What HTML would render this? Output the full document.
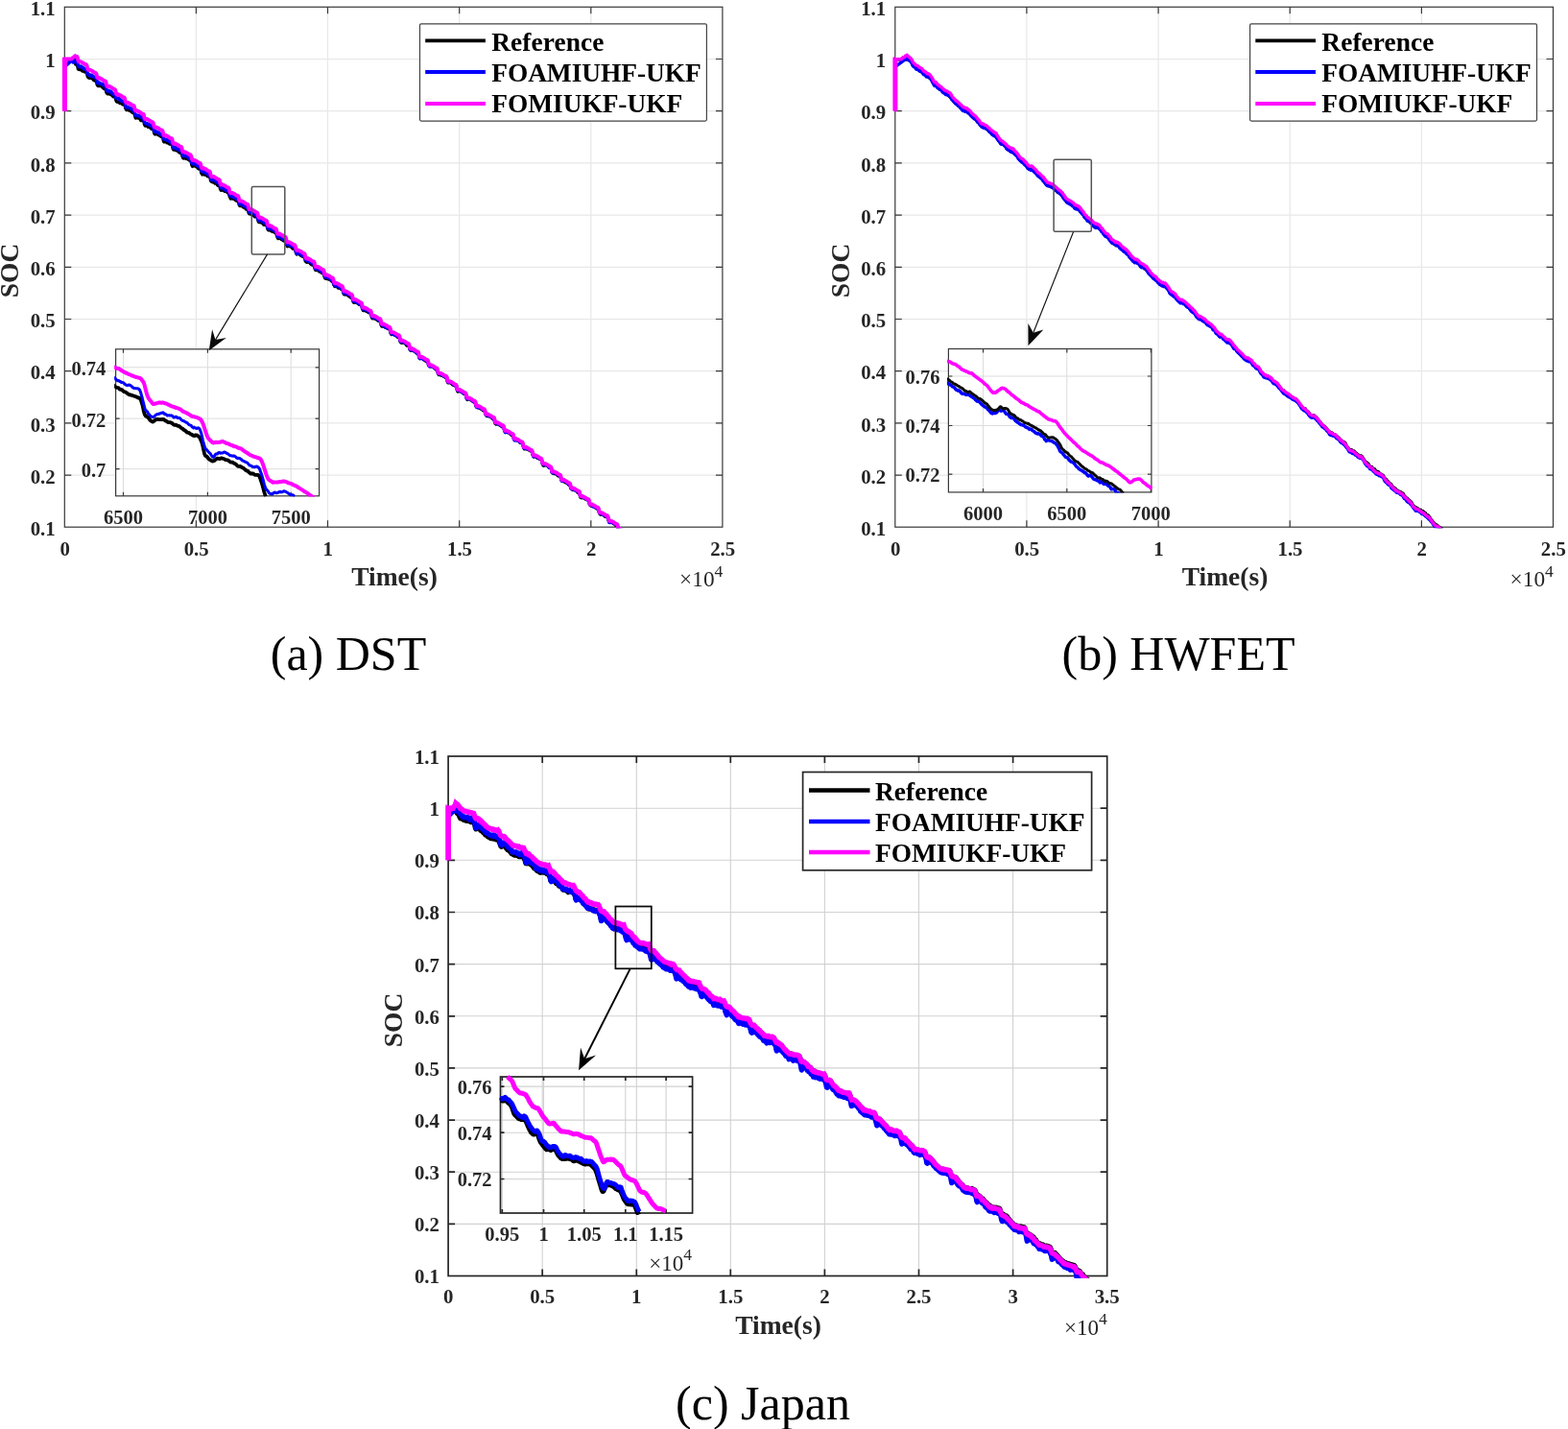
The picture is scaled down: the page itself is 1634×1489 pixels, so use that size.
<!DOCTYPE html>
<html lang="en"><head><meta charset="utf-8"><title>SOC estimation results under DST, HWFET and Japan cycles</title>
<style>html,body{margin:0;padding:0;background:#fff}body{width:1634px;height:1489px;overflow:hidden}svg{display:block}text{font-family:'Liberation Serif','DejaVu Serif',serif}</style>
</head><body>
<svg width="1634" height="1489" viewBox="0 0 1634 1489">
<rect width="1634" height="1489" fill="#fff"/>
<g id="chart-a">
<clipPath id="clipA"><rect x="64.3" y="7.3" width="688.6" height="542.9"/></clipPath>
<path d="M204.4 7.3V549.3M341.5 7.3V549.3M478.7 7.3V549.3M615.8 7.3V549.3M67.3 495.1H752.9M67.3 440.9H752.9M67.3 386.7H752.9M67.3 332.5H752.9M67.3 278.3H752.9M67.3 224.1H752.9M67.3 169.9H752.9M67.3 115.7H752.9M67.3 61.5H752.9" stroke="#e8e8e8" stroke-width="1.25" fill="none"/>
<path d="M204.4 549.3v-7M204.4 7.3v7M341.5 549.3v-7M341.5 7.3v7M478.7 549.3v-7M478.7 7.3v7M615.8 549.3v-7M615.8 7.3v7M67.3 495.1h7M752.9 495.1h-7M67.3 440.9h7M752.9 440.9h-7M67.3 386.7h7M752.9 386.7h-7M67.3 332.5h7M752.9 332.5h-7M67.3 278.3h7M752.9 278.3h-7M67.3 224.1h7M752.9 224.1h-7M67.3 169.9h7M752.9 169.9h-7M67.3 115.7h7M752.9 115.7h-7M67.3 61.5h7M752.9 61.5h-7" stroke="#383838" stroke-width="1.2" fill="none"/>
<rect x="67.3" y="7.3" width="685.6" height="541.9" fill="none" stroke="#383838" stroke-width="1.2"/>
<path d="M67.3 62.1L67.7 62.1L68.1 62.1L68.5 62.1L68.9 62.1L69.4 62.1L69.8 62.1L70.2 62.1L70.6 62.1L71 62.1L71.4 62.1L71.8 62.1L72.2 62.1L72.6 62.1L73.1 62.1L73.5 62.1L73.9 62.1L74.3 62.1L74.7 62.1L75.1 62.1L75.5 62.1L75.9 62.1L76.3 62.1L76.8 62.1L77.2 62.1L77.6 62.1L78 62.1L78.4 62.1L78.8 67.2L79.2 67L79.6 66.9L80.1 67.1L80.5 68.2L80.9 69.4L81.3 71.6L81.7 72.1L82.1 72.4L82.5 72.5L82.9 72.6L83.3 72.6L83.8 72.5L84.2 72.7L84.6 72.9L85 73.3L85.4 73.4L85.8 74L86.2 73.9L86.6 73.8L87 74L87.5 74.3L87.9 74.9L88.3 74.7L88.7 74.7L89.1 74.9L89.5 75.3L89.9 75.5L90.3 75.8L90.7 77.1L91.2 79.5L91.6 80.3L92 80.8L92.4 81L92.8 81L93.2 81.2L93.6 81.4L94 81.5L94.4 81.4L94.9 81.2L95.3 81.1L95.7 81.2L96.1 81.3L96.5 81.9L96.9 82.6L97.3 83.3L97.7 83.5L98.2 83.8L98.6 83.7L99 83.6L99.4 84.1L99.8 84.1L100.2 84.9L100.6 85.4L101 87.6L101.4 88.6L101.9 89.4L102.3 89.6L102.7 89.2L103.1 89.5L103.5 89.3L103.9 89.5L104.3 89.3L104.7 89.3L105.1 89.6L105.6 89.8L106 90.1L106.4 90.3L106.8 91.1L107.2 91.4L107.6 91.7L108 91.9L108.4 92.5L108.8 92.7L109.3 92.6L109.7 92.5L110.1 93.1L110.5 94.4L110.9 96.5L111.3 97L111.7 97.5L112.1 97.8L112.5 97.9L113 97.9L113.4 97.1L113.8 97.4L114.2 97.6L114.6 98.2L115 98.3L115.4 98.5L115.8 98.7L116.3 99L116.7 99.4L117.1 99.8L117.5 100.3L117.9 100.6L118.3 100.9L118.7 100.8L119.1 100.9L119.5 100.9L120 101.2L120.4 102.3L120.8 104.4L121.2 105.3L121.6 106.1L122 106.2L122.4 106.1L122.8 106.3L123.2 106.1L123.7 106.3L124.1 106.9L124.5 107.2L124.9 107.6L125.3 106.9L125.7 107.3L126.1 107.4L126.5 107.7L126.9 108L127.4 108.4L127.8 108.9L128.2 108.7L128.6 108.4L129 108.3L129.4 108.6L129.8 109.1L130.2 110.3L130.6 112.4L131.1 113.5L131.5 114.3L131.9 114.6L132.3 114.5L132.7 114.6L133.1 114.4L133.5 114.2L133.9 114.4L134.4 114.7L134.8 115.2L135.2 115.5L135.6 115.6L136 115.6L136.4 115.7L136.8 116L137.2 116.6L137.6 117.2L138.1 117.3L138.5 117.7L138.9 117.6L139.3 117.7L139.7 117.7L140.1 118.7L140.5 120.8L140.9 122L141.3 123.1L141.8 123.1L142.2 122.7L142.6 122.7L143 122.9L143.4 123L143.8 123L144.2 122.6L144.6 123L145 123L145.5 123.5L145.9 123.9L146.3 124.7L146.7 125.5L147.1 125.5L147.5 125.4L147.9 125.2L148.3 125.4L148.7 125.9L149.2 125.6L149.6 126.2L150 126.6L150.4 129.4L150.8 130.2L151.2 131L151.6 130.7L152 131.1L152.5 131.1L152.9 131.1L153.3 131.1L153.7 131.7L154.1 132.2L154.5 132.4L154.9 132.1L155.3 131.8L155.7 131.6L156.2 132L156.6 132.9L157 133.6L157.4 134.3L157.8 134.3L158.2 134L158.6 133.9L159 134L159.4 134.7L159.9 135.5L160.3 137.4L160.7 138.6L161.1 139.7L161.5 140L161.9 139.6L162.3 139.4L162.7 139.4L163.1 139.3L163.6 139.6L164 139.7L164.4 140.3L164.8 140.5L165.2 140.7L165.6 140.9L166 141L166.4 141.2L166.8 141.7L167.3 142.2L167.7 142.3L168.1 142.3L168.5 142.1L168.9 142.3L169.3 142.2L169.7 143.5L170.1 146L170.6 147.5L171 148L171.4 147.4L171.8 147L172.2 147L172.6 147L173 147.6L173.4 148.1L173.8 148.8L174.3 148.7L174.7 148.5L175.1 148.5L175.5 148.7L175.9 149.4L176.3 149.8L176.7 150.1L177.1 150.1L177.5 150.1L178 150.2L178.4 150.4L178.8 150.4L179.2 151.2L179.6 152.1L180 154.4L180.4 155.2L180.8 156.2L181.2 156.2L181.7 156.1L182.1 156L182.5 155.7L182.9 155.9L183.3 156.6L183.7 156.9L184.1 156.9L184.5 156.6L184.9 156.9L185.4 157.2L185.8 157.6L186.2 158.4L186.6 158.7L187 159L187.4 159.1L187.8 159.4L188.2 159.5L188.7 159.3L189.1 159.7L189.5 160.5L189.9 162.6L190.3 163.3L190.7 164.6L191.1 164.9L191.5 165L191.9 164.6L192.4 164.4L192.8 164.7L193.2 165L193.6 165.3L194 165.4L194.4 165.5L194.8 165.6L195.2 165.7L195.6 165.8L196.1 166L196.5 166.4L196.9 166.8L197.3 167.2L197.7 167.1L198.1 167.2L198.5 167.1L198.9 168L199.3 169.3L199.8 171.9L200.2 172.7L200.6 173.4L201 173.1L201.4 173.1L201.8 172.9L202.2 172.6L202.6 172.7L203 173L203.5 173L203.9 173.1L204.3 173.2L204.7 173.9L205.1 174L205.5 174.1L205.9 174.7L206.3 175.3L206.8 175.8L207.2 175.5L207.6 175.8L208 176L208.4 175.9L208.8 175.9L209.2 177.1L209.6 179.5L210 180.8L210.5 181.2L210.9 181.9L211.3 181.5L211.7 181.5L212.1 180.7L212.5 181.2L212.9 181.5L213.3 182.2L213.7 182.1L214.2 182.2L214.6 181.7L215 181.9L215.4 182.7L215.8 183.3L216.2 183.7L216.6 183.4L217 183.6L217.4 183.9L217.9 184.2L218.3 184.2L218.7 184.7L219.1 185.7L219.5 188.2L219.9 188.8L220.3 189.3L220.7 189.2L221.1 189.5L221.6 189.8L222 189.8L222.4 189.8L222.8 189.9L223.2 190.3L223.6 190.7L224 191.1L224.4 190.9L224.9 191.1L225.3 191.2L225.7 191.5L226.1 191.9L226.5 192.6L226.9 193.3L227.3 193.1L227.7 192.8L228.1 192.6L228.6 193.3L229 194.4L229.4 196.8L229.8 197.5L230.2 198.2L230.6 198L231 197.8L231.4 197.9L231.8 198L232.3 198.3L232.7 198.2L233.1 198.4L233.5 198.9L233.9 199.3L234.3 199.2L234.7 199.3L235.1 199.4L235.5 199.4L236 199.6L236.4 200.2L236.8 200.4L237.2 200.8L237.6 200.6L238 200.9L238.4 201.4L238.8 202.6L239.2 204.6L239.7 205.3L240.1 206.6L240.5 207.1L240.9 206.6L241.3 206.3L241.7 205.9L242.1 206.6L242.5 206.8L243 207.3L243.4 207.3L243.8 207.3L244.2 207.3L244.6 207.7L245 208.1L245.4 208.5L245.8 208.7L246.2 209.1L246.7 209.4L247.1 209.4L247.5 209L247.9 209L248.3 209.4L248.7 211L249.1 213.3L249.5 214L249.9 214.6L250.4 214.5L250.8 214.6L251.2 214.6L251.6 214.4L252 214.5L252.4 214.5L252.8 215.1L253.2 215.5L253.6 216.1L254.1 216.1L254.5 216.3L254.9 216.3L255.3 216.6L255.7 217.2L256.1 217.6L256.5 218.1L256.9 218L257.3 218L257.8 217.7L258.2 218.3L258.6 219.2L259 221.5L259.4 222.3L259.8 222.9L260.2 222.7L260.6 222.5L261.1 222.8L261.5 222.9L261.9 223.5L262.3 223.4L262.7 223.9L263.1 223.8L263.5 223.8L263.9 223.8L264.3 224.4L264.8 225.2L265.2 225.7L265.6 225.9L266 225.8L266.4 225.6L266.8 225.5L267.2 225.9L267.6 226.2L268 226.7L268.5 227.5L268.9 229.6L269.3 231L269.7 231.5L270.1 231.5L270.5 231.5L270.9 231.7L271.3 231.6L271.7 231.4L272.2 231.8L272.6 232.3L273 232.2L273.4 232.4L273.8 232.7L274.2 233.2L274.6 234L275 233.9L275.4 234.3L275.9 234.1L276.3 234.2L276.7 234.2L277.1 233.9L277.5 234.1L277.9 234.4L278.3 235.9L278.7 238.1L279.2 239.3L279.6 239.8L280 239.7L280.4 239.2L280.8 239.4L281.2 239.6L281.6 240.1L282 240.2L282.4 240.3L282.9 240.9L283.3 241.1L283.7 241.2L284.1 240.9L284.5 241.3L284.9 241.6L285.3 241.8L285.7 241.8L286.1 242.1L286.6 242.4L287 242.7L287.4 242.7L287.8 243.1L288.2 244.1L288.6 246.2L289 247.2L289.4 248.2L289.8 248.6L290.3 248L290.7 247.7L291.1 247.9L291.5 248.2L291.9 248.5L292.3 248.4L292.7 249L293.1 249.4L293.5 249.7L294 249.5L294.4 249.8L294.8 250.2L295.2 250.9L295.6 250.9L296 251.1L296.4 250.8L296.8 251L297.3 251L297.7 251.7L298.1 252.7L298.5 255L298.9 255.9L299.3 256.6L299.7 256.8L300.1 256.5L300.5 256.6L301 256.2L301.4 256.4L301.8 256.5L302.2 256.9L302.6 256.8L303 256.9L303.4 256.9L303.8 257.4L304.2 258.2L304.7 258.7L305.1 259.2L305.5 259.2L305.9 259L306.3 259.3L306.7 259.2L307.1 259.6L307.5 259.7L307.9 260.9L308.4 263.2L308.8 264.3L309.2 265L309.6 264.8L310 264.7L310.4 264.4L310.8 264.3L311.2 264.4L311.6 264.8L312.1 265L312.5 265.5L312.9 265.8L313.3 266.1L313.7 265.9L314.1 266.2L314.5 266.9L314.9 267.2L315.4 267.2L315.8 267.3L316.2 267.7L316.6 267.8L317 267.7L317.4 268.2L317.8 269.6L318.2 272L318.6 272.5L319.1 272.9L319.5 273L319.9 273.4L320.3 273.1L320.7 273.1L321.1 272.6L321.5 273L321.9 273L322.3 273.4L322.8 274L323.2 274.5L323.6 275L324 275.4L324.4 275.5L324.8 275.9L325.2 275.7L325.6 275.5L326 275.8L326.5 276.4L326.9 276.9L327.3 276.8L327.7 277.7L328.1 280L328.5 280.9L328.9 281.6L329.3 281.6L329.7 281.3L330.2 280.9L330.6 280.6L331 280.9L331.4 281.3L331.8 282.2L332.2 282.5L332.6 283L333 282.6L333.4 282.4L333.9 282.6L334.3 283.2L334.7 284L335.1 284.3L335.5 284.6L335.9 284.4L336.3 284.6L336.7 284.2L337.2 284.7L337.6 285.7L338 288.3L338.4 289.2L338.8 290L339.2 290.3L339.6 290.4L340 290.4L340.4 289.6L340.9 289.7L341.3 289.9L341.7 290.9L342.1 290.9L342.5 290.9L342.9 290.6L343.3 291.1L343.7 291.5L344.1 291.7L344.6 291.9L345 292.3L345.4 292.7L345.8 293.2L346.2 293.4L346.6 293.6L347 293.8L347.4 294.8L347.8 296.7L348.3 297.5L348.7 298.5L349.1 298.6L349.5 298.4L349.9 297.8L350.3 297.7L350.7 297.8L351.1 298.2L351.5 299.1L352 299.6L352.4 300L352.8 299.6L353.2 299.6L353.6 299.8L354 300L354.4 300.7L354.8 300.7L355.3 301.3L355.7 301.3L356.1 301.8L356.5 301.6L356.9 301.7L357.3 302.6L357.7 304.9L358.1 306L358.5 306.8L359 306.8L359.4 306.9L359.8 306.8L360.2 307L360.6 306.9L361 306.9L361.4 307.1L361.8 307.3L362.2 307.5L362.7 307.7L363.1 308.3L363.5 308.6L363.9 308.9L364.3 308.9L364.7 309.4L365.1 309.8L365.5 310L365.9 309.8L366.4 309.7L366.8 309.7L367.2 310.4L367.6 312.5L368 314.1L368.4 315.1L368.8 315.3L369.2 315.1L369.6 315L370.1 314.8L370.5 315.2L370.9 315.2L371.3 315.6L371.7 315.5L372.1 315.9L372.5 315.9L372.9 316L373.4 316.4L373.8 316.9L374.2 317.2L374.6 317.4L375 317.5L375.4 317.4L375.8 317.4L376.2 317.5L376.6 318.1L377.1 319.3L377.5 321.3L377.9 322.4L378.3 323.4L378.7 323.6L379.1 323.3L379.5 322.9L379.9 323.2L380.3 323.5L380.8 323.8L381.2 323.8L381.6 324.1L382 324.4L382.4 324.5L382.8 324.6L383.2 325L383.6 325.5L384 325.5L384.5 325.8L384.9 325.9L385.3 326L385.7 326.1L386.1 326.2L386.5 326.7L386.9 328.1L387.3 330.4L387.7 331.4L388.2 331.9L388.6 331.6L389 331.5L389.4 331.4L389.8 331.4L390.2 331.6L390.6 332.1L391 332.4L391.5 332.7L391.9 332.5L392.3 333L392.7 333.1L393.1 333.5L393.5 333.8L393.9 334.2L394.3 334.4L394.7 334.5L395.2 334.4L395.6 334.7L396 335L396.4 335.8L396.8 336.8L397.2 338.9L397.6 339.6L398 340.1L398.4 340L398.9 339.8L399.3 339.8L399.7 340.1L400.1 340L400.5 340.1L400.9 340.7L401.3 341.2L401.7 341.3L402.1 341L402.6 341.2L403 341.7L403.4 341.9L403.8 342.3L404.2 342.5L404.6 342.8L405 342.7L405.4 343L405.8 343.1L406.3 343.7L406.7 345L407.1 347.2L407.5 348L407.9 348.6L408.3 348.5L408.7 348.5L409.1 348.1L409.6 348.4L410 348.4L410.4 348.7L410.8 348.7L411.2 349L411.6 349.5L412 349.5L412.4 349.6L412.8 349.3L413.3 349.9L413.7 350.5L414.1 351.2L414.5 351.3L414.9 351L415.3 351.3L415.7 351.4L416.1 352.2L416.5 353.4L417 355.7L417.4 356.2L417.8 357.1L418.2 357.1L418.6 357.3L419 356.9L419.4 356.9L419.8 357L420.2 357L420.7 357.2L421.1 357.3L421.5 357.3L421.9 357.4L422.3 357.8L422.7 358.3L423.1 359.2L423.5 359.5L423.9 360.1L424.4 360L424.8 360.1L425.2 359.8L425.6 359.9L426 359.9L426.4 361.1L426.8 363.4L427.2 364.4L427.7 365.2L428.1 365L428.5 365.2L428.9 365.2L429.3 364.8L429.7 364.7L430.1 364.5L430.5 365L430.9 365.7L431.4 365.9L431.8 366L432.2 366L432.6 366.4L433 366.6L433.4 367L433.8 367.6L434.2 368.3L434.6 368.3L435.1 368L435.5 367.8L435.9 368.4L436.3 369.8L436.7 371.8L437.1 372.9L437.5 373.7L437.9 373.7L438.3 373.4L438.8 373.2L439.2 373.2L439.6 373L440 373.1L440.4 373.4L440.8 374.2L441.2 374.7L441.6 375.1L442 375.1L442.5 375.3L442.9 375.8L443.3 375.9L443.7 376.3L444.1 376.2L444.5 376.3L444.9 376L445.3 376.6L445.8 377.4L446.2 378.7L446.6 380.6L447 381L447.4 381.6L447.8 381.8L448.2 381.6L448.6 381.8L449 381.6L449.5 381.8L449.9 381.8L450.3 382L450.7 382.4L451.1 382.3L451.5 382.5L451.9 382.7L452.3 383.4L452.7 383.8L453.2 383.9L453.6 384L454 384L454.4 384.7L454.8 385.5L455.2 385.7L455.6 385.9L456 386.8L456.4 389L456.9 389.9L457.3 390.6L457.7 390.7L458.1 390.4L458.5 390.3L458.9 390.1L459.3 390.8L459.7 391.2L460.1 391.3L460.6 390.8L461 390.5L461.4 391.1L461.8 391.6L462.2 392.3L462.6 392.3L463 392.5L463.4 392.8L463.9 393.2L464.3 393.3L464.7 393.6L465.1 393.6L465.5 394.6L465.9 395.6L466.3 398L466.7 398.4L467.1 398.9L467.6 398.9L468 398.7L468.4 398.8L468.8 398.6L469.2 398.9L469.6 399.1L470 399.2L470.4 399.6L470.8 400L471.3 400.6L471.7 400.9L472.1 401.2L472.5 401.2L472.9 401.2L473.3 401.2L473.7 401.7L474.1 401.4L474.5 401.6L475 401.7L475.4 402.1L475.8 403.5L476.2 405.9L476.6 407.3L477 408.1L477.4 408L477.8 407.7L478.2 407.1L478.7 407.5L479.1 407.5L479.5 407.7L479.9 407.7L480.3 408L480.7 408.2L481.1 408.3L481.5 408.6L482 409.2L482.4 409.4L482.8 409.8L483.2 410.3L483.6 410.7L484 410.7L484.4 410.7L484.8 410.4L485.2 411L485.7 412.2L486.1 414.7L486.5 415.8L486.9 416.5L487.3 416.4L487.7 416L488.1 415.7L488.5 415.8L488.9 416L489.4 416.1L489.8 416.2L490.2 416.5L490.6 416.9L491 416.8L491.4 417.2L491.8 417.6L492.2 418L492.6 418.3L493.1 418.5L493.5 418.9L493.9 418.9L494.3 419L494.7 419.1L495.1 419.7L495.5 421.1L495.9 423.2L496.3 423.8L496.8 423.9L497.2 424.2L497.6 424.2L498 424.5L498.4 424.5L498.8 424.7L499.2 424.9L499.6 425.1L500.1 425.5L500.5 425.8L500.9 426L501.3 425.9L501.7 425.9L502.1 426L502.5 426.7L502.9 427.3L503.3 427.6L503.8 427.7L504.2 427.7L504.6 428.1L505 428.3L505.4 429L505.8 430.8L506.2 431.5L506.6 432.6L507 433L507.5 433.5L507.9 433L508.3 433L508.7 432.9L509.1 433.4L509.5 433.8L509.9 433.9L510.3 434L510.7 433.8L511.2 434.3L511.6 434.7L512 434.9L512.4 434.9L512.8 435.5L513.2 436.1L513.6 436.5L514 436.4L514.4 436.4L514.9 437.1L515.3 438.5L515.7 440.2L516.1 441.4L516.5 441.7L516.9 442.1L517.3 441.5L517.7 441.7L518.2 441.6L518.6 441.9L519 442.1L519.4 442.3L519.8 442.4L520.2 442.8L520.6 442.8L521 443.1L521.4 443.1L521.9 443.7L522.3 443.9L522.7 444.4L523.1 444.5L523.5 444.9L523.9 445L524.3 444.8L524.7 445.1L525.1 446L525.6 448.7L526 449.4L526.4 450.1L526.8 449.9L527.2 450.4L527.6 450.4L528 450.1L528.4 450.1L528.8 450.5L529.3 450.8L529.7 450.9L530.1 450.9L530.5 450.9L530.9 451.2L531.3 451.5L531.7 452.3L532.1 452.3L532.5 453L533 453.2L533.4 453.7L533.8 453.4L534.2 453.5L534.6 453.7L535 454.9L535.4 456.7L535.8 457.5L536.3 458.4L536.7 458.7L537.1 458.6L537.5 458.3L537.9 458.4L538.3 458.7L538.7 459.1L539.1 459L539.5 459.2L540 459.5L540.4 459.6L540.8 459.8L541.2 460.2L541.6 461L542 461.4L542.4 461.3L542.8 461.5L543.2 461.6L543.7 461.8L544.1 461.4L544.5 461.9L544.9 463.2L545.3 465.2L545.7 466.6L546.1 467.2L546.5 467.9L546.9 467.7L547.4 467.6L547.8 467.4L548.2 467.5L548.6 467.8L549 468.2L549.4 468.2L549.8 468.2L550.2 467.9L550.6 468.3L551.1 468.8L551.5 469.4L551.9 469.4L552.3 469.6L552.7 469.8L553.1 470L553.5 469.9L553.9 470.4L554.4 471L554.8 472.3L555.2 474.1L555.6 475.1L556 475.8L556.4 476L556.8 475.8L557.2 475.8L557.6 475.5L558.1 475.6L558.5 475.7L558.9 476.2L559.3 476.7L559.7 477.2L560.1 477.3L560.5 477.5L560.9 477.1L561.3 477.6L561.8 477.8L562.2 478.4L562.6 478.2L563 478.2L563.4 478.4L563.8 478.5L564.2 479L564.6 480.1L565 482.5L565.5 483.9L565.9 484.8L566.3 485.3L566.7 485.2L567.1 485.1L567.5 484.5L567.9 484.8L568.3 484.8L568.7 484.9L569.2 484.6L569.6 484.9L570 485.1L570.4 485.5L570.8 485.5L571.2 486.2L571.6 486.5L572 487.2L572.5 487L572.9 487L573.3 486.7L573.7 487.1L574.1 487.6L574.5 488.9L574.9 491.3L575.3 492.3L575.7 493L576.2 493L576.6 493.3L577 493.2L577.4 493.1L577.8 493.2L578.2 493.7L578.6 493.9L579 493.8L579.4 493.8L579.9 493.7L580.3 494L580.7 494.6L581.1 495.4L581.5 495.9L581.9 496L582.3 495.9L582.7 495.2L583.1 495.4L583.6 495.5L584 496.6L584.4 497.9L584.8 500L585.2 500.5L585.6 501.1L586 501.5L586.4 501.5L586.8 501.4L587.3 501.3L587.7 501.4L588.1 501.9L588.5 502.2L588.9 502.7L589.3 502.8L589.7 502.7L590.1 502.7L590.5 502.6L591 502.9L591.4 503.6L591.8 504.3L592.2 504.9L592.6 504.5L593 504.4L593.4 504.3L593.8 505.1L594.3 506.4L594.7 508.6L595.1 509.2L595.5 509.5L595.9 509.8L596.3 509.9L596.7 510.4L597.1 510.6L597.5 510.4L598 510.4L598.4 510.3L598.8 510.5L599.2 510.7L599.6 510.7L600 511.2L600.4 511.5L600.8 511.8L601.2 512.2L601.7 513L602.1 513.2L602.5 513.4L602.9 512.8L603.3 512.8L603.7 512.9L604.1 514.3L604.5 517.1L604.9 518.2L605.4 518.6L605.8 518.4L606.2 518.5L606.6 518.7L607 518.3L607.4 518.2L607.8 518.3L608.2 518.7L608.6 519.1L609.1 519.3L609.5 519.5L609.9 519.7L610.3 520.2L610.7 520.4L611.1 520.3L611.5 520.3L611.9 520.7L612.4 521L612.8 521.2L613.2 521.3L613.6 522.1L614 523.3L614.4 525.3L614.8 526.2L615.2 526.6L615.6 527L616.1 527L616.5 527.3L616.9 527.3L617.3 527.4L617.7 527.5L618.1 527.3L618.5 527.1L618.9 527.1L619.3 527.8L619.8 528.2L620.2 528.8L620.6 528.9L621 529.4L621.4 529.6L621.8 530L622.2 529.9L622.6 530.1L623 529.6L623.5 530.3L623.9 531.2L624.3 533.8L624.7 534.6L625.1 535.7L625.5 535.9L625.9 536.2L626.3 535.9L626.7 535.5L627.2 535.6L627.6 535.6L628 536L628.4 536L628.8 536.2L629.2 536.5L629.6 537.1L630 537.9L630.5 538.3L630.9 538.2L631.3 538.4L631.7 538.4L632.1 538.7L632.5 538.3L632.9 538.7L633.3 539.1L633.7 540.5L634.2 542.4L634.6 543.4L635 544.1L635.4 544L635.8 544L636.2 543.6L636.6 543.5L637 543.5L637.4 543.9L637.9 544.4L638.3 544.8L638.7 545.2L639.1 545.4L639.5 545.7L639.9 545.8L640.3 546L640.7 546.1L641.1 546.8L641.6 547.4L642 547.5L642.4 547.3L642.8 547.3L643.2 548.4L643.6 549.3L644 551.4L644.4 552L644.8 552.6L645.3 553L645.7 553.1L646.1 553L646.5 553.1L646.9 553.1L647.3 553.4L647.7 553.1L648.1 553.2L648.6 553L649 553.7L649.4 554.1L649.8 554.7L650.2 554.9L650.6 554.9L651 555.2" stroke="#000" stroke-width="3.3" fill="none" stroke-linejoin="round" stroke-linecap="butt" clip-path="url(#clipA)"/>
<path d="M67.3 69.7L67.7 69.3L68.1 68.9L68.5 68.6L68.9 68.2L69.4 67.8L69.8 67.5L70.2 67.1L70.6 66.7L71 66.3L71.4 66L71.8 65.6L72.2 65.2L72.6 64.9L73.1 64.5L73.5 64.1L73.9 63.8L74.3 63.4L74.7 63L75.1 62.7L75.5 62.3L75.9 61.9L76.3 64.9L76.8 64.8L77.2 64.6L77.6 64.3L78 63.8L78.4 63.6L78.8 63.8L79.2 64.1L79.6 64.1L80.1 64.1L80.5 64.6L80.9 65.4L81.3 67.6L81.7 68.2L82.1 69.3L82.5 69.4L82.9 69.6L83.3 69.4L83.8 69.2L84.2 69.1L84.6 69.2L85 69.4L85.4 70L85.8 70.4L86.2 70.4L86.6 70.5L87 71L87.5 71.7L87.9 72.2L88.3 72L88.7 72.2L89.1 71.7L89.5 71.9L89.9 72L90.3 73L90.7 74L91.2 76.2L91.6 77.2L92 78L92.4 78.1L92.8 77.6L93.2 77.7L93.6 78.1L94 78.3L94.4 78.9L94.9 78.3L95.3 78.4L95.7 78.3L96.1 78.9L96.5 79.7L96.9 79.8L97.3 79.9L97.7 80.1L98.2 80.6L98.6 80.4L99 80.4L99.4 80.3L99.8 80.7L100.2 81L100.6 82L101 84.4L101.4 85.6L101.9 86.7L102.3 86.8L102.7 86.4L103.1 86.3L103.5 86.1L103.9 86.6L104.3 86.8L104.7 86.9L105.1 87.1L105.6 87.3L106 87.5L106.4 87.5L106.8 87.6L107.2 88L107.6 88.7L108 89.1L108.4 89.2L108.8 88.8L109.3 89.2L109.7 88.9L110.1 89.8L110.5 90.6L110.9 93.2L111.3 94L111.7 94.7L112.1 94.9L112.5 95.1L113 95.4L113.4 95.2L113.8 94.5L114.2 94.8L114.6 95.1L115 95.5L115.4 95.3L115.8 95.5L116.3 96.3L116.7 97L117.1 97.4L117.5 97.5L117.9 97.9L118.3 98.3L118.7 98.3L119.1 98.1L119.5 98L120 98.6L120.4 99.8L120.8 101.6L121.2 102.1L121.6 102.3L122 102.5L122.4 102.6L122.8 102.6L123.2 102.3L123.7 102.3L124.1 102.6L124.5 103.3L124.9 104.1L125.3 104.3L125.7 104.4L126.1 104.3L126.5 105L126.9 105.5L127.4 105.6L127.8 105.6L128.2 105.8L128.6 106.1L129 106.3L129.4 106.1L129.8 106.2L130.2 107.3L130.6 109.8L131.1 111.1L131.5 112L131.9 111.7L132.3 111.6L132.7 111.4L133.1 111.5L133.5 111.6L133.9 112L134.4 112L134.8 112.4L135.2 112.7L135.6 112.9L136 113.1L136.4 113L136.8 113.3L137.2 113.4L137.6 114L138.1 114.3L138.5 114.9L138.9 114.8L139.3 115.1L139.7 114.9L140.1 116.3L140.5 118.4L140.9 119.5L141.3 120.3L141.8 120.4L142.2 120.2L142.6 120L143 120.2L143.4 120.5L143.8 120.6L144.2 120.4L144.6 120.3L145 120.5L145.5 121.1L145.9 121.3L146.3 121.6L146.7 121.8L147.1 122.1L147.5 122.3L147.9 122.4L148.3 122.9L148.7 123.3L149.2 123.8L149.6 124L150 125L150.4 126.6L150.8 127.5L151.2 128.3L151.6 128.2L152 128.4L152.5 128.5L152.9 128.9L153.3 128.7L153.7 128.8L154.1 129L154.5 129.6L154.9 129.4L155.3 129.6L155.7 129.8L156.2 130.4L156.6 130.8L157 130.9L157.4 131L157.8 131.1L158.2 131.2L158.6 131.6L159 131.7L159.4 132L159.9 132.9L160.3 135.1L160.7 136.3L161.1 137.2L161.5 137L161.9 136.8L162.3 136.7L162.7 137.2L163.1 137.1L163.6 137.6L164 137.7L164.4 138.2L164.8 138.1L165.2 138L165.6 138.3L166 138.7L166.4 139.1L166.8 139.6L167.3 139.9L167.7 140.2L168.1 139.9L168.5 140L168.9 139.8L169.3 140.2L169.7 141L170.1 143.2L170.6 144.1L171 145L171.4 145.1L171.8 145.3L172.2 145.2L172.6 145.2L173 145.2L173.4 145.3L173.8 145.9L174.3 146.2L174.7 146.4L175.1 146.3L175.5 146.1L175.9 146.6L176.3 147L176.7 147.4L177.1 147.6L177.5 148.1L178 148.5L178.4 148.4L178.8 148.5L179.2 148.7L179.6 150.2L180 151.9L180.4 153.1L180.8 153.7L181.2 154.4L181.7 154.2L182.1 153.9L182.5 153.7L182.9 153.6L183.3 154.2L183.7 154.2L184.1 155.1L184.5 155L184.9 155.3L185.4 155.1L185.8 155.8L186.2 156.2L186.6 156.2L187 156.4L187.4 156.2L187.8 156.6L188.2 156.5L188.7 156.9L189.1 157.3L189.5 157.9L189.9 159.9L190.3 160.8L190.7 162.1L191.1 162.1L191.5 161.9L191.9 162L192.4 162.4L192.8 162.4L193.2 162.2L193.6 162.2L194 162.7L194.4 162.7L194.8 162.8L195.2 163.1L195.6 163.3L196.1 163.7L196.5 164.2L196.9 165L197.3 165.2L197.7 165.3L198.1 165.3L198.5 165.3L198.9 166.3L199.3 167.5L199.8 169.6L200.2 169.8L200.6 170.5L201 170.8L201.4 170.7L201.8 170.5L202.2 170.4L202.6 170.4L203 170.7L203.5 170.7L203.9 171.3L204.3 171.4L204.7 171.8L205.1 172.2L205.5 172.3L205.9 172.6L206.3 172.8L206.8 173.5L207.2 173.6L207.6 173.8L208 174L208.4 173.8L208.8 174.3L209.2 174.8L209.6 177.4L210 178.1L210.5 178.6L210.9 178.5L211.3 178.7L211.7 179L212.1 178.9L212.5 179L212.9 179.3L213.3 179.7L213.7 179.8L214.2 180L214.6 180.2L215 180.4L215.4 180.7L215.8 180.3L216.2 180.8L216.6 181.3L217 182.1L217.4 182.1L217.9 182.2L218.3 182.4L218.7 182.7L219.1 183.8L219.5 185.5L219.9 186.7L220.3 187.4L220.7 187.4L221.1 187.4L221.6 187.3L222 187.6L222.4 187.4L222.8 187.3L223.2 187.4L223.6 187.6L224 187.8L224.4 188.1L224.9 188.7L225.3 189.3L225.7 189.7L226.1 189.7L226.5 190L226.9 190L227.3 190.4L227.7 190.3L228.1 190.7L228.6 190.9L229 191.9L229.4 193.9L229.8 194.9L230.2 195.7L230.6 195.8L231 195.9L231.4 195.7L231.8 195.6L232.3 195.9L232.7 196.2L233.1 196.8L233.5 196.9L233.9 197L234.3 197.1L234.7 197.6L235.1 198L235.5 198.4L236 198.4L236.4 198.6L236.8 198.4L237.2 198.6L237.6 198.5L238 199.1L238.4 199.3L238.8 200.6L239.2 202.5L239.7 203.5L240.1 203.9L240.5 204.3L240.9 204.5L241.3 204.2L241.7 203.8L242.1 203.8L242.5 204.4L243 205L243.4 205.3L243.8 205.5L244.2 205.6L244.6 205.4L245 205.7L245.4 205.8L245.8 206.7L246.2 206.9L246.7 207.3L247.1 207.6L247.5 207.6L247.9 207.5L248.3 207.5L248.7 208.4L249.1 211L249.5 212.1L249.9 212.9L250.4 212.7L250.8 212.4L251.2 212.5L251.6 212.3L252 212.7L252.4 212.8L252.8 213.6L253.2 213.8L253.6 213.9L254.1 214.1L254.5 214.3L254.9 214.6L255.3 214.8L255.7 214.9L256.1 215.4L256.5 215.4L256.9 215.7L257.3 215.5L257.8 216.2L258.2 216.6L258.6 217.7L259 219.3L259.4 220.5L259.8 221L260.2 221.4L260.6 220.9L261.1 221L261.5 220.8L261.9 220.8L262.3 221.4L262.7 221.5L263.1 222.1L263.5 222L263.9 222L264.3 222.1L264.8 222.5L265.2 222.8L265.6 223.5L266 223.9L266.4 224L266.8 224.2L267.2 224.2L267.6 224.9L268 225.2L268.5 226.6L268.9 228.2L269.3 229.3L269.7 229.8L270.1 229.9L270.5 229.4L270.9 229.2L271.3 229L271.7 229.2L272.2 229.4L272.6 229.8L273 230.2L273.4 230.8L273.8 231L274.2 230.9L274.6 231.1L275 231.6L275.4 232.2L275.9 232.1L276.3 231.9L276.7 232.3L277.1 232.6L277.5 233L277.9 233.2L278.3 234.7L278.7 236.6L279.2 237.6L279.6 237.9L280 238.2L280.4 238.2L280.8 238.1L281.2 238.1L281.6 238.2L282 238.4L282.4 238.5L282.9 238.8L283.3 238.9L283.7 239.1L284.1 239.2L284.5 239.6L284.9 239.6L285.3 239.7L285.7 239.8L286.1 240.2L286.6 240.7L287 240.8L287.4 240.7L287.8 241.1L288.2 242.3L288.6 244.8L289 246L289.4 246.6L289.8 246.6L290.3 246.2L290.7 246L291.1 245.7L291.5 246L291.9 246.8L292.3 247.6L292.7 247.7L293.1 247.8L293.5 247.5L294 247.7L294.4 248.1L294.8 248.5L295.2 249.2L295.6 249.1L296 249.4L296.4 249.1L296.8 249.6L297.3 249.5L297.7 250L298.1 251L298.5 253.3L298.9 253.9L299.3 254.6L299.7 254.5L300.1 254.9L300.5 254.9L301 254.7L301.4 254.7L301.8 254.7L302.2 255.7L302.6 255.9L303 256L303.4 255.7L303.8 256L304.2 256.2L304.7 256.5L305.1 256.7L305.5 257.1L305.9 257.2L306.3 257.6L306.7 257.9L307.1 258.3L307.5 258.9L307.9 260L308.4 262.3L308.8 262.9L309.2 264.2L309.6 264.2L310 264.1L310.4 263.5L310.8 263.4L311.2 263.6L311.6 264L312.1 263.8L312.5 264L312.9 264L313.3 264.1L313.7 264.6L314.1 265.3L314.5 266.1L314.9 266.2L315.4 266.3L315.8 266.4L316.2 266.4L316.6 266.6L317 266.7L317.4 267.4L317.8 268L318.2 270.2L318.6 270.4L319.1 271.1L319.5 271.3L319.9 271.6L320.3 271.6L320.7 271.7L321.1 272.1L321.5 272.2L321.9 272L322.3 272.1L322.8 272.5L323.2 273L323.6 273L324 273L324.4 273.4L324.8 274L325.2 274.6L325.6 274.6L326 274.5L326.5 274.3L326.9 274.5L327.3 275.3L327.7 276.5L328.1 278.5L328.5 279.3L328.9 280.1L329.3 280.2L329.7 279.9L330.2 279.9L330.6 279.8L331 280L331.4 280.5L331.8 280.7L332.2 280.9L332.6 280.7L333 281.2L333.4 281.6L333.9 282L334.3 282.5L334.7 282.7L335.1 283.1L335.5 283.1L335.9 283.2L336.3 283.7L336.7 283.7L337.2 284.1L337.6 284.6L338 286.5L338.4 287.3L338.8 288.1L339.2 288.9L339.6 288.8L340 288.7L340.4 288L340.9 288.2L341.3 288.7L341.7 289.2L342.1 289.4L342.5 289.5L342.9 289.5L343.3 289.7L343.7 290.3L344.1 290.4L344.6 290.9L345 291.4L345.4 291.8L345.8 291.5L346.2 291.1L346.6 291.3L347 291.9L347.4 293.1L347.8 295.4L348.3 296.7L348.7 297.4L349.1 297.6L349.5 297.3L349.9 296.9L350.3 296.8L350.7 296.9L351.1 297.7L351.5 298L352 298.2L352.4 297.8L352.8 297.6L353.2 297.7L353.6 298.5L354 299.1L354.4 300.1L354.8 300.2L355.3 300.3L355.7 299.9L356.1 300.2L356.5 300.3L356.9 300.6L357.3 301.4L357.7 303.8L358.1 304.8L358.5 305.5L359 305.5L359.4 305.3L359.8 305.2L360.2 305.5L360.6 305.8L361 305.9L361.4 306L361.8 306.1L362.2 306.5L362.7 306.3L363.1 306.5L363.5 306.7L363.9 307.1L364.3 307.3L364.7 307.7L365.1 307.9L365.5 308L365.9 308.1L366.4 308.4L366.8 309.2L367.2 310.2L367.6 312.4L368 313.2L368.4 313.7L368.8 313.9L369.2 313.8L369.6 314.1L370.1 314L370.5 314L370.9 314.3L371.3 314.5L371.7 315L372.1 315.1L372.5 315.2L372.9 315.3L373.4 315.4L373.8 315.6L374.2 315.9L374.6 316.8L375 317L375.4 316.8L375.8 316.7L376.2 317L376.6 317.6L377.1 318.7L377.5 321L377.9 321.7L378.3 322.1L378.7 322.1L379.1 322.1L379.5 322.1L379.9 322.4L380.3 322.5L380.8 322.8L381.2 322.7L381.6 322.9L382 322.9L382.4 323L382.8 323.6L383.2 323.8L383.6 323.8L384 324.1L384.5 324.7L384.9 325.3L385.3 325.4L385.7 325.3L386.1 325.5L386.5 325.7L386.9 326.8L387.3 328.9L387.7 329.6L388.2 330.6L388.6 330.7L389 330.8L389.4 330.8L389.8 330.9L390.2 331.2L390.6 331.3L391 331.1L391.5 331.3L391.9 330.8L392.3 331.2L392.7 331.5L393.1 332L393.5 332.3L393.9 332.2L394.3 333.5L394.7 333.8L395.2 334L395.6 333.2L396 333.1L396.4 334L396.8 335.4L397.2 337.5L397.6 338.2L398 338.7L398.4 339.1L398.9 338.9L399.3 338.8L399.7 338L400.1 338.2L400.5 338.5L400.9 339.5L401.3 340.1L401.7 340.8L402.1 340.8L402.6 340.3L403 340.2L403.4 341.1L403.8 341.8L404.2 342.1L404.6 342L405 341.8L405.4 341.6L405.8 341.4L406.3 342.3L406.7 343.5L407.1 346.2L407.5 346.7L407.9 347.7L408.3 347.4L408.7 347.5L409.1 347.2L409.6 347.6L410 347.6L410.4 348.3L410.8 348.5L411.2 349L411.6 348.4L412 348.4L412.4 348.5L412.8 349.1L413.3 349L413.7 349.2L414.1 349.9L414.5 350.7L414.9 350.8L415.3 350.4L415.7 350.4L416.1 350.9L416.5 352.4L417 354.8L417.4 355.5L417.8 355.9L418.2 355.7L418.6 356.1L419 356L419.4 356L419.8 355.5L420.2 355.7L420.7 356L421.1 356.5L421.5 356.8L421.9 356.9L422.3 357.4L422.7 357.6L423.1 357.4L423.5 357.6L423.9 357.8L424.4 358.5L424.8 358.7L425.2 359.1L425.6 359.2L426 359.4L426.4 360.3L426.8 362.8L427.2 363.8L427.7 364.7L428.1 363.9L428.5 364.2L428.9 364.2L429.3 364.2L429.7 364L430.1 364L430.5 364.6L430.9 365.1L431.4 365.5L431.8 365.7L432.2 365.7L432.6 366L433 366L433.4 366.6L433.8 367.2L434.2 367.6L434.6 367.4L435.1 367.3L435.5 367.5L435.9 368.3L436.3 369.8L436.7 372L437.1 372.9L437.5 373.4L437.9 373.5L438.3 373.2L438.8 373.2L439.2 372.8L439.6 372.9L440 373L440.4 373.4L440.8 373.8L441.2 374.3L441.6 374.3L442 374.2L442.5 374.1L442.9 374.4L443.3 374.9L443.7 375.2L444.1 375.5L444.5 375.8L444.9 375.9L445.3 376.1L445.8 376.6L446.2 377.9L446.6 380.1L447 380.8L447.4 381.6L447.8 381.6L448.2 381.6L448.6 381.4L449 381.2L449.5 381.2L449.9 381.4L450.3 381.5L450.7 382.1L451.1 382.2L451.5 382.3L451.9 382.2L452.3 382.3L452.7 383.1L453.2 383.3L453.6 383.9L454 383.8L454.4 384.1L454.8 383.9L455.2 384.4L455.6 384.9L456 386.5L456.4 388.5L456.9 389.2L457.3 389.5L457.7 389.5L458.1 389.4L458.5 389.4L458.9 389.4L459.3 389.8L459.7 389.9L460.1 390.2L460.6 390.2L461 390.6L461.4 390.9L461.8 391.4L462.2 391.7L462.6 391.8L463 392.3L463.4 392.5L463.9 392.2L464.3 392L464.7 392.1L465.1 392.8L465.5 393.4L465.9 394.4L466.3 396.6L466.7 397.7L467.1 398.2L467.6 398.3L468 397.8L468.4 398L468.8 397.7L469.2 398L469.6 397.7L470 398L470.4 398L470.8 398.7L471.3 399.4L471.7 399.9L472.1 400.1L472.5 400.1L472.9 400.5L473.3 401.1L473.7 401.6L474.1 401.7L474.5 401.5L475 401.3L475.4 401.6L475.8 402.8L476.2 405L476.6 406.1L477 406.7L477.4 406.8L477.8 406.6L478.2 406.6L478.7 406.6L479.1 406.6L479.5 406.6L479.9 407.2L480.3 407.7L480.7 408L481.1 407.7L481.5 408.3L482 409L482.4 409.6L482.8 409.5L483.2 409.8L483.6 409.7L484 409.7L484.4 409.4L484.8 409.6L485.2 410.5L485.7 411.7L486.1 414.5L486.5 415L486.9 415.5L487.3 415.1L487.7 415.4L488.1 415.5L488.5 415.3L488.9 415.5L489.4 415.7L489.8 416L490.2 416.2L490.6 416.5L491 416.6L491.4 416.5L491.8 416.4L492.2 416.9L492.6 417.6L493.1 418.2L493.5 418.6L493.9 418.6L494.3 418.6L494.7 418.3L495.1 418.7L495.5 419.5L495.9 422.2L496.3 423.2L496.8 424.2L497.2 424.5L497.6 424.7L498 424.7L498.4 424.2L498.8 423.9L499.2 424.1L499.6 424.4L500.1 425L500.5 425.2L500.9 425L501.3 424.9L501.7 425.3L502.1 425.9L502.5 426.3L502.9 426.2L503.3 426.6L503.8 426.7L504.2 426.9L504.6 427L505 427.6L505.4 428.8L505.8 430.9L506.2 431.8L506.6 432.7L507 432.8L507.5 432.5L507.9 432.2L508.3 432.5L508.7 432.6L509.1 432.9L509.5 432.7L509.9 433.2L510.3 433.4L510.7 433.8L511.2 434.2L511.6 434.4L512 434.5L512.4 434.8L512.8 434.8L513.2 434.9L513.6 434.8L514 434.9L514.4 435.1L514.9 435.8L515.3 437.3L515.7 439.5L516.1 440L516.5 440.5L516.9 440.6L517.3 441L517.7 441L518.2 440.6L518.6 440.7L519 440.8L519.4 441.3L519.8 441.4L520.2 441.9L520.6 442.3L521 442.6L521.4 442.6L521.9 443.1L522.3 443.4L522.7 444L523.1 444.2L523.5 444.3L523.9 444.7L524.3 444.4L524.7 444.7L525.1 445.8L525.6 447.8L526 449L526.4 449.9L526.8 450.5L527.2 450.2L527.6 450.2L528 449.9L528.4 450L528.8 449.7L529.3 449.9L529.7 450L530.1 450.4L530.5 450.4L530.9 451L531.3 451.2L531.7 451.7L532.1 451.8L532.5 451.8L533 452L533.4 452.1L533.8 452.6L534.2 452.7L534.6 453.6L535 454.5L535.4 457L535.8 457.9L536.3 458.8L536.7 458.8L537.1 458.3L537.5 458.1L537.9 457.8L538.3 458.1L538.7 458.6L539.1 458.4L539.5 458.5L540 458.4L540.4 458.6L540.8 459.1L541.2 459.6L541.6 460.4L542 460.4L542.4 460.8L542.8 460.8L543.2 461.3L543.7 461.6L544.1 461.8L544.5 461.9L544.9 462.9L545.3 464.9L545.7 465.9L546.1 467L546.5 467.2L546.9 466.8L547.4 466.6L547.8 466.7L548.2 467.4L548.6 467.2L549 467.4L549.4 467.1L549.8 467.6L550.2 467.6L550.6 468L551.1 468L551.5 468L551.9 468.2L552.3 469L552.7 469.2L553.1 469.3L553.5 469.3L553.9 469.6L554.4 470.4L554.8 471.3L555.2 473.6L555.6 474.5L556 475.6L556.4 475.6L556.8 475.4L557.2 475.4L557.6 475.3L558.1 475.4L558.5 475.1L558.9 475.2L559.3 475.6L559.7 475.8L560.1 476.1L560.5 476.3L560.9 477L561.3 477.2L561.8 477.3L562.2 477.6L562.6 478L563 478.3L563.4 478.5L563.8 478.8L564.2 479.1L564.6 480L565 481.9L565.5 482.9L565.9 483.7L566.3 483.7L566.7 483.9L567.1 483.7L567.5 484.1L567.9 483.9L568.3 484.3L568.7 484.3L569.2 484.4L569.6 484.8L570 484.7L570.4 484.8L570.8 484.8L571.2 485.3L571.6 485.9L572 486.7L572.5 487.3L572.9 487.3L573.3 487.5L573.7 487.1L574.1 487.6L574.5 488.3L574.9 490.9L575.3 492.2L575.7 492.8L576.2 492.7L576.6 492.1L577 492.2L577.4 492.1L577.8 492.4L578.2 492.4L578.6 492.8L579 493L579.4 492.8L579.9 492.8L580.3 492.9L580.7 493.7L581.1 494.3L581.5 494.6L581.9 494.7L582.3 495.1L582.7 495L583.1 494.8L583.6 494.6L584 495.5L584.4 497L584.8 499.5L585.2 500.6L585.6 501.2L586 501.2L586.4 500.7L586.8 500.2L587.3 500L587.7 500.3L588.1 501L588.5 501.3L588.9 501.2L589.3 501.4L589.7 501.5L590.1 502.2L590.5 502.7L591 503.2L591.4 503.2L591.8 503.5L592.2 503.4L592.6 503.9L593 503.8L593.4 504.2L593.8 504.2L594.3 505.5L594.7 507.8L595.1 509L595.5 509.5L595.9 509.3L596.3 509.4L596.7 509.6L597.1 509.9L597.5 509.5L598 509.5L598.4 509.4L598.8 510.3L599.2 510.5L599.6 510.9L600 510.5L600.4 511.2L600.8 511.2L601.2 511.6L601.7 511.5L602.1 512.2L602.5 512.1L602.9 512.2L603.3 512.1L603.7 512.9L604.1 514.1L604.5 516.2L604.9 517.1L605.4 517.6L605.8 517.6L606.2 517.7L606.6 517.8L607 517.7L607.4 517.8L607.8 518.1L608.2 518.3L608.6 518.4L609.1 518.6L609.5 518.9L609.9 519L610.3 519.1L610.7 519.5L611.1 519.6L611.5 520.4L611.9 520.6L612.4 520.9L612.8 520.9L613.2 521.3L613.6 522L614 522.9L614.4 524.9L614.8 525.6L615.2 526.1L615.6 526.3L616.1 526.3L616.5 526.4L616.9 526.6L617.3 526.8L617.7 527.5L618.1 527.5L618.5 527.9L618.9 527.5L619.3 527.7L619.8 527.9L620.2 528.2L620.6 528.5L621 528.9L621.4 529.2L621.8 529.2L622.2 529.1L622.6 529.8L623 530.2L623.5 530.8L623.9 531.3L624.3 533.4L624.7 534L625.1 534.8L625.5 534.7L625.9 534.8L626.3 534.7L626.7 534.5L627.2 535L627.6 535.3L628 536.1L628.4 536.2L628.8 536.4L629.2 536.5L629.6 536.4L630 536.5L630.5 536.5L630.9 537.3L631.3 537.8L631.7 538.1L632.1 538.2L632.5 538.8L632.9 538.8L633.3 539.2L633.7 539.7L634.2 542L634.6 543.1L635 544.5L635.4 544.5L635.8 543.8L636.2 543.7L636.6 543.6L637 543.9L637.4 543.9L637.9 544.2L638.3 544.6L638.7 544.7L639.1 544.9L639.5 544.8L639.9 545.5L640.3 545.5L640.7 545.9L641.1 545.9L641.6 546.4L642 546.4L642.4 546.7L642.8 546.8L643.2 547.7L643.6 548.5L644 550.8L644.4 551.7L644.8 552.4L645.3 552.3L645.7 552.1L646.1 551.8L646.5 552.1L646.9 552.4L647.3 552.9L647.7 552.6L648.1 552.9L648.6 553.1L649 553.4L649.4 553.6L649.8 554L650.2 554.4L650.6 554.7L651 554.8" stroke="#0000ff" stroke-width="3.6" fill="none" stroke-linejoin="round" stroke-linecap="butt" clip-path="url(#clipA)"/>
<path d="M67.3 115.7L67.3 61.5L67.7 61.5L68.1 61.5L68.5 61.5L68.9 61.5L69.4 61.5L69.8 61.5L70.2 61.5L70.6 61.5L71 61.5L71.4 61.5L71.8 61.5L72.2 61.5L72.6 61.5L73.1 61.5L73.5 61.5L73.9 61.5L74.3 61.4L74.7 61.1L75.1 60.8L75.5 60.5L75.9 60.2L76.3 59.9L76.8 59.6L77.2 59.3L77.6 59L78 58.6L78.4 58.3L78.8 58.5L79.2 58.7L79.6 58.8L80.1 58.9L80.5 59.4L80.9 60.4L81.3 62.6L81.7 63.5L82.1 64.3L82.5 64.3L82.9 64.3L83.3 64.2L83.8 64.2L84.2 64.3L84.6 64.5L85 64.8L85.4 65L85.8 65.2L86.2 65.3L86.6 65.6L87 65.9L87.5 66.2L87.9 66.5L88.3 66.9L88.7 67.1L89.1 67.2L89.5 67.3L89.9 67.4L90.3 67.9L90.7 69L91.2 71.1L91.6 72.1L92 72.8L92.4 72.9L92.8 72.8L93.2 72.8L93.6 72.7L94 72.8L94.4 73.1L94.9 73.3L95.3 73.5L95.7 73.7L96.1 73.9L96.5 74.1L96.9 74.4L97.3 74.8L97.7 75.1L98.2 75.4L98.6 75.6L99 75.8L99.4 75.9L99.8 76L100.2 76.5L100.6 77.5L101 79.7L101.4 80.6L101.9 81.3L102.3 81.4L102.7 81.4L103.1 81.3L103.5 81.2L103.9 81.4L104.3 81.6L104.7 81.9L105.1 82.1L105.6 82.3L106 82.4L106.4 82.7L106.8 83L107.2 83.3L107.6 83.6L108 83.9L108.4 84.2L108.8 84.3L109.3 84.4L109.7 84.5L110.1 85L110.5 86.1L110.9 88.2L111.3 89.2L111.7 89.9L112.1 90L112.5 89.9L113 89.9L113.4 89.8L113.8 89.9L114.2 90.2L114.6 90.4L115 90.6L115.4 90.8L115.8 91L116.3 91.2L116.7 91.5L117.1 91.8L117.5 92.2L117.9 92.5L118.3 92.7L118.7 92.8L119.1 93L119.5 93.1L120 93.6L120.4 94.6L120.8 96.8L121.2 97.7L121.6 98.4L122 98.5L122.4 98.5L122.8 98.4L123.2 98.3L123.7 98.5L124.1 98.7L124.5 98.9L124.9 99.2L125.3 99.4L125.7 99.5L126.1 99.7L126.5 100.1L126.9 100.4L127.4 100.7L127.8 101L128.2 101.3L128.6 101.4L129 101.5L129.4 101.6L129.8 102.1L130.2 103.2L130.6 105.3L131.1 106.2L131.5 107L131.9 107.1L132.3 107L132.7 106.9L133.1 106.9L133.5 107L133.9 107.2L134.4 107.5L134.8 107.7L135.2 107.9L135.6 108.1L136 108.3L136.4 108.6L136.8 108.9L137.2 109.3L137.6 109.6L138.1 109.8L138.5 109.9L138.9 110L139.3 110.2L139.7 110.6L140.1 111.7L140.5 113.9L140.9 114.8L141.3 115.5L141.8 115.6L142.2 115.6L142.6 115.5L143 115.4L143.4 115.5L143.8 115.8L144.2 116L144.6 116.3L145 116.4L145.5 116.6L145.9 116.8L146.3 117.2L146.7 117.5L147.1 117.8L147.5 118.1L147.9 118.4L148.3 118.5L148.7 118.6L149.2 118.7L149.6 119.2L150 120.2L150.4 122.4L150.8 123.3L151.2 124.1L151.6 124.2L152 124.1L152.5 124L152.9 124L153.3 124.1L153.7 124.3L154.1 124.6L154.5 124.8L154.9 125L155.3 125.2L155.7 125.4L156.2 125.7L156.6 126L157 126.3L157.4 126.7L157.8 126.9L158.2 127L158.6 127.1L159 127.3L159.4 127.7L159.9 128.8L160.3 131L160.7 131.9L161.1 132.6L161.5 132.7L161.9 132.6L162.3 132.6L162.7 132.5L163.1 132.6L163.6 132.9L164 133.1L164.4 133.4L164.8 133.5L165.2 133.7L165.6 133.9L166 134.2L166.4 134.6L166.8 134.9L167.3 135.2L167.7 135.5L168.1 135.6L168.5 135.7L168.9 135.8L169.3 136.3L169.7 137.3L170.1 139.5L170.6 140.4L171 141.2L171.4 141.3L171.8 141.2L172.2 141.1L172.6 141.1L173 141.2L173.4 141.4L173.8 141.7L174.3 141.9L174.7 142.1L175.1 142.3L175.5 142.5L175.9 142.8L176.3 143.1L176.7 143.4L177.1 143.8L177.5 144L178 144.1L178.4 144.2L178.8 144.3L179.2 144.8L179.6 145.9L180 148.1L180.4 149L180.8 149.7L181.2 149.8L181.7 149.7L182.1 149.7L182.5 149.6L182.9 149.7L183.3 150L183.7 150.2L184.1 150.5L184.5 150.6L184.9 150.8L185.4 151L185.8 151.3L186.2 151.7L186.6 152L187 152.3L187.4 152.5L187.8 152.7L188.2 152.8L188.7 152.9L189.1 153.4L189.5 154.4L189.9 156.6L190.3 157.5L190.7 158.3L191.1 158.3L191.5 158.3L191.9 158.2L192.4 158.2L192.8 158.3L193.2 158.5L193.6 158.8L194 159L194.4 159.2L194.8 159.4L195.2 159.6L195.6 159.9L196.1 160.2L196.5 160.5L196.9 160.9L197.3 161.1L197.7 161.2L198.1 161.3L198.5 161.4L198.9 161.9L199.3 163L199.8 165.1L200.2 166.1L200.6 166.8L201 166.9L201.4 166.8L201.8 166.8L202.2 166.7L202.6 166.8L203 167.1L203.5 167.3L203.9 167.5L204.3 167.7L204.7 167.9L205.1 168.1L205.5 168.4L205.9 168.8L206.3 169.1L206.8 169.4L207.2 169.6L207.6 169.8L208 169.9L208.4 170L208.8 170.5L209.2 171.5L209.6 173.7L210 174.6L210.5 175.3L210.9 175.4L211.3 175.4L211.7 175.3L212.1 175.2L212.5 175.4L212.9 175.6L213.3 175.9L213.7 176.1L214.2 176.3L214.6 176.4L215 176.7L215.4 177L215.8 177.3L216.2 177.6L216.6 177.9L217 178.2L217.4 178.3L217.9 178.4L218.3 178.5L218.7 179L219.1 180.1L219.5 182.2L219.9 183.2L220.3 183.9L220.7 184L221.1 183.9L221.6 183.9L222 183.8L222.4 183.9L222.8 184.2L223.2 184.4L223.6 184.6L224 184.8L224.4 185L224.9 185.2L225.3 185.5L225.7 185.8L226.1 186.2L226.5 186.5L226.9 186.7L227.3 186.8L227.7 187L228.1 187.1L228.6 187.6L229 188.6L229.4 190.8L229.8 191.7L230.2 192.4L230.6 192.5L231 192.5L231.4 192.4L231.8 192.3L232.3 192.5L232.7 192.7L233.1 192.9L233.5 193.2L233.9 193.4L234.3 193.5L234.7 193.7L235.1 194.1L235.5 194.4L236 194.7L236.4 195L236.8 195.3L237.2 195.4L237.6 195.5L238 195.6L238.4 196.1L238.8 197.2L239.2 199.3L239.7 200.2L240.1 201L240.5 201.1L240.9 201L241.3 200.9L241.7 200.9L242.1 201L242.5 201.2L243 201.5L243.4 201.7L243.8 201.9L244.2 202.1L244.6 202.3L245 202.6L245.4 202.9L245.8 203.3L246.2 203.6L246.7 203.8L247.1 203.9L247.5 204L247.9 204.2L248.3 204.6L248.7 205.7L249.1 207.9L249.5 208.8L249.9 209.5L250.4 209.6L250.8 209.6L251.2 209.5L251.6 209.4L252 209.5L252.4 209.8L252.8 210L253.2 210.3L253.6 210.4L254.1 210.6L254.5 210.8L254.9 211.2L255.3 211.5L255.7 211.8L256.1 212.1L256.5 212.4L256.9 212.5L257.3 212.6L257.8 212.7L258.2 213.2L258.6 214.2L259 216.4L259.4 217.3L259.8 218.1L260.2 218.2L260.6 218.1L261.1 218L261.5 218L261.9 218.1L262.3 218.3L262.7 218.6L263.1 218.8L263.5 219L263.9 219.2L264.3 219.4L264.8 219.7L265.2 220L265.6 220.3L266 220.7L266.4 220.9L266.8 221L267.2 221.1L267.6 221.3L268 221.7L268.5 222.8L268.9 225L269.3 225.9L269.7 226.6L270.1 226.7L270.5 226.6L270.9 226.6L271.3 226.5L271.7 226.6L272.2 226.9L272.6 227.1L273 227.4L273.4 227.5L273.8 227.7L274.2 227.9L274.6 228.2L275 228.6L275.4 228.9L275.9 229.2L276.3 229.5L276.7 229.6L277.1 229.7L277.5 229.8L277.9 230.3L278.3 231.3L278.7 233.5L279.2 234.4L279.6 235.2L280 235.3L280.4 235.2L280.8 235.1L281.2 235.1L281.6 235.2L282 235.4L282.4 235.7L282.9 235.9L283.3 236.1L283.7 236.3L284.1 236.5L284.5 236.8L284.9 237.1L285.3 237.4L285.7 237.8L286.1 238L286.6 238.1L287 238.2L287.4 238.3L287.8 238.8L288.2 239.9L288.6 242.1L289 243L289.4 243.7L289.8 243.8L290.3 243.7L290.7 243.7L291.1 243.6L291.5 243.7L291.9 244L292.3 244.2L292.7 244.5L293.1 244.6L293.5 244.8L294 245L294.4 245.3L294.8 245.7L295.2 246L295.6 246.3L296 246.5L296.4 246.7L296.8 246.8L297.3 246.9L297.7 247.4L298.1 248.4L298.5 250.6L298.9 251.5L299.3 252.3L299.7 252.3L300.1 252.3L300.5 252.2L301 252.2L301.4 252.3L301.8 252.5L302.2 252.8L302.6 253L303 253.2L303.4 253.4L303.8 253.6L304.2 253.9L304.7 254.2L305.1 254.5L305.5 254.9L305.9 255.1L306.3 255.2L306.7 255.3L307.1 255.4L307.5 255.9L307.9 257L308.4 259.1L308.8 260.1L309.2 260.8L309.6 260.9L310 260.8L310.4 260.8L310.8 260.7L311.2 260.8L311.6 261.1L312.1 261.3L312.5 261.5L312.9 261.7L313.3 261.9L313.7 262.1L314.1 262.4L314.5 262.8L314.9 263.1L315.4 263.4L315.8 263.6L316.2 263.8L316.6 263.9L317 264L317.4 264.5L317.8 265.5L318.2 267.7L318.6 268.6L319.1 269.3L319.5 269.4L319.9 269.4L320.3 269.3L320.7 269.2L321.1 269.4L321.5 269.6L321.9 269.9L322.3 270.1L322.8 270.3L323.2 270.4L323.6 270.7L324 271L324.4 271.3L324.8 271.6L325.2 271.9L325.6 272.2L326 272.3L326.5 272.4L326.9 272.5L327.3 273L327.7 274.1L328.1 276.2L328.5 277.2L328.9 277.9L329.3 278L329.7 277.9L330.2 277.9L330.6 277.8L331 277.9L331.4 278.2L331.8 278.4L332.2 278.6L332.6 278.8L333 279L333.4 279.2L333.9 279.5L334.3 279.8L334.7 280.2L335.1 280.5L335.5 280.7L335.9 280.8L336.3 281L336.7 281.1L337.2 281.6L337.6 282.6L338 284.8L338.4 285.7L338.8 286.4L339.2 286.5L339.6 286.5L340 286.4L340.4 286.3L340.9 286.5L341.3 286.7L341.7 286.9L342.1 287.2L342.5 287.4L342.9 287.5L343.3 287.7L343.7 288.1L344.1 288.4L344.6 288.7L345 289L345.4 289.3L345.8 289.4L346.2 289.5L346.6 289.6L347 290.1L347.4 291.2L347.8 293.3L348.3 294.2L348.7 295L349.1 295.1L349.5 295L349.9 294.9L350.3 294.9L350.7 295L351.1 295.2L351.5 295.5L352 295.7L352.4 295.9L352.8 296.1L353.2 296.3L353.6 296.6L354 296.9L354.4 297.3L354.8 297.6L355.3 297.8L355.7 297.9L356.1 298L356.5 298.2L356.9 298.6L357.3 299.7L357.7 301.9L358.1 302.8L358.5 303.5L359 303.6L359.4 303.6L359.8 303.5L360.2 303.4L360.6 303.5L361 303.8L361.4 304L361.8 304.3L362.2 304.4L362.7 304.6L363.1 304.8L363.5 305.2L363.9 305.5L364.3 305.8L364.7 306.1L365.1 306.4L365.5 306.5L365.9 306.6L366.4 306.7L366.8 307.2L367.2 308.2L367.6 310.4L368 311.3L368.4 312.1L368.8 312.2L369.2 312.1L369.6 312L370.1 312L370.5 312.1L370.9 312.3L371.3 312.6L371.7 312.8L372.1 313L372.5 313.2L372.9 313.4L373.4 313.7L373.8 314L374.2 314.3L374.6 314.7L375 314.9L375.4 315L375.8 315.1L376.2 315.3L376.6 315.7L377.1 316.8L377.5 319L377.9 319.9L378.3 320.6L378.7 320.7L379.1 320.6L379.5 320.6L379.9 320.5L380.3 320.6L380.8 320.9L381.2 321.1L381.6 321.4L382 321.5L382.4 321.7L382.8 321.9L383.2 322.2L383.6 322.6L384 322.9L384.5 323.2L384.9 323.5L385.3 323.6L385.7 323.7L386.1 323.8L386.5 324.3L386.9 325.3L387.3 327.5L387.7 328.4L388.2 329.2L388.6 329.3L389 329.2L389.4 329.1L389.8 329.1L390.2 329.2L390.6 329.4L391 329.7L391.5 329.9L391.9 330.1L392.3 330.3L392.7 330.5L393.1 330.8L393.5 331.1L393.9 331.4L394.3 331.8L394.7 332L395.2 332.1L395.6 332.2L396 332.3L396.4 332.8L396.8 333.9L397.2 336.1L397.6 337L398 337.7L398.4 337.8L398.9 337.7L399.3 337.7L399.7 337.6L400.1 337.7L400.5 338L400.9 338.2L401.3 338.5L401.7 338.6L402.1 338.8L402.6 339L403 339.3L403.4 339.7L403.8 340L404.2 340.3L404.6 340.5L405 340.7L405.4 340.8L405.8 340.9L406.3 341.4L406.7 342.4L407.1 344.6L407.5 345.5L407.9 346.3L408.3 346.3L408.7 346.3L409.1 346.2L409.6 346.2L410 346.3L410.4 346.5L410.8 346.8L411.2 347L411.6 347.2L412 347.4L412.4 347.6L412.8 347.9L413.3 348.2L413.7 348.5L414.1 348.9L414.5 349.1L414.9 349.2L415.3 349.3L415.7 349.4L416.1 349.9L416.5 351L417 353.1L417.4 354.1L417.8 354.8L418.2 354.9L418.6 354.8L419 354.8L419.4 354.7L419.8 354.8L420.2 355.1L420.7 355.3L421.1 355.5L421.5 355.7L421.9 355.9L422.3 356.1L422.7 356.4L423.1 356.8L423.5 357.1L423.9 357.4L424.4 357.6L424.8 357.8L425.2 357.9L425.6 358L426 358.5L426.4 359.5L426.8 361.7L427.2 362.6L427.7 363.3L428.1 363.4L428.5 363.4L428.9 363.3L429.3 363.2L429.7 363.4L430.1 363.6L430.5 363.9L430.9 364.1L431.4 364.3L431.8 364.4L432.2 364.7L432.6 365L433 365.3L433.4 365.6L433.8 365.9L434.2 366.2L434.6 366.3L435.1 366.4L435.5 366.5L435.9 367L436.3 368.1L436.7 370.2L437.1 371.2L437.5 371.9L437.9 372L438.3 371.9L438.8 371.9L439.2 371.8L439.6 371.9L440 372.2L440.4 372.4L440.8 372.6L441.2 372.8L441.6 373L442 373.2L442.5 373.5L442.9 373.8L443.3 374.2L443.7 374.5L444.1 374.7L444.5 374.8L444.9 375L445.3 375.1L445.8 375.6L446.2 376.6L446.6 378.8L447 379.7L447.4 380.4L447.8 380.5L448.2 380.5L448.6 380.4L449 380.3L449.5 380.5L449.9 380.7L450.3 380.9L450.7 381.2L451.1 381.4L451.5 381.5L451.9 381.7L452.3 382.1L452.7 382.4L453.2 382.7L453.6 383L454 383.3L454.4 383.4L454.8 383.5L455.2 383.6L455.6 384.1L456 385.2L456.4 387.3L456.9 388.2L457.3 389L457.7 389.1L458.1 389L458.5 388.9L458.9 388.9L459.3 389L459.7 389.2L460.1 389.5L460.6 389.7L461 389.9L461.4 390.1L461.8 390.3L462.2 390.6L462.6 390.9L463 391.3L463.4 391.6L463.9 391.8L464.3 391.9L464.7 392L465.1 392.2L465.5 392.6L465.9 393.7L466.3 395.9L466.7 396.8L467.1 397.5L467.6 397.6L468 397.6L468.4 397.5L468.8 397.4L469.2 397.5L469.6 397.8L470 398L470.4 398.3L470.8 398.4L471.3 398.6L471.7 398.8L472.1 399.2L472.5 399.5L472.9 399.8L473.3 400.1L473.7 400.4L474.1 400.5L474.5 400.6L475 400.7L475.4 401.2L475.8 402.2L476.2 404.4L476.6 405.3L477 406.1L477.4 406.2L477.8 406.1L478.2 406L478.7 406L479.1 406.1L479.5 406.3L479.9 406.6L480.3 406.8L480.7 407L481.1 407.2L481.5 407.4L482 407.7L482.4 408L482.8 408.3L483.2 408.7L483.6 408.9L484 409L484.4 409.1L484.8 409.3L485.2 409.7L485.7 410.8L486.1 413L486.5 413.9L486.9 414.6L487.3 414.7L487.7 414.6L488.1 414.6L488.5 414.5L488.9 414.6L489.4 414.9L489.8 415.1L490.2 415.4L490.6 415.5L491 415.7L491.4 415.9L491.8 416.2L492.2 416.6L492.6 416.9L493.1 417.2L493.5 417.5L493.9 417.6L494.3 417.7L494.7 417.8L495.1 418.3L495.5 419.3L495.9 421.5L496.3 422.4L496.8 423.2L497.2 423.3L497.6 423.2L498 423.1L498.4 423.1L498.8 423.2L499.2 423.4L499.6 423.7L500.1 423.9L500.5 424.1L500.9 424.3L501.3 424.5L501.7 424.8L502.1 425.1L502.5 425.4L502.9 425.8L503.3 426L503.8 426.1L504.2 426.2L504.6 426.3L505 426.8L505.4 427.9L505.8 430.1L506.2 431L506.6 431.7L507 431.8L507.5 431.7L507.9 431.7L508.3 431.6L508.7 431.7L509.1 432L509.5 432.2L509.9 432.5L510.3 432.6L510.7 432.8L511.2 433L511.6 433.3L512 433.7L512.4 434L512.8 434.3L513.2 434.5L513.6 434.7L514 434.8L514.4 434.9L514.9 435.4L515.3 436.4L515.7 438.6L516.1 439.5L516.5 440.3L516.9 440.3L517.3 440.3L517.7 440.2L518.2 440.2L518.6 440.3L519 440.5L519.4 440.8L519.8 441L520.2 441.2L520.6 441.4L521 441.6L521.4 441.9L521.9 442.2L522.3 442.5L522.7 442.9L523.1 443.1L523.5 443.2L523.9 443.3L524.3 443.4L524.7 443.9L525.1 445L525.6 447.1L526 448.1L526.4 448.8L526.8 448.9L527.2 448.8L527.6 448.8L528 448.7L528.4 448.8L528.8 449.1L529.3 449.3L529.7 449.5L530.1 449.7L530.5 449.9L530.9 450.1L531.3 450.4L531.7 450.8L532.1 451.1L532.5 451.4L533 451.6L533.4 451.8L533.8 451.9L534.2 452L534.6 452.5L535 453.5L535.4 455.7L535.8 456.6L536.3 457.3L536.7 457.4L537.1 457.4L537.5 457.3L537.9 457.2L538.3 457.4L538.7 457.6L539.1 457.9L539.5 458.1L540 458.3L540.4 458.4L540.8 458.7L541.2 459L541.6 459.3L542 459.6L542.4 459.9L542.8 460.2L543.2 460.3L543.7 460.4L544.1 460.5L544.5 461L544.9 462.1L545.3 464.2L545.7 465.2L546.1 465.9L546.5 466L546.9 465.9L547.4 465.9L547.8 465.8L548.2 465.9L548.6 466.2L549 466.4L549.4 466.6L549.8 466.8L550.2 467L550.6 467.2L551.1 467.5L551.5 467.8L551.9 468.2L552.3 468.5L552.7 468.7L553.1 468.8L553.5 469L553.9 469.1L554.4 469.6L554.8 470.6L555.2 472.8L555.6 473.7L556 474.4L556.4 474.5L556.8 474.5L557.2 474.4L557.6 474.3L558.1 474.5L558.5 474.7L558.9 474.9L559.3 475.2L559.7 475.4L560.1 475.5L560.5 475.7L560.9 476.1L561.3 476.4L561.8 476.7L562.2 477L562.6 477.3L563 477.4L563.4 477.5L563.8 477.6L564.2 478.1L564.6 479.2L565 481.3L565.5 482.2L565.9 483L566.3 483.1L566.7 483L567.1 482.9L567.5 482.9L567.9 483L568.3 483.2L568.7 483.5L569.2 483.7L569.6 483.9L570 484.1L570.4 484.3L570.8 484.6L571.2 484.9L571.6 485.3L572 485.6L572.5 485.8L572.9 485.9L573.3 486.1L573.7 486.2L574.1 486.6L574.5 487.7L574.9 489.9L575.3 490.8L575.7 491.5L576.2 491.6L576.6 491.6L577 491.5L577.4 491.4L577.8 491.5L578.2 491.8L578.6 492L579 492.3L579.4 492.4L579.9 492.6L580.3 492.8L580.7 493.2L581.1 493.5L581.5 493.8L581.9 494.1L582.3 494.4L582.7 494.5L583.1 494.6L583.6 494.7L584 495.2L584.4 496.2L584.8 498.4L585.2 499.3L585.6 500.1L586 500.2L586.4 500.1L586.8 500L587.3 500L587.7 500.1L588.1 500.3L588.5 500.6L588.9 500.8L589.3 501L589.7 501.2L590.1 501.4L590.5 501.7L591 502L591.4 502.3L591.8 502.7L592.2 502.9L592.6 503L593 503.1L593.4 503.3L593.8 503.7L594.3 504.8L594.7 507L595.1 507.9L595.5 508.6L595.9 508.7L596.3 508.6L596.7 508.6L597.1 508.5L597.5 508.6L598 508.9L598.4 509.1L598.8 509.4L599.2 509.5L599.6 509.7L600 509.9L600.4 510.2L600.8 510.6L601.2 510.9L601.7 511.2L602.1 511.5L602.5 511.6L602.9 511.7L603.3 511.8L603.7 512.3L604.1 513.3L604.5 515.5L604.9 516.4L605.4 517.2L605.8 517.3L606.2 517.2L606.6 517.1L607 517.1L607.4 517.2L607.8 517.4L608.2 517.7L608.6 517.9L609.1 518.1L609.5 518.3L609.9 518.5L610.3 518.8L610.7 519.1L611.1 519.4L611.5 519.8L611.9 520L612.4 520.1L612.8 520.2L613.2 520.3L613.6 520.8L614 521.9L614.4 524.1L614.8 525L615.2 525.7L615.6 525.8L616.1 525.7L616.5 525.7L616.9 525.6L617.3 525.7L617.7 526L618.1 526.2L618.5 526.5L618.9 526.6L619.3 526.8L619.8 527L620.2 527.3L620.6 527.7L621 528L621.4 528.3L621.8 528.5L622.2 528.7L622.6 528.8L623 528.9L623.5 529.4L623.9 530.4L624.3 532.6L624.7 533.5L625.1 534.3L625.5 534.3L625.9 534.3L626.3 534.2L626.7 534.2L627.2 534.3L627.6 534.5L628 534.8L628.4 535L628.8 535.2L629.2 535.4L629.6 535.6L630 535.9L630.5 536.2L630.9 536.5L631.3 536.9L631.7 537.1L632.1 537.2L632.5 537.3L632.9 537.4L633.3 537.9L633.7 539L634.2 541.1L634.6 542.1L635 542.8L635.4 542.9L635.8 542.8L636.2 542.8L636.6 542.7L637 542.8L637.4 543.1L637.9 543.3L638.3 543.5L638.7 543.7L639.1 543.9L639.5 544.1L639.9 544.4L640.3 544.8L640.7 545.1L641.1 545.4L641.6 545.6L642 545.8L642.4 545.9L642.8 546L643.2 546.5L643.6 547.5L644 549.7L644.4 550.6L644.8 551.3L645.3 551.4L645.7 551.4L646.1 551.3L646.5 551.2L646.9 551.4L647.3 551.6L647.7 551.9L648.1 552.1L648.6 552.3L649 552.4L649.4 552.7L649.8 553L650.2 553.3L650.6 553.6L651 553.9" stroke="#ff00ff" stroke-width="4.0" fill="none" stroke-linejoin="miter" stroke-linecap="butt" clip-path="url(#clipA)"/>
<path d="M67.4 115.7V60" stroke="#ff00ff" stroke-width="5"/>
<rect x="262.3" y="194.6" width="34.5" height="70.3" rx="1.5" fill="none" stroke="#555" stroke-width="1.5"/>
<clipPath id="clip_ia"><rect x="119.1" y="363.8" width="213.5" height="153.6"/></clipPath>
<rect x="120.6" y="363.8" width="212" height="153" fill="#fff"/>
<path d="M128.5 363.8V516.8M216.4 363.8V516.8M303.2 363.8V516.8M120.6 382.8H332.6M120.6 436.1H332.6M120.6 488.7H332.6" stroke="#dcdcdc" stroke-width="1.0" fill="none"/>
<path d="M128.5 516.8v-4M128.5 363.8v4M216.4 516.8v-4M216.4 363.8v4M303.2 516.8v-4M303.2 363.8v4M120.6 382.8h4M332.6 382.8h-4M120.6 436.1h4M332.6 436.1h-4M120.6 488.7h4M332.6 488.7h-4" stroke="#383838" stroke-width="1.2" fill="none"/>
<rect x="120.6" y="363.8" width="212" height="153" fill="none" stroke="#383838" stroke-width="1.2"/>
<path d="M117.8 401.3L118.6 401.7L119.4 402.5L120.2 403L121 403.5L121.8 403.8L122.6 404L123.4 404.2L124.2 405L125 405.7L125.8 405.9L126.6 406L127.4 406.4L128.2 407.4L129 408.1L129.8 408.2L130.6 408.5L131.4 408.9L132.2 409.6L133 410.2L133.8 410.8L134.6 411.1L135.4 411.4L136.2 411.5L137 411.9L137.8 411.9L138.6 412.3L139.4 412.5L140.2 412.8L141 413L141.8 413.4L142.6 413.7L143.4 414.1L144.2 414.6L145 414.5L145.8 415.2L146.6 416.2L147.4 418.6L148.2 421.1L149 424.4L149.8 428.4L150.6 431.2L151.4 433L152.2 433.7L153 434.2L153.8 434.5L154.6 435.3L155.4 436.4L156.2 437.6L157 438.3L157.8 438.9L158.6 439.3L159.4 439.6L160.2 439L161 438.3L161.8 437.6L162.6 436.9L163.4 437L164.2 436.7L165 437L165.8 437.2L166.6 437.2L167.4 437.1L168.2 437L169 436.9L169.8 437L170.6 437L171.4 437.7L172.2 438.3L173 438.7L173.8 439.2L174.6 439.7L175.4 440.2L176.2 440.2L177 440.2L177.8 440.1L178.6 440.8L179.4 440.9L180.2 441.8L181 442.3L181.8 442.8L182.6 442.8L183.4 442.6L184.2 443.3L185 443.6L185.8 443.9L186.6 444L187.4 444.6L188.2 445.5L189 445.9L189.8 446.6L190.6 446.9L191.4 447.9L192.2 448.1L193 448.9L193.8 449.3L194.6 450.3L195.4 450.7L196.2 450.8L197 451.1L197.8 451.7L198.6 452.3L199.4 452.6L200.2 453L201 453.7L201.8 453.9L202.6 454.2L203.4 453.5L204.2 453.4L205 453.4L205.8 453.9L206.6 454.7L207.4 455L208.2 456.2L209 457.9L209.8 459.7L210.6 461.8L211.4 465.1L212.2 468.8L213 472.7L213.8 474.4L214.6 475.3L215.4 475.6L216.2 476.5L217 477.5L217.8 478.4L218.6 479L219.4 479.3L220.2 480L221 480.5L221.8 480.5L222.6 480.2L223.4 479.9L224.2 479.3L225 478.4L225.8 477.9L226.6 477.6L227.4 477.8L228.2 477.9L229 478.2L229.8 477.7L230.6 477.4L231.4 477.5L232.2 477.8L233 478L233.8 478.3L234.6 478.8L235.4 479.2L236.2 479.3L237 479.4L237.8 479.6L238.6 480.3L239.4 480.9L240.2 481.6L241 481.6L241.8 481.6L242.6 481.9L243.4 482.4L244.2 483L245 483.2L245.8 483.8L246.6 484.5L247.4 485.3L248.2 485.8L249 485.8L249.8 486L250.6 486L251.4 486.6L252.2 486.9L253 487.5L253.8 487.8L254.6 488.6L255.4 489.3L256.2 490L257 490.3L257.8 490.8L258.6 491.1L259.4 492.2L260.2 492.7L261 493.5L261.8 493.5L262.6 493.5L263.4 493.4L264.2 493.7L265 494.5L265.8 494.8L266.6 494.9L267.4 494.8L268.2 495L269 495L269.8 495.4L270.6 497L271.4 499.1L272.2 501.7L273 504L273.8 506.8L274.6 509.7L275.4 513L276.2 515.5L277 517.2" stroke="#000" stroke-width="3.8" fill="none" stroke-linejoin="round" stroke-linecap="butt" clip-path="url(#clip_ia)"/>
<path d="M116.9 392.8L117.7 392.6L118.5 393.5L119.3 393.7L120.1 394.3L120.9 395.6L121.7 395.9L122.5 396.7L123.3 396.6L124.1 396.8L124.9 397.5L125.7 397.6L126.5 398.6L127.3 398.4L128.1 398.6L128.9 399.1L129.7 399.9L130.5 400.7L131.3 401L132.1 401.5L132.9 401.5L133.7 401.2L134.5 401L135.3 401.2L136.1 401.7L136.9 402.4L137.7 403L138.5 403.9L139.3 404.3L140.1 404.5L140.9 404.6L141.7 404.8L142.5 404.8L143.3 404.8L144.1 405L144.9 405.5L145.7 406.6L146.5 408.5L147.3 411.4L148.1 414.2L148.9 417.5L149.7 420.7L150.5 423.9L151.3 426.9L152.1 427.5L152.9 428.6L153.7 429L154.5 431.1L155.3 431.5L156.1 432.8L156.9 433.4L157.7 434.3L158.5 434.3L159.3 434.4L160.1 434.5L160.9 433.7L161.7 433.1L162.5 432.3L163.3 431.8L164.1 431.5L164.9 431.4L165.7 431.4L166.5 430.7L167.3 430.7L168.1 430.2L168.9 430.2L169.7 429.8L170.5 430.4L171.3 431.4L172.1 431.3L172.9 431.9L173.7 432.3L174.5 433.1L175.3 432.9L176.1 432.7L176.9 433L177.7 432.9L178.5 432.8L179.3 433.1L180.1 433.8L180.9 435L181.7 435L182.5 434.5L183.3 434.2L184.1 434.5L184.9 435.4L185.7 435.5L186.5 435.5L187.3 435.6L188.1 436.4L188.9 437.4L189.7 437.9L190.5 438.4L191.3 438.4L192.1 439.1L192.9 439.4L193.7 440L194.5 440.3L195.3 440.8L196.1 441.7L196.9 442.5L197.7 442.8L198.5 443.1L199.3 443.4L200.1 444.8L200.9 445.1L201.7 446L202.5 445.2L203.3 446L204.1 446.1L204.9 446.6L205.7 446.2L206.5 445.7L207.3 446.2L208.1 447.1L208.9 449L209.7 451.3L210.5 454.6L211.3 458.3L212.1 461.5L212.9 464.3L213.7 466.7L214.5 467.9L215.3 468.6L216.1 469.3L216.9 470.4L217.7 471.3L218.5 472.1L219.3 472.7L220.1 474.4L220.9 475.4L221.7 476.1L222.5 476.4L223.3 475.4L224.1 474.1L224.9 472.9L225.7 472.9L226.5 473L227.3 471.9L228.1 471.6L228.9 471.6L229.7 472.2L230.5 472L231.3 472.1L232.1 472L232.9 471.6L233.7 471L234.5 471.3L235.3 471.7L236.1 472.4L236.9 472.4L237.7 473L238.5 473.7L239.3 474.5L240.1 474.4L240.9 474.8L241.7 475.1L242.5 475L243.3 475.3L244.1 474.9L244.9 475.6L245.7 476L246.5 477.1L247.3 477.6L248.1 477.3L248.9 477.5L249.7 477.5L250.5 478.2L251.3 478.4L252.1 479.6L252.9 480L253.7 480.3L254.5 480.7L255.3 481.2L256.1 481.6L256.9 481.8L257.7 482.1L258.5 483.1L259.3 484.1L260.1 485L260.9 485.1L261.7 485.3L262.5 485.8L263.3 486.6L264.1 486.6L264.9 486.7L265.7 486.5L266.5 486.3L267.3 486L268.1 486.2L268.9 486.8L269.7 487.5L270.5 488.6L271.3 490.9L272.1 493.1L272.9 495.3L273.7 498.1L274.5 501L275.3 504.4L276.1 506.7L276.9 509.3L277.7 510L278.5 510.9L279.3 511.7L280.1 513.5L280.9 514L281.7 514.5L282.5 514.5L283.3 515.1L284.1 514.7L284.9 513.8L285.7 513.2L286.5 512.9L287.3 513.5L288.1 513.7L288.9 513.6L289.7 513.3L290.5 512.6L291.3 512.8L292.1 512.3L292.9 512.9L293.7 512.7L294.5 512.6L295.3 512L296.1 511.7L296.9 512.1L297.7 512.2L298.5 512.8L299.3 513.3L300.1 513.9L300.9 514.3L301.7 514.9L302.5 515.3L303.3 516L304.1 515.7L304.9 515.7L305.7 516.1L306.5 516.7L307.3 516.9" stroke="#0000ff" stroke-width="3.0" fill="none" stroke-linejoin="round" stroke-linecap="butt" clip-path="url(#clip_ia)"/>
<path d="M118.8 382.2L119.6 382.5L120.4 383.1L121.2 383.4L122 384L122.8 384.1L123.6 384.3L124.4 384.4L125.2 385L126 385.5L126.8 386.2L127.6 386.6L128.4 387L129.2 387.6L130 388L130.8 388.4L131.6 388.5L132.4 389L133.2 389.5L134 389.9L134.8 390.1L135.6 390.5L136.4 390.8L137.2 391.2L138 391.6L138.8 391.8L139.6 392.2L140.4 392.5L141.2 392.8L142 393L142.8 393L143.6 393.4L144.4 393.7L145.2 393.8L146 394L146.8 394.6L147.6 395.6L148.4 396.8L149.2 397.8L150 399.3L150.8 402L151.6 405.3L152.4 408.4L153.2 411.2L154 413.4L154.8 415L155.6 416.1L156.4 417.2L157.2 418.1L158 419.1L158.8 420.2L159.6 420.9L160.4 421L161.2 420.8L162 420.5L162.8 420.3L163.6 420.1L164.4 419.9L165.2 419.6L166 419.5L166.8 419.5L167.6 419.7L168.4 419.7L169.2 419.5L170 419.4L170.8 419.9L171.6 420.2L172.4 420.4L173.2 420.4L174 421L174.8 421.3L175.6 421.8L176.4 422L177.2 422.6L178 422.8L178.8 423.2L179.6 423.6L180.4 423.8L181.2 424L182 424.2L182.8 424.7L183.6 425.1L184.4 425L185.2 425.3L186 425.6L186.8 426.1L187.6 426.2L188.4 426.8L189.2 427.5L190 428.2L190.8 428.8L191.6 429L192.4 429.4L193.2 429.7L194 430.1L194.8 430.5L195.6 431L196.4 431.5L197.2 431.9L198 432.5L198.8 433L199.6 433.5L200.4 433.7L201.2 434L202 434L202.8 434.4L203.6 434.6L204.4 434.8L205.2 435L206 435.4L206.8 435.9L207.6 436.2L208.4 436.4L209.2 437.2L210 438.4L210.8 440L211.6 441.6L212.4 444L213.2 446.5L214 449L214.8 451.3L215.6 453.6L216.4 455.6L217.2 456.7L218 457.7L218.8 458.4L219.6 459.3L220.4 459.9L221.2 460.9L222 461.3L222.8 461.4L223.6 461.2L224.4 461L225.2 460.8L226 461L226.8 460.9L227.6 460.9L228.4 460.8L229.2 460.7L230 460.5L230.8 460.1L231.6 460L232.4 460.1L233.2 460.5L234 460.8L234.8 461.2L235.6 461.7L236.4 461.9L237.2 462.2L238 462.4L238.8 462.7L239.6 463.3L240.4 463.7L241.2 464L242 464L242.8 464.5L243.6 465L244.4 465.2L245.2 465.3L246 465.4L246.8 465.9L247.6 466.4L248.4 466.8L249.2 466.9L250 467.1L250.8 467.4L251.6 467.8L252.4 468.5L253.2 469L254 469.6L254.8 470.2L255.6 470.7L256.4 471.3L257.2 471.7L258 472.3L258.8 472.8L259.6 473.4L260.4 474L261.2 474.3L262 474.7L262.8 475L263.6 475.2L264.4 475.7L265.2 475.9L266 476.2L266.8 476.3L267.6 476.7L268.4 476.9L269.2 477.3L270 477.5L270.8 477.7L271.6 478.5L272.4 479.9L273.2 481.8L274 483.7L274.8 486.2L275.6 488.7L276.4 491.2L277.2 493.6L278 495.9L278.8 497.7L279.6 499.2L280.4 500L281.2 500.7L282 500.9L282.8 501.6L283.6 502.3L284.4 502.7L285.2 502.5L286 502.4L286.8 502.5L287.6 502.6L288.4 502.5L289.2 502.6L290 502.3L290.8 502.2L291.6 501.9L292.4 501.9L293.2 501.9L294 501.7L294.8 501.7L295.6 501.4L296.4 501.7L297.2 501.7L298 502L298.8 502.3L299.6 502.8L300.4 503.1L301.2 503.4L302 503.5L302.8 503.8L303.6 503.9L304.4 504.5L305.2 505L306 505.4L306.8 505.8L307.6 506L308.4 506.4L309.2 506.7L310 507.3L310.8 508L311.6 508.4L312.4 508.9L313.2 509.4L314 510L314.8 510.3L315.6 510.9L316.4 511.5L317.2 512.1L318 512.5L318.8 512.9L319.6 513.5L320.4 513.9L321.2 514.7L322 515.2L322.8 516L323.6 516.2L324.4 516.9L325.2 517.4L326 517.7L326.8 518.1L327.6 518.5" stroke="#ff00ff" stroke-width="4.0" fill="none" stroke-linejoin="round" stroke-linecap="butt" clip-path="url(#clip_ia)"/>
<text x="128.5" y="546.3" font-size="20.5" text-anchor="middle" font-weight="bold" fill="#262626">6500</text>
<text x="216.4" y="546.3" font-size="20.5" text-anchor="middle" font-weight="bold" fill="#262626">7000</text>
<text x="303.2" y="546.3" font-size="20.5" text-anchor="middle" font-weight="bold" fill="#262626">7500</text>
<text x="110.3" y="391.4" font-size="20.5" text-anchor="end" font-weight="bold" fill="#262626">0.74</text>
<text x="110.3" y="444.7" font-size="20.5" text-anchor="end" font-weight="bold" fill="#262626">0.72</text>
<text x="110.3" y="497.3" font-size="20.5" text-anchor="end" font-weight="bold" fill="#262626">0.7</text>
<path d="M278.6 264.9L224.5 354.1" stroke="#0a0a0a" stroke-width="1.1" fill="none"/>
<path d="M217.8 365.2L221.1 343.2L224.5 354.1L235.8 352.1Z" fill="#0a0a0a"/>
<text x="57.7" y="557.9" font-size="20.8" text-anchor="end" font-weight="bold" fill="#262626">0.1</text>
<text x="57.7" y="503.7" font-size="20.8" text-anchor="end" font-weight="bold" fill="#262626">0.2</text>
<text x="57.7" y="449.5" font-size="20.8" text-anchor="end" font-weight="bold" fill="#262626">0.3</text>
<text x="57.7" y="395.3" font-size="20.8" text-anchor="end" font-weight="bold" fill="#262626">0.4</text>
<text x="57.7" y="341.1" font-size="20.8" text-anchor="end" font-weight="bold" fill="#262626">0.5</text>
<text x="57.7" y="286.9" font-size="20.8" text-anchor="end" font-weight="bold" fill="#262626">0.6</text>
<text x="57.7" y="232.7" font-size="20.8" text-anchor="end" font-weight="bold" fill="#262626">0.7</text>
<text x="57.7" y="178.5" font-size="20.8" text-anchor="end" font-weight="bold" fill="#262626">0.8</text>
<text x="57.7" y="124.3" font-size="20.8" text-anchor="end" font-weight="bold" fill="#262626">0.9</text>
<text x="57.7" y="70.1" font-size="20.8" text-anchor="end" font-weight="bold" fill="#262626">1</text>
<text x="57.7" y="15.9" font-size="20.8" text-anchor="end" font-weight="bold" fill="#262626">1.1</text>
<text x="67.6" y="579" font-size="20.8" text-anchor="middle" font-weight="bold" fill="#262626">0</text>
<text x="204.7" y="579" font-size="20.8" text-anchor="middle" font-weight="bold" fill="#262626">0.5</text>
<text x="341.8" y="579" font-size="20.8" text-anchor="middle" font-weight="bold" fill="#262626">1</text>
<text x="479" y="579" font-size="20.8" text-anchor="middle" font-weight="bold" fill="#262626">1.5</text>
<text x="616.1" y="579" font-size="20.8" text-anchor="middle" font-weight="bold" fill="#262626">2</text>
<text x="753.2" y="579" font-size="20.8" text-anchor="middle" font-weight="bold" fill="#262626">2.5</text>
<text x="411" y="610" font-size="27.5" text-anchor="middle" font-weight="bold" fill="#262626">Time(s)</text>
<text transform="translate(19 282) rotate(-90)" font-size="27.5" text-anchor="middle" font-weight="bold" fill="#262626">SOC</text>
<text x="753.3" y="611.3" font-size="23.3" text-anchor="end" font-weight="normal" fill="#262626">×10<tspan dy="-10.8" font-size="17.5">4</tspan></text>
<rect x="437.5" y="24.8" width="298.9" height="101.3" rx="1.5" fill="#fff" stroke="#444" stroke-width="1.2"/>
<path d="M443.2 42.4H505.9" stroke="#000" stroke-width="3.8"/>
<text x="512.2" y="52.7" font-size="27.4" text-anchor="start" font-weight="bold" fill="#000" textLength="117.2" lengthAdjust="spacing">Reference</text>
<path d="M443.2 75H505.9" stroke="#0000ff" stroke-width="3.8"/>
<text x="512.2" y="84.5" font-size="27.4" text-anchor="start" font-weight="bold" fill="#000" textLength="218.5" lengthAdjust="spacing">FOAMIUHF-UKF</text>
<path d="M443.2 108H505.9" stroke="#ff00ff" stroke-width="3.8"/>
<text x="512.2" y="117.3" font-size="27.4" text-anchor="start" font-weight="bold" fill="#000" textLength="199" lengthAdjust="spacing">FOMIUKF-UKF</text>
<text x="363" y="698.3" font-size="50" text-anchor="middle" fill="#000">(a) DST</text>
</g>
<g id="chart-b">
<clipPath id="clipB"><rect x="929.8" y="7.3" width="688.7" height="542.9"/></clipPath>
<path d="M1069.9 7.3V549.3M1207.1 7.3V549.3M1344.2 7.3V549.3M1481.4 7.3V549.3M932.8 495.1H1618.5M932.8 440.9H1618.5M932.8 386.7H1618.5M932.8 332.5H1618.5M932.8 278.3H1618.5M932.8 224.1H1618.5M932.8 169.9H1618.5M932.8 115.7H1618.5M932.8 61.5H1618.5" stroke="#e8e8e8" stroke-width="1.25" fill="none"/>
<path d="M1069.9 549.3v-7M1069.9 7.3v7M1207.1 549.3v-7M1207.1 7.3v7M1344.2 549.3v-7M1344.2 7.3v7M1481.4 549.3v-7M1481.4 7.3v7M932.8 495.1h7M1618.5 495.1h-7M932.8 440.9h7M1618.5 440.9h-7M932.8 386.7h7M1618.5 386.7h-7M932.8 332.5h7M1618.5 332.5h-7M932.8 278.3h7M1618.5 278.3h-7M932.8 224.1h7M1618.5 224.1h-7M932.8 169.9h7M1618.5 169.9h-7M932.8 115.7h7M1618.5 115.7h-7M932.8 61.5h7M1618.5 61.5h-7" stroke="#383838" stroke-width="1.2" fill="none"/>
<rect x="932.8" y="7.3" width="685.7" height="541.9" fill="none" stroke="#383838" stroke-width="1.2"/>
<path d="M932.8 62.1L933.3 62.1L933.9 62.1L934.4 62.1L935 62.1L935.5 62.1L936.1 62.1L936.6 62.1L937.2 62.1L937.7 62.1L938.3 62.1L938.8 62.1L939.4 62.1L939.9 62.1L940.5 62.1L941 62.1L941.6 62.1L942.1 62.1L942.7 62.1L943.2 62.1L943.8 62.1L944.3 62.1L944.9 60.4L945.4 61L946 61L946.5 61.5L947.1 62.1L947.6 62.6L948.2 63.1L948.7 63.4L949.3 64.1L949.8 64.4L950.4 65.7L950.9 66.7L951.5 67.9L952 68.1L952.5 68.5L953.1 68.7L953.6 69.4L954.2 69.9L954.7 70.6L955.3 71.2L955.8 71.7L956.4 71.8L956.9 72.3L957.5 72.7L958 73.2L958.6 73.5L959.1 74L959.7 74.5L960.2 74.8L960.8 75L961.3 75.3L961.9 75.7L962.4 76.8L963 77.3L963.5 77.5L964.1 77.6L964.6 77.7L965.2 78.6L965.7 79.3L966.3 80L966.8 79.9L967.4 80L967.9 80.2L968.5 81L969 81.1L969.6 81.8L970.1 81.9L970.7 82.9L971.2 83.7L971.7 85.2L972.3 85.9L972.8 87.3L973.4 87.9L973.9 88.3L974.5 88.2L975 88.3L975.6 88.8L976.1 89.4L976.7 90.1L977.2 90.8L977.8 91L978.3 91.8L978.9 92.5L979.4 93.2L980 93.4L980.5 93.5L981.1 94L981.6 94.4L982.2 95.4L982.7 95.6L983.3 96.1L983.8 96.4L984.4 96.6L984.9 97L985.5 97.2L986 97.8L986.6 98.1L987.1 98L987.7 98.4L988.2 98.8L988.8 99.9L989.3 100.3L989.9 101.1L990.4 101.1L990.9 101.6L991.5 102.2L992 103.2L992.6 103.9L993.1 104.7L993.7 105.3L994.2 105.9L994.8 106.2L995.3 106.8L995.9 107.8L996.4 108.3L997 108.2L997.5 108.9L998.1 109.3L998.6 110.2L999.2 110.1L999.7 110.4L1000.3 111.2L1000.8 111.2L1001.4 111.9L1001.9 112.1L1002.5 113.1L1003 114L1003.6 114.6L1004.1 114.8L1004.7 115L1005.2 115.1L1005.8 116.1L1006.3 116.2L1006.9 116.3L1007.4 116L1008 116.3L1008.5 116.8L1009 117.2L1009.6 117.2L1010.1 117.5L1010.7 118.1L1011.2 118.9L1011.8 119.6L1012.3 120.3L1012.9 120.5L1013.4 121.3L1014 121.9L1014.5 122.7L1015.1 123L1015.6 123.7L1016.2 123.8L1016.7 124.2L1017.3 124.4L1017.8 125.6L1018.4 126.2L1018.9 127.1L1019.5 127.3L1020 127.8L1020.6 128.3L1021.1 129.6L1021.7 130.4L1022.2 131L1022.8 131.1L1023.3 131.2L1023.9 130.9L1024.4 131.4L1025 131.9L1025.5 132.6L1026.1 133L1026.6 133.1L1027.2 133.2L1027.7 133.5L1028.2 134.3L1028.8 134.9L1029.3 135.4L1029.9 135.3L1030.4 136L1031 136.4L1031.5 137L1032.1 137.4L1032.6 138.2L1033.2 139.2L1033.7 139.7L1034.3 139.7L1034.8 140L1035.4 140.3L1035.9 140.4L1036.5 141.1L1037 141.1L1037.6 141.9L1038.1 141.8L1038.7 143.3L1039.2 144.1L1039.8 145L1040.3 145.3L1040.9 146.1L1041.4 147.1L1042 148.3L1042.5 149.2L1043.1 149.7L1043.6 149.8L1044.2 149.9L1044.7 150.1L1045.3 150.6L1045.8 150.9L1046.4 151.4L1046.9 151.1L1047.4 151.8L1048 152.3L1048.5 153.8L1049.1 155L1049.6 155.1L1050.2 155.2L1050.7 155.1L1051.3 155.9L1051.8 156.7L1052.4 157L1052.9 157.1L1053.5 157.5L1054 157.6L1054.6 158.6L1055.1 157.8L1055.7 158.3L1056.2 158.1L1056.8 159.4L1057.3 159.9L1057.9 160.2L1058.4 160.4L1059 161.3L1059.5 162.2L1060.1 162.7L1060.6 163L1061.2 163.7L1061.7 164.7L1062.3 165.7L1062.8 166.4L1063.4 167.2L1063.9 167.8L1064.5 168.3L1065 168.3L1065.6 168.5L1066.1 168.7L1066.6 169.8L1067.2 170.4L1067.7 171.2L1068.3 171.4L1068.8 172.2L1069.4 172.3L1069.9 173.1L1070.5 174L1071 175.1L1071.6 175.6L1072.1 176L1072.7 176.2L1073.2 176.4L1073.8 176.2L1074.3 176.4L1074.9 176.2L1075.4 176.4L1076 176.6L1076.5 176.9L1077.1 177.8L1077.6 178.5L1078.2 179.3L1078.7 179.8L1079.3 180.4L1079.8 180.9L1080.4 181.1L1080.9 181.8L1081.5 182.2L1082 183.1L1082.6 183.3L1083.1 183.9L1083.7 184.3L1084.2 184.7L1084.8 185.2L1085.3 185.8L1085.8 186.3L1086.4 186.8L1086.9 187.6L1087.5 188.2L1088 189.3L1088.6 189.8L1089.1 190.7L1089.7 191.1L1090.2 192.1L1090.8 192.4L1091.3 193.2L1091.9 193.2L1092.4 193.4L1093 193.5L1093.5 193.8L1094.1 194L1094.6 193.9L1095.2 194L1095.7 194L1096.3 194.5L1096.8 194.9L1097.4 195.5L1097.9 196.1L1098.5 196.2L1099 196.7L1099.6 196.9L1100.1 197.6L1100.7 198.1L1101.2 199.1L1101.8 199.7L1102.3 200.4L1102.9 200.7L1103.4 200.8L1104 200.8L1104.5 201.1L1105 201.6L1105.6 202.4L1106.1 202.9L1106.7 203.6L1107.2 204.4L1107.8 205.5L1108.3 206.4L1108.9 206.9L1109.4 207.2L1110 207.4L1110.5 208.7L1111.1 209.3L1111.6 210.5L1112.2 210.5L1112.7 210.6L1113.3 210.6L1113.8 211.2L1114.4 211.8L1114.9 212.1L1115.5 212.4L1116 212.9L1116.6 213.4L1117.1 213.8L1117.7 214.5L1118.2 214L1118.8 214.6L1119.3 214.6L1119.9 216.3L1120.4 216.2L1121 215.9L1121.5 216L1122.1 216.8L1122.6 217.5L1123.2 217.5L1123.7 217.3L1124.2 218.1L1124.8 218.8L1125.3 219.7L1125.9 220.2L1126.4 220.8L1127 221.4L1127.5 221.8L1128.1 222.3L1128.6 223.2L1129.2 224.4L1129.7 225.3L1130.3 226.6L1130.8 226.8L1131.4 227.3L1131.9 227.3L1132.5 228.3L1133 228.9L1133.6 229.5L1134.1 229.5L1134.7 230.1L1135.2 230.5L1135.8 231.3L1136.3 232.1L1136.9 232.3L1137.4 232.2L1138 233.2L1138.5 233.9L1139.1 234.8L1139.6 234.7L1140.2 235.3L1140.7 235.6L1141.3 236.1L1141.8 236.6L1142.3 237.4L1142.9 237L1143.4 236.5L1144 236.4L1144.5 237.2L1145.1 237.6L1145.6 237.9L1146.2 238.1L1146.7 239.3L1147.3 240.1L1147.8 240.6L1148.4 240.9L1148.9 241.9L1149.5 242.9L1150 243.3L1150.6 243.4L1151.1 244L1151.7 245.2L1152.2 246L1152.8 246.4L1153.3 246.2L1153.9 246.5L1154.4 247L1155 248L1155.5 248.8L1156.1 249.2L1156.6 249.6L1157.2 250.3L1157.7 251.7L1158.3 252.6L1158.8 253.1L1159.4 252.7L1159.9 253.1L1160.5 253.5L1161 254.4L1161.5 254.5L1162.1 255L1162.6 254.9L1163.2 255.5L1163.7 255.2L1164.3 255.3L1164.8 255.6L1165.4 255.9L1165.9 256.3L1166.5 256.4L1167 256.6L1167.6 257.1L1168.1 258.2L1168.7 259L1169.2 259.8L1169.8 260.3L1170.3 260.9L1170.9 261.3L1171.4 261L1172 262L1172.5 262.4L1173.1 262.7L1173.6 262.7L1174.2 263.2L1174.7 264L1175.3 264.4L1175.8 265.2L1176.4 266.1L1176.9 266.7L1177.5 267.1L1178 267.8L1178.6 269.1L1179.1 269.6L1179.7 270.4L1180.2 270.7L1180.7 271.3L1181.3 271.2L1181.8 271.5L1182.4 272.2L1182.9 272.5L1183.5 272.6L1184 272.7L1184.6 273.5L1185.1 273.9L1185.7 274.1L1186.2 274L1186.8 274.6L1187.3 274.7L1187.9 275.5L1188.4 276.4L1189 277L1189.5 277.4L1190.1 277.3L1190.6 277.7L1191.2 278L1191.7 278.6L1192.3 279.2L1192.8 280L1193.4 280.2L1193.9 280.6L1194.5 280.4L1195 280.7L1195.6 281.6L1196.1 282.7L1196.7 284L1197.2 284.3L1197.8 284.5L1198.3 285.2L1198.9 286.1L1199.4 286.9L1199.9 286.8L1200.5 287.3L1201 288.4L1201.6 289.7L1202.1 290.1L1202.7 290.1L1203.2 290.4L1203.8 290.7L1204.3 291L1204.9 291.5L1205.4 292.1L1206 292.9L1206.5 293.1L1207.1 293.9L1207.6 294L1208.2 294.3L1208.7 294.7L1209.3 294.8L1209.8 295.9L1210.4 296.4L1210.9 297.4L1211.5 297.2L1212 297.3L1212.6 297.7L1213.1 297.8L1213.7 298.1L1214.2 297.9L1214.8 298.8L1215.3 299L1215.9 299.2L1216.4 299.8L1217 300.4L1217.5 301.8L1218.1 302.5L1218.6 303.7L1219.1 304.3L1219.7 304.8L1220.2 305.6L1220.8 306L1221.3 306.3L1221.9 306.2L1222.4 306.6L1223 307.5L1223.5 307.7L1224.1 308L1224.6 308.2L1225.2 309.3L1225.7 310.4L1226.3 311.5L1226.8 311.8L1227.4 312.2L1227.9 312.7L1228.5 313.3L1229 313.3L1229.6 313.9L1230.1 314L1230.7 314.4L1231.2 314.4L1231.8 314.7L1232.3 315.3L1232.9 315.3L1233.4 315.9L1234 316L1234.5 316.3L1235.1 316.7L1235.6 317L1236.2 317.7L1236.7 318.3L1237.3 319.3L1237.8 319.8L1238.3 320.2L1238.9 320.6L1239.4 321.1L1240 321.9L1240.5 322.4L1241.1 322.9L1241.6 323.3L1242.2 323.8L1242.7 324.4L1243.3 325.1L1243.8 325.5L1244.4 325.5L1244.9 325.5L1245.5 326.5L1246 327.5L1246.6 328.5L1247.1 328.9L1247.7 329.9L1248.2 330.2L1248.8 331.2L1249.3 331.6L1249.9 331.8L1250.4 331.3L1251 331.1L1251.5 331.9L1252.1 332.3L1252.6 332.6L1253.2 332.8L1253.7 333.2L1254.3 333.3L1254.8 334.1L1255.4 334.1L1255.9 335.1L1256.5 335.1L1257 335.9L1257.5 336.2L1258.1 336.4L1258.6 336.9L1259.2 337.3L1259.7 338.2L1260.3 338.4L1260.8 338.9L1261.4 339.5L1261.9 339.9L1262.5 340.5L1263 341.1L1263.6 341.7L1264.1 342.2L1264.7 342.5L1265.2 343.1L1265.8 343.4L1266.3 344.2L1266.9 345.6L1267.4 346.7L1268 347L1268.5 347.2L1269.1 347.7L1269.6 348.3L1270.2 349.3L1270.7 350.1L1271.3 350.7L1271.8 350.5L1272.4 350.1L1272.9 349.6L1273.5 350.4L1274 350.8L1274.6 351.8L1275.1 351.9L1275.7 352.5L1276.2 352.8L1276.7 353.5L1277.3 354L1277.8 354.6L1278.4 355.3L1278.9 355.8L1279.5 355.9L1280 355.6L1280.6 355.2L1281.1 355.5L1281.7 355.7L1282.2 356.8L1282.8 357.3L1283.3 358.2L1283.9 358.5L1284.4 359.4L1285 360.3L1285.5 361L1286.1 361.5L1286.6 361.7L1287.2 362.5L1287.7 363.1L1288.3 364.3L1288.8 364.8L1289.4 365.6L1289.9 366L1290.5 366.9L1291 366.9L1291.6 367.3L1292.1 367.6L1292.7 368.4L1293.2 369.4L1293.8 369.8L1294.3 370.2L1294.8 370L1295.4 371.1L1295.9 371.9L1296.5 372.7L1297 372.9L1297.6 373.1L1298.1 373.7L1298.7 374.3L1299.2 374.6L1299.8 374.7L1300.3 374.4L1300.9 374.3L1301.4 374.2L1302 374.5L1302.5 375.3L1303.1 375.5L1303.6 376L1304.2 376.6L1304.7 377.7L1305.3 378.6L1305.8 379.3L1306.4 379.5L1306.9 379.8L1307.5 380.2L1308 381L1308.6 382.3L1309.1 382.7L1309.7 383.1L1310.2 382.8L1310.8 383L1311.3 383L1311.9 384L1312.4 384.5L1313 385.8L1313.5 386.8L1314 387.9L1314.6 388.2L1315.1 388.7L1315.7 389.4L1316.2 389.8L1316.8 390.3L1317.3 391L1317.9 391.3L1318.4 391.4L1319 391.3L1319.5 392.3L1320.1 392.2L1320.6 392.8L1321.2 392.2L1321.7 392.7L1322.3 392.6L1322.8 393.6L1323.4 393.7L1323.9 394.9L1324.5 394.7L1325 396L1325.6 396.2L1326.1 396.9L1326.7 396.7L1327.2 397.4L1327.8 397.9L1328.3 398.2L1328.9 398.4L1329.4 398.7L1330 399.7L1330.5 399.8L1331.1 400.5L1331.6 401L1332.2 401.7L1332.7 402.5L1333.2 402.8L1333.8 403.6L1334.3 404L1334.9 404.9L1335.4 406.1L1336 407.1L1336.5 407L1337.1 407L1337.6 406.7L1338.2 407.7L1338.7 408.2L1339.3 409.2L1339.8 409.6L1340.4 410L1340.9 410.4L1341.5 410.8L1342 411.1L1342.6 411.3L1343.1 411.4L1343.7 411.5L1344.2 412L1344.8 412.7L1345.3 413.4L1345.9 413.6L1346.4 413.6L1347 414.2L1347.5 414.4L1348.1 415.4L1348.6 415.9L1349.2 416.7L1349.7 416.2L1350.3 416.1L1350.8 416L1351.4 417.1L1351.9 417.8L1352.4 418.8L1353 419.3L1353.5 420L1354.1 420.6L1354.6 421.1L1355.2 422L1355.7 422.7L1356.3 423.3L1356.8 423.9L1357.4 424.3L1357.9 424.8L1358.5 425.3L1359 425.5L1359.6 425.6L1360.1 425.8L1360.7 427.1L1361.2 428.3L1361.8 429L1362.3 429.2L1362.9 428.8L1363.4 429.4L1364 429.8L1364.5 431L1365.1 431.8L1365.6 432.5L1366.2 433.1L1366.7 433.1L1367.3 433.4L1367.8 433.1L1368.4 432.8L1368.9 432.6L1369.5 432.8L1370 434.1L1370.6 434.4L1371.1 434.7L1371.6 434.5L1372.2 435.5L1372.7 436.4L1373.3 436.9L1373.8 437.5L1374.4 438.3L1374.9 439L1375.5 440L1376 440.1L1376.6 441.3L1377.1 441.7L1377.7 442.6L1378.2 442.9L1378.8 443.3L1379.3 443.6L1379.9 444.1L1380.4 444.4L1381 444.9L1381.5 445.4L1382.1 446.2L1382.6 446.9L1383.2 447.6L1383.7 448.1L1384.3 449L1384.8 449.4L1385.4 450.1L1385.9 449.9L1386.5 450.5L1387 450.5L1387.6 450.9L1388.1 451.1L1388.7 451.6L1389.2 452.3L1389.8 452.8L1390.3 453L1390.8 452.7L1391.4 453.1L1391.9 453.7L1392.5 454.3L1393 454.4L1393.6 455.1L1394.1 455.4L1394.7 456.2L1395.2 456.1L1395.8 457.2L1396.3 457.7L1396.9 458.5L1397.4 458.6L1398 459.1L1398.5 460L1399.1 460.5L1399.6 460.7L1400.2 460.5L1400.7 460.6L1401.3 461.1L1401.8 461.5L1402.4 462.8L1402.9 463.9L1403.5 465.1L1404 466.1L1404.6 466.2L1405.1 467.1L1405.7 467.7L1406.2 468.8L1406.8 468.9L1407.3 468.8L1407.9 468.6L1408.4 468.6L1409 469.4L1409.5 470.2L1410 470.5L1410.6 470.5L1411.1 470.1L1411.7 470.7L1412.2 471.4L1412.8 472.1L1413.3 472.2L1413.9 472.8L1414.4 473.4L1415 474.1L1415.5 473.9L1416.1 474.6L1416.6 475.1L1417.2 475.2L1417.7 475.3L1418.3 474.9L1418.8 475.6L1419.4 475.7L1419.9 476.7L1420.5 477.6L1421 478.4L1421.6 479.1L1422.1 480.2L1422.7 480.9L1423.2 481.4L1423.8 481.6L1424.3 482L1424.9 482.5L1425.4 482.9L1426 483.3L1426.5 484.4L1427.1 485.3L1427.6 486.5L1428.1 486.7L1428.7 486.7L1429.2 486.6L1429.8 486.6L1430.3 487.9L1430.9 489.1L1431.4 489.4L1432 489.2L1432.5 488.9L1433.1 489.9L1433.6 491L1434.2 491.8L1434.7 492L1435.3 491.3L1435.8 491.4L1436.4 491.7L1436.9 492.6L1437.5 493.1L1438 493.3L1438.6 493.8L1439.1 494.1L1439.7 494.7L1440.2 494.6L1440.8 495.1L1441.3 495.4L1441.9 496.5L1442.4 497.3L1443 498.6L1443.5 498.8L1444.1 499.3L1444.6 499.7L1445.2 500.7L1445.7 501.3L1446.3 501.6L1446.8 502.3L1447.3 502.6L1447.9 503.4L1448.4 503.8L1449 504.2L1449.5 504.4L1450.1 505.4L1450.6 506.1L1451.2 507.1L1451.7 507.5L1452.3 507.9L1452.8 508.3L1453.4 508.6L1453.9 509.4L1454.5 509.5L1455 510.5L1455.6 510.8L1456.1 511.3L1456.7 511.2L1457.2 511.6L1457.8 512.3L1458.3 512.3L1458.9 512.7L1459.4 512.5L1460 513.3L1460.5 513.5L1461.1 513.8L1461.6 513.9L1462.2 514.3L1462.7 515.3L1463.3 516.6L1463.8 517.1L1464.4 517.9L1464.9 518.1L1465.5 518.8L1466 519L1466.5 519.4L1467.1 519.9L1467.6 520.7L1468.2 521L1468.7 521.5L1469.3 521.9L1469.8 522.5L1470.4 522.9L1470.9 523.4L1471.5 524.6L1472 525.7L1472.6 527L1473.1 526.9L1473.7 527.5L1474.2 528.1L1474.8 528.9L1475.3 529.3L1475.9 528.9L1476.4 529.3L1477 529.4L1477.5 529.9L1478.1 530.5L1478.6 530.9L1479.2 531.2L1479.7 531.2L1480.3 531.2L1480.8 531.7L1481.4 532.5L1481.9 532.7L1482.5 532.6L1483 532.7L1483.6 533.7L1484.1 534.3L1484.7 534.4L1485.2 534.5L1485.7 535.2L1486.3 536.1L1486.8 536.6L1487.4 536.8L1487.9 536.8L1488.5 537.3L1489 538L1489.6 538.6L1490.1 539.5L1490.7 540.4L1491.2 541.1L1491.8 542L1492.3 542.5L1492.9 543.4L1493.4 543.9L1494 544.7L1494.5 545.1L1495.1 545.8L1495.6 546.1L1496.2 546.8L1496.7 546.8L1497.3 547L1497.8 547.6L1498.4 548.1L1498.9 548.8L1499.5 548.9L1500 549.4L1500.6 549.8L1501.1 550L1501.7 550.3L1502.2 550.8L1502.8 551.8L1503.3 552.7L1503.9 552.9L1504.4 553.3L1504.9 553.1L1505.5 553.1" stroke="#000" stroke-width="3.4" fill="none" stroke-linejoin="round" stroke-linecap="butt" clip-path="url(#clipB)"/>
<path d="M932.8 69.7L933.3 69.3L933.9 68.9L934.4 68.5L935 68L935.5 67.6L936.1 67.2L936.6 66.8L937.2 66.4L937.7 66L938.3 65.6L938.8 65.2L939.4 64.8L939.9 64.4L940.5 64L941 63.6L941.6 63.2L942.1 62.8L942.7 62.4L943.2 62L943.8 61.9L944.3 61.7L944.9 61.4L945.4 61.9L946 62L946.5 62.5L947.1 62.9L947.6 63L948.2 63.3L948.7 64L949.3 64.6L949.8 65.5L950.4 66.2L950.9 68L951.5 68.8L952 69.6L952.5 69.5L953.1 69.8L953.6 70.4L954.2 71.3L954.7 72L955.3 72.4L955.8 72.4L956.4 72.3L956.9 72.5L957.5 73.4L958 73.9L958.6 74.3L959.1 74.2L959.7 74.6L960.2 74.5L960.8 74.7L961.3 75.6L961.9 76.7L962.4 77.7L963 77.8L963.5 77.8L964.1 78.3L964.6 78.8L965.2 79.9L965.7 79.9L966.3 80L966.8 79.6L967.4 79.9L967.9 80.3L968.5 81L969 81.3L969.6 81.9L970.1 82.6L970.7 83.2L971.2 84.6L971.7 85.4L972.3 86.6L972.8 87.5L973.4 88.6L973.9 89.6L974.5 89.5L975 89.4L975.6 89.2L976.1 90L976.7 91.2L977.2 91.7L977.8 92L978.3 92.1L978.9 92.9L979.4 93.4L980 93.5L980.5 93.6L981.1 94.3L981.6 95L982.2 96L982.7 96.4L983.3 96.7L983.8 97L984.4 97.4L984.9 97.9L985.5 98.5L986 98.5L986.6 98.8L987.1 98.8L987.7 99.3L988.2 99.5L988.8 99.3L989.3 99.5L989.9 100L990.4 101L990.9 102.1L991.5 103.1L992 104L992.6 104.1L993.1 104.7L993.7 105.3L994.2 106.3L994.8 107L995.3 107.4L995.9 108L996.4 108.1L997 108.6L997.5 108.9L998.1 109.7L998.6 110.1L999.2 110.3L999.7 110.8L1000.3 111.8L1000.8 112.6L1001.4 113L1001.9 113.5L1002.5 114.3L1003 115.1L1003.6 115.2L1004.1 115.6L1004.7 115.1L1005.2 115.6L1005.8 116L1006.3 116.3L1006.9 116.5L1007.4 116.3L1008 116.8L1008.5 117.2L1009 117.9L1009.6 118.2L1010.1 118.3L1010.7 118.9L1011.2 119.8L1011.8 120.5L1012.3 121.1L1012.9 121.5L1013.4 122.1L1014 122.5L1014.5 123.1L1015.1 123.4L1015.6 124L1016.2 124L1016.7 124.5L1017.3 125L1017.8 125.9L1018.4 127L1018.9 127.4L1019.5 127.9L1020 128.4L1020.6 129.1L1021.1 130.1L1021.7 130.5L1022.2 131.1L1022.8 131.9L1023.3 132.5L1023.9 132.8L1024.4 132.9L1025 133.2L1025.5 133.4L1026.1 133.6L1026.6 133.6L1027.2 133.9L1027.7 133.8L1028.2 134.3L1028.8 134.4L1029.3 135.2L1029.9 135.7L1030.4 137L1031 137.3L1031.5 137.8L1032.1 138.1L1032.6 138.5L1033.2 139L1033.7 139.6L1034.3 140.4L1034.8 141L1035.4 141.1L1035.9 141.3L1036.5 142L1037 142L1037.6 142.3L1038.1 142.4L1038.7 143.7L1039.2 144.7L1039.8 145.6L1040.3 146.5L1040.9 147.1L1041.4 147.6L1042 148L1042.5 149.1L1043.1 150L1043.6 150.4L1044.2 150.3L1044.7 150.3L1045.3 150.3L1045.8 150.8L1046.4 151.3L1046.9 152L1047.4 152.5L1048 153.1L1048.5 153.8L1049.1 155L1049.6 155.4L1050.2 156L1050.7 156L1051.3 156.1L1051.8 157L1052.4 157.1L1052.9 158L1053.5 157.9L1054 158.1L1054.6 158.4L1055.1 158.2L1055.7 158.8L1056.2 159L1056.8 160L1057.3 160.6L1057.9 161.1L1058.4 161.6L1059 161.7L1059.5 162.4L1060.1 163.2L1060.6 164.2L1061.2 165.4L1061.7 165.7L1062.3 166.6L1062.8 167L1063.4 167.9L1063.9 167.9L1064.5 168.7L1065 169L1065.6 169.6L1066.1 169.7L1066.6 170.1L1067.2 170.6L1067.7 171.6L1068.3 171.9L1068.8 172.5L1069.4 172.2L1069.9 173.7L1070.5 174.6L1071 175.3L1071.6 175.8L1072.1 176.1L1072.7 176.6L1073.2 176.6L1073.8 176.7L1074.3 177.3L1074.9 177.4L1075.4 177.5L1076 177.7L1076.5 177.6L1077.1 178.6L1077.6 178.9L1078.2 179.7L1078.7 179.6L1079.3 180.2L1079.8 180.8L1080.4 181.7L1080.9 182.5L1081.5 183.1L1082 183.8L1082.6 183.9L1083.1 184.4L1083.7 184.8L1084.2 185.4L1084.8 185.8L1085.3 185.8L1085.8 186.7L1086.4 186.9L1086.9 188.5L1087.5 188.4L1088 189.4L1088.6 189.6L1089.1 190.8L1089.7 191.4L1090.2 192.4L1090.8 193L1091.3 193.5L1091.9 193.6L1092.4 193.8L1093 193.9L1093.5 194L1094.1 194L1094.6 194.2L1095.2 194.8L1095.7 195.1L1096.3 195.3L1096.8 195.2L1097.4 195.6L1097.9 196.4L1098.5 196.6L1099 197.4L1099.6 197.5L1100.1 198.5L1100.7 198.6L1101.2 199.2L1101.8 199.4L1102.3 199.8L1102.9 200.4L1103.4 201L1104 201.3L1104.5 201.8L1105 202.3L1105.6 202.9L1106.1 203.5L1106.7 203.9L1107.2 204.7L1107.8 205.2L1108.3 206.2L1108.9 207.2L1109.4 208.1L1110 208.4L1110.5 209.1L1111.1 209.7L1111.6 210.5L1112.2 211L1112.7 211.5L1113.3 212.1L1113.8 212.1L1114.4 212.5L1114.9 212.7L1115.5 213.1L1116 213.2L1116.6 213.6L1117.1 214.2L1117.7 214.7L1118.2 214.7L1118.8 215.1L1119.3 216L1119.9 217.1L1120.4 217.6L1121 217.6L1121.5 217.8L1122.1 218.1L1122.6 218.1L1123.2 217.9L1123.7 217.7L1124.2 218.4L1124.8 219L1125.3 220.2L1125.9 220.5L1126.4 221.4L1127 221.9L1127.5 222.8L1128.1 223.2L1128.6 223.4L1129.2 224.4L1129.7 225.2L1130.3 226.6L1130.8 227L1131.4 227.6L1131.9 228.1L1132.5 228.9L1133 229.9L1133.6 230.4L1134.1 230.5L1134.7 230.4L1135.2 230.6L1135.8 230.8L1136.3 231.9L1136.9 232.3L1137.4 232.8L1138 233L1138.5 234.1L1139.1 234.9L1139.6 235.6L1140.2 236.4L1140.7 236.7L1141.3 237.2L1141.8 236.8L1142.3 237L1142.9 236.2L1143.4 236.3L1144 236.7L1144.5 237.7L1145.1 238.1L1145.6 238.5L1146.2 238.5L1146.7 239.4L1147.3 240.1L1147.8 241.4L1148.4 241.6L1148.9 242.2L1149.5 242.6L1150 244L1150.6 244.6L1151.1 245.6L1151.7 246L1152.2 246.4L1152.8 246.6L1153.3 247L1153.9 247.3L1154.4 247.7L1155 248.1L1155.5 248.8L1156.1 249.7L1156.6 250.5L1157.2 251.1L1157.7 251.8L1158.3 252.5L1158.8 253L1159.4 253.2L1159.9 253.1L1160.5 253.8L1161 254.1L1161.5 254.3L1162.1 255L1162.6 255.1L1163.2 255.7L1163.7 255.2L1164.3 255.7L1164.8 255.9L1165.4 256.4L1165.9 257L1166.5 257.6L1167 258.7L1167.6 259.1L1168.1 259.7L1168.7 259.4L1169.2 259.9L1169.8 260.4L1170.3 261.4L1170.9 261.9L1171.4 262.3L1172 262.7L1172.5 262.7L1173.1 263.6L1173.6 263.8L1174.2 264.9L1174.7 265L1175.3 265.3L1175.8 265.8L1176.4 266.9L1176.9 268.1L1177.5 268.4L1178 268.8L1178.6 269.7L1179.1 270.2L1179.7 271.1L1180.2 271.5L1180.7 272.3L1181.3 272.7L1181.8 273L1182.4 273.8L1182.9 273.6L1183.5 273.4L1184 273.4L1184.6 273.8L1185.1 274.2L1185.7 274.6L1186.2 275L1186.8 275.3L1187.3 275.8L1187.9 276.8L1188.4 277.7L1189 278.3L1189.5 278.7L1190.1 278.7L1190.6 278.3L1191.2 278.2L1191.7 278.7L1192.3 279.5L1192.8 279.6L1193.4 279.4L1193.9 280L1194.5 280.8L1195 282L1195.6 282.6L1196.1 283.6L1196.7 284.4L1197.2 285.2L1197.8 285.9L1198.3 286.2L1198.9 286.7L1199.4 287.3L1199.9 287.7L1200.5 288.4L1201 289.1L1201.6 289.8L1202.1 290.1L1202.7 290.6L1203.2 291L1203.8 291.6L1204.3 292L1204.9 292.4L1205.4 292.7L1206 293.5L1206.5 294.1L1207.1 294.9L1207.6 295.2L1208.2 296L1208.7 296.6L1209.3 296.6L1209.8 297.1L1210.4 297.3L1210.9 297.9L1211.5 297.8L1212 297.9L1212.6 298.6L1213.1 298.6L1213.7 298.5L1214.2 298.3L1214.8 299L1215.3 299.7L1215.9 300.5L1216.4 301L1217 301.8L1217.5 302.3L1218.1 303.3L1218.6 304.7L1219.1 305.8L1219.7 306.3L1220.2 306.7L1220.8 307.2L1221.3 307.4L1221.9 307.8L1222.4 307.9L1223 309L1223.5 309L1224.1 309.4L1224.6 309.7L1225.2 310.6L1225.7 311.5L1226.3 312.1L1226.8 312.3L1227.4 313.3L1227.9 313.7L1228.5 314.3L1229 314.8L1229.6 315.6L1230.1 315.8L1230.7 315.7L1231.2 315.5L1231.8 315.6L1232.3 316.1L1232.9 316.3L1233.4 316.7L1234 316.8L1234.5 317L1235.1 317.7L1235.6 318.2L1236.2 319L1236.7 319.5L1237.3 319.9L1237.8 320.3L1238.3 320.2L1238.9 320.6L1239.4 321.4L1240 322.2L1240.5 323.2L1241.1 323.7L1241.6 324.5L1242.2 325L1242.7 325.3L1243.3 325.9L1243.8 325.8L1244.4 326.3L1244.9 326.7L1245.5 327.6L1246 328.9L1246.6 329.8L1247.1 330.5L1247.7 330.9L1248.2 331.3L1248.8 332.1L1249.3 332.5L1249.9 332.8L1250.4 332.2L1251 332.1L1251.5 332.6L1252.1 333.5L1252.6 333.9L1253.2 334.2L1253.7 334.7L1254.3 334.8L1254.8 335.3L1255.4 335.1L1255.9 336.1L1256.5 336.1L1257 337.2L1257.5 337.8L1258.1 338.6L1258.6 338.8L1259.2 338.8L1259.7 339.3L1260.3 339.7L1260.8 340L1261.4 340.1L1261.9 340.3L1262.5 340.6L1263 341.5L1263.6 342.5L1264.1 343.8L1264.7 343.8L1265.2 344L1265.8 344.1L1266.3 345.4L1266.9 346.8L1267.4 347.4L1268 347.9L1268.5 347.9L1269.1 348.7L1269.6 349.2L1270.2 349.8L1270.7 350.6L1271.3 351L1271.8 350.9L1272.4 350.4L1272.9 350.3L1273.5 351.3L1274 352.1L1274.6 353.3L1275.1 353.6L1275.7 353.7L1276.2 354.3L1276.7 354.6L1277.3 355.5L1277.8 356L1278.4 356.5L1278.9 357.1L1279.5 356.9L1280 356.7L1280.6 356.6L1281.1 357.1L1281.7 358L1282.2 358L1282.8 358.4L1283.3 359.2L1283.9 360L1284.4 360.9L1285 362L1285.5 362.9L1286.1 363.5L1286.6 363.1L1287.2 363.6L1287.7 363.9L1288.3 364.8L1288.8 366L1289.4 366.7L1289.9 367.1L1290.5 367.2L1291 368.1L1291.6 368.7L1292.1 369.2L1292.7 369.6L1293.2 370.5L1293.8 371.1L1294.3 371.6L1294.8 372L1295.4 372.5L1295.9 373.3L1296.5 373.5L1297 374.6L1297.6 374.5L1298.1 375.2L1298.7 375.5L1299.2 375.9L1299.8 376.1L1300.3 375.8L1300.9 376.3L1301.4 376.8L1302 376.6L1302.5 376.9L1303.1 376.5L1303.6 377.1L1304.2 377.8L1304.7 379L1305.3 380.1L1305.8 380.9L1306.4 381.1L1306.9 381.4L1307.5 381.7L1308 382.6L1308.6 383.4L1309.1 383.8L1309.7 384L1310.2 384.3L1310.8 384.5L1311.3 384.8L1311.9 385.5L1312.4 386.1L1313 387.5L1313.5 388.2L1314 389.4L1314.6 389.7L1315.1 390.1L1315.7 390.7L1316.2 391.6L1316.8 392.8L1317.3 393.1L1317.9 393.3L1318.4 393.1L1319 393.6L1319.5 393.8L1320.1 394L1320.6 394L1321.2 394.2L1321.7 394.5L1322.3 394.6L1322.8 394.8L1323.4 395.3L1323.9 395.8L1324.5 396L1325 396.7L1325.6 397.1L1326.1 398.3L1326.7 399L1327.2 399.7L1327.8 399.7L1328.3 399.6L1328.9 400.1L1329.4 400.5L1330 400.9L1330.5 401.3L1331.1 401.8L1331.6 402.7L1332.2 403.2L1332.7 404.2L1333.2 404.5L1333.8 405.3L1334.3 405.6L1334.9 406.4L1335.4 407.1L1336 407.6L1336.5 408.3L1337.1 409.2L1337.6 409.9L1338.2 410.2L1338.7 410.1L1339.3 410.7L1339.8 411L1340.4 411.8L1340.9 411.9L1341.5 412.5L1342 412.8L1342.6 413.5L1343.1 413.7L1343.7 413.7L1344.2 414.1L1344.8 414L1345.3 414.7L1345.9 414.8L1346.4 415.8L1347 416.1L1347.5 416.5L1348.1 416.7L1348.6 416.7L1349.2 416.9L1349.7 416.7L1350.3 417.7L1350.8 418.1L1351.4 418.7L1351.9 419.1L1352.4 419.3L1353 420.2L1353.5 420.9L1354.1 421.7L1354.6 422.6L1355.2 423.3L1355.7 424.5L1356.3 425.2L1356.8 426.1L1357.4 426.4L1357.9 427L1358.5 427.4L1359 427.8L1359.6 428.2L1360.1 428.3L1360.7 428.8L1361.2 429.3L1361.8 429.7L1362.3 430.1L1362.9 430.6L1363.4 431.8L1364 432.5L1364.5 433.3L1365.1 433.7L1365.6 434.2L1366.2 435L1366.7 435L1367.3 435.2L1367.8 434.6L1368.4 434.8L1368.9 434.9L1369.5 435.1L1370 435.7L1370.6 435.8L1371.1 436.5L1371.6 436.9L1372.2 437.9L1372.7 438.4L1373.3 438.7L1373.8 439.1L1374.4 440.1L1374.9 440.7L1375.5 441.7L1376 442L1376.6 443L1377.1 443.2L1377.7 444.4L1378.2 444.7L1378.8 445.3L1379.3 445.3L1379.9 445.7L1380.4 446.4L1381 446.8L1381.5 447.2L1382.1 447.8L1382.6 448.8L1383.2 449.5L1383.7 449.5L1384.3 450.3L1384.8 451.2L1385.4 452.6L1385.9 452.8L1386.5 453.4L1387 453.5L1387.6 453.6L1388.1 453.7L1388.7 454L1389.2 454L1389.8 454.3L1390.3 454.3L1390.8 454.7L1391.4 454.7L1391.9 455.4L1392.5 456.2L1393 456.8L1393.6 457.1L1394.1 457.4L1394.7 457.9L1395.2 457.9L1395.8 458.9L1396.3 459.6L1396.9 460.7L1397.4 461L1398 461.3L1398.5 461.8L1399.1 461.9L1399.6 462.4L1400.2 462.9L1400.7 463.2L1401.3 463.9L1401.8 464.3L1402.4 465.2L1402.9 465.9L1403.5 466.6L1404 467.2L1404.6 467.8L1405.1 469.1L1405.7 470L1406.2 470.9L1406.8 471L1407.3 470.7L1407.9 470.8L1408.4 471.1L1409 472.3L1409.5 472.6L1410 472.5L1410.6 472.4L1411.1 472.5L1411.7 473.2L1412.2 473.9L1412.8 474.2L1413.3 474.1L1413.9 474.6L1414.4 475.3L1415 476.2L1415.5 476.2L1416.1 476.5L1416.6 477.1L1417.2 477.4L1417.7 477.4L1418.3 477L1418.8 477.5L1419.4 477.9L1419.9 478.7L1420.5 479L1421 479.8L1421.6 480.8L1422.1 482.1L1422.7 483.2L1423.2 483.8L1423.8 484.6L1424.3 485.1L1424.9 485.8L1425.4 485.9L1426 485.9L1426.5 486.6L1427.1 487.2L1427.6 488.6L1428.1 488.7L1428.7 489L1429.2 488.3L1429.8 488.7L1430.3 489.5L1430.9 490.8L1431.4 491.2L1432 491.7L1432.5 492L1433.1 493L1433.6 493.4L1434.2 493.9L1434.7 494.2L1435.3 494L1435.8 494.5L1436.4 494.7L1436.9 495.5L1437.5 495.2L1438 495.5L1438.6 495.8L1439.1 496.5L1439.7 496.5L1440.2 496.8L1440.8 497.3L1441.3 497.8L1441.9 498.6L1442.4 499.7L1443 501.2L1443.5 501.6L1444.1 502.2L1444.6 502.7L1445.2 503.2L1445.7 503.8L1446.3 504.5L1446.8 505.1L1447.3 505.1L1447.9 505.4L1448.4 505.7L1449 506.5L1449.5 507.5L1450.1 508.8L1450.6 509.1L1451.2 509.4L1451.7 509.9L1452.3 510.4L1452.8 510.9L1453.4 511L1453.9 511.8L1454.5 512.1L1455 513L1455.6 512.9L1456.1 513.2L1456.7 513.3L1457.2 513.6L1457.8 513.8L1458.3 514L1458.9 514.8L1459.4 515.3L1460 515.5L1460.5 515.8L1461.1 515.8L1461.6 516.5L1462.2 517.3L1462.7 518.4L1463.3 519.3L1463.8 519.5L1464.4 520L1464.9 520.4L1465.5 521.4L1466 522L1466.5 522.7L1467.1 523.1L1467.6 523.6L1468.2 523.6L1468.7 523.8L1469.3 524.5L1469.8 525.2L1470.4 525.7L1470.9 526.2L1471.5 527.1L1472 528L1472.6 529L1473.1 529.4L1473.7 530L1474.2 530.8L1474.8 531.6L1475.3 532.3L1475.9 532.2L1476.4 532.4L1477 532L1477.5 532L1478.1 532.3L1478.6 532.9L1479.2 533.2L1479.7 533.2L1480.3 533.5L1480.8 534.4L1481.4 535.2L1481.9 535.6L1482.5 535.4L1483 535.4L1483.6 535.8L1484.1 536.7L1484.7 537.1L1485.2 537.8L1485.7 537.4L1486.3 538.4L1486.8 538.6L1487.4 539.4L1487.9 539.7L1488.5 540.2L1489 541.1L1489.6 541.2L1490.1 541.7L1490.7 542.5L1491.2 543.4L1491.8 543.9L1492.3 544.4L1492.9 545.1L1493.4 546.2L1494 547L1494.5 547.6L1495.1 548.5L1495.6 549.1L1496.2 550.1L1496.7 550L1497.3 549.8L1497.8 549.8L1498.4 550L1498.9 551.1L1499.5 551.7L1500 552.3L1500.6 552.2L1501.1 551.9L1501.7 552.5L1502.2 552.9L1502.8 554.4L1503.3 554.8L1503.9 555.1L1504.4 554.9L1504.9 555.5L1505.5 555.8" stroke="#0000ff" stroke-width="3.4" fill="none" stroke-linejoin="round" stroke-linecap="butt" clip-path="url(#clipB)"/>
<path d="M932.8 115.7L932.8 61.6L933.3 61.8L933.9 61.6L934.4 61.6L935 61.6L935.5 61.8L936.1 62L936.6 61.9L937.2 61.9L937.7 61.8L938.3 61.8L938.8 61.5L939.4 61.6L939.9 61L940.5 60.5L941 59.8L941.6 59.8L942.1 59.8L942.7 59.5L943.2 58.9L943.8 58L944.3 57.8L944.9 57.5L945.4 58.2L946 58.2L946.5 58.9L947.1 59.1L947.6 59.6L948.2 60L948.7 60.6L949.3 61L949.8 61.7L950.4 62.6L950.9 63.9L951.5 64.7L952 65.5L952.5 65.9L953.1 66.5L953.6 67L954.2 67.7L954.7 68.1L955.3 68.4L955.8 68.4L956.4 68.7L956.9 69.1L957.5 69.8L958 70.1L958.6 70.4L959.1 70.6L959.7 71L960.2 71.2L960.8 71.6L961.3 72.3L961.9 73.1L962.4 74L963 74.5L963.5 74.4L964.1 74.8L964.6 75L965.2 75.9L965.7 76.1L966.3 76.7L966.8 76.5L967.4 76.8L967.9 77L968.5 77.6L969 77.8L969.6 78.6L970.1 79.4L970.7 80.2L971.2 80.9L971.7 81.8L972.3 82.8L972.8 84.1L973.4 85L973.9 85.7L974.5 85.6L975 85.5L975.6 86L976.1 86.7L976.7 87.7L977.2 87.8L977.8 88.4L978.3 88.8L978.9 89.5L979.4 89.9L980 90L980.5 90.4L981.1 90.8L981.6 91.5L982.2 92.2L982.7 92.4L983.3 92.9L983.8 93.3L984.4 93.9L984.9 94.3L985.5 94.6L986 94.6L986.6 94.9L987.1 95L987.7 95.6L988.2 95.9L988.8 96.2L989.3 96.5L989.9 96.9L990.4 97.5L990.9 98.3L991.5 99.2L992 100.1L992.6 101L993.1 101.6L993.7 102.3L994.2 102.8L994.8 103.3L995.3 103.9L995.9 104.6L996.4 105.1L997 105.2L997.5 105.6L998.1 106L998.6 106.7L999.2 107L999.7 107.6L1000.3 108.4L1000.8 108.8L1001.4 109.3L1001.9 109.6L1002.5 110.4L1003 111.1L1003.6 111.5L1004.1 111.8L1004.7 111.8L1005.2 112.1L1005.8 112.6L1006.3 112.7L1006.9 112.8L1007.4 112.7L1008 113.3L1008.5 113.6L1009 114.4L1009.6 114.5L1010.1 115L1010.7 115.4L1011.2 115.9L1011.8 116.6L1012.3 117.5L1012.9 118.2L1013.4 118.7L1014 118.9L1014.5 119.6L1015.1 119.9L1015.6 120.5L1016.2 120.7L1016.7 121.3L1017.3 121.7L1017.8 122.4L1018.4 123.2L1018.9 123.9L1019.5 124.6L1020 125.1L1020.6 125.8L1021.1 126.7L1021.7 127.4L1022.2 128.2L1022.8 128.8L1023.3 129.1L1023.9 128.9L1024.4 128.9L1025 129.4L1025.5 129.8L1026.1 130.2L1026.6 130.4L1027.2 130.6L1027.7 130.7L1028.2 131L1028.8 131.6L1029.3 132.3L1029.9 132.6L1030.4 133.3L1031 133.5L1031.5 134.2L1032.1 134.8L1032.6 135.2L1033.2 135.7L1033.7 136L1034.3 136.4L1034.8 137L1035.4 137.4L1035.9 137.9L1036.5 138.4L1037 138.3L1037.6 138.7L1038.1 138.9L1038.7 140.1L1039.2 141L1039.8 141.9L1040.3 142.8L1040.9 143.5L1041.4 144.4L1042 144.9L1042.5 145.8L1043.1 146.3L1043.6 146.6L1044.2 146.8L1044.7 147.1L1045.3 147.7L1045.8 148.2L1046.4 148.8L1046.9 149L1047.4 149.5L1048 149.8L1048.5 150.5L1049.1 151.4L1049.6 151.8L1050.2 152.2L1050.7 152.4L1051.3 152.9L1051.8 153.5L1052.4 153.8L1052.9 153.9L1053.5 154.2L1054 154.4L1054.6 155L1055.1 154.7L1055.7 155L1056.2 155.3L1056.8 156.3L1057.3 157.2L1057.9 157.5L1058.4 158L1059 158.5L1059.5 159.3L1060.1 159.9L1060.6 160.5L1061.2 161.4L1061.7 162.2L1062.3 163L1062.8 163.5L1063.4 164.3L1063.9 164.7L1064.5 165.2L1065 165.3L1065.6 165.7L1066.1 165.9L1066.6 166.7L1067.2 167.3L1067.7 168.3L1068.3 168.4L1068.8 169.3L1069.4 169.5L1069.9 170.4L1070.5 170.9L1071 171.7L1071.6 172.3L1072.1 172.8L1072.7 173.1L1073.2 173.1L1073.8 173.1L1074.3 173L1074.9 173L1075.4 173.1L1076 173.7L1076.5 174.2L1077.1 174.8L1077.6 175.3L1078.2 175.8L1078.7 176.3L1079.3 176.7L1079.8 177.5L1080.4 178.1L1080.9 179L1081.5 179.5L1082 180.2L1082.6 180.4L1083.1 180.8L1083.7 181.1L1084.2 181.8L1084.8 182.4L1085.3 182.7L1085.8 183.4L1086.4 183.9L1086.9 184.8L1087.5 184.8L1088 185.6L1088.6 186.3L1089.1 187.3L1089.7 187.8L1090.2 188.7L1090.8 189.2L1091.3 190L1091.9 190.2L1092.4 190.4L1093 190.5L1093.5 190.5L1094.1 190.9L1094.6 191L1095.2 191.4L1095.7 191.5L1096.3 191.7L1096.8 191.9L1097.4 192.3L1097.9 193L1098.5 193.3L1099 194L1099.6 194.2L1100.1 194.9L1100.7 195.1L1101.2 195.8L1101.8 196.2L1102.3 196.8L1102.9 197.4L1103.4 197.9L1104 198.1L1104.5 198.3L1105 198.9L1105.6 199.4L1106.1 200L1106.7 200.5L1107.2 201.1L1107.8 202L1108.3 202.7L1108.9 203.6L1109.4 204.3L1110 205L1110.5 206.1L1111.1 206.6L1111.6 207.2L1112.2 207.5L1112.7 207.8L1113.3 208.3L1113.8 208.6L1114.4 209L1114.9 209.1L1115.5 209.4L1116 209.5L1116.6 210L1117.1 210.5L1117.7 211L1118.2 211.1L1118.8 211.6L1119.3 212.3L1119.9 213.5L1120.4 213.7L1121 213.6L1121.5 213.6L1122.1 214.1L1122.6 214.5L1123.2 214.7L1123.7 214.7L1124.2 215.3L1124.8 215.6L1125.3 216.4L1125.9 216.8L1126.4 217.7L1127 218.4L1127.5 219.2L1128.1 219.7L1128.6 220.1L1129.2 221.2L1129.7 222L1130.3 223.2L1130.8 223.6L1131.4 224.2L1131.9 224.5L1132.5 225.4L1133 226.2L1133.6 226.7L1134.1 226.9L1134.7 227.2L1135.2 227.6L1135.8 228.2L1136.3 228.8L1136.9 229.2L1137.4 229.4L1138 230.1L1138.5 230.8L1139.1 231.4L1139.6 231.6L1140.2 232.2L1140.7 232.6L1141.3 233L1141.8 233L1142.3 233.4L1142.9 233.1L1143.4 233.3L1144 233.6L1144.5 234.1L1145.1 234.4L1145.6 234.6L1146.2 235.2L1146.7 236.2L1147.3 237.1L1147.8 237.6L1148.4 237.9L1148.9 238.6L1149.5 239.6L1150 240.4L1150.6 240.9L1151.1 241.7L1151.7 242.3L1152.2 242.8L1152.8 243.2L1153.3 243.4L1153.9 243.6L1154.4 244L1155 244.7L1155.5 245.5L1156.1 246.2L1156.6 246.6L1157.2 247.3L1157.7 248.3L1158.3 249.1L1158.8 249.7L1159.4 249.9L1159.9 250.1L1160.5 250.5L1161 251.2L1161.5 251.5L1162.1 252.1L1162.6 252L1163.2 252.5L1163.7 252.2L1164.3 252.4L1164.8 252.6L1165.4 253L1165.9 253.5L1166.5 253.7L1167 254.2L1167.6 254.9L1168.1 255.8L1168.7 256.2L1169.2 256.8L1169.8 257.4L1170.3 258L1170.9 258.1L1171.4 258.1L1172 258.9L1172.5 259.2L1173.1 259.7L1173.6 259.9L1174.2 260.7L1174.7 261.3L1175.3 261.7L1175.8 262.3L1176.4 263.1L1176.9 264.1L1177.5 264.6L1178 265.2L1178.6 266.2L1179.1 266.8L1179.7 267.4L1180.2 267.8L1180.7 268.5L1181.3 268.8L1181.8 269.2L1182.4 269.8L1182.9 270.2L1183.5 270.1L1184 270.1L1184.6 270.2L1185.1 270.6L1185.7 271.1L1186.2 271.5L1186.8 272L1187.3 272.5L1187.9 273.3L1188.4 274L1189 274.2L1189.5 274.5L1190.1 274.8L1190.6 275.2L1191.2 275.3L1191.7 275.7L1192.3 276.2L1192.8 276.9L1193.4 276.9L1193.9 277.4L1194.5 277.4L1195 278.1L1195.6 278.8L1196.1 279.8L1196.7 280.7L1197.2 281.2L1197.8 281.9L1198.3 282.8L1198.9 283.6L1199.4 284.4L1199.9 284.8L1200.5 285.3L1201 285.9L1201.6 286.5L1202.1 287L1202.7 287.4L1203.2 287.5L1203.8 287.9L1204.3 288.2L1204.9 288.8L1205.4 289.7L1206 290.4L1206.5 291L1207.1 291.3L1207.6 291.8L1208.2 292.4L1208.7 292.9L1209.3 293L1209.8 293.5L1210.4 294L1210.9 294.5L1211.5 294.5L1212 294.4L1212.6 295L1213.1 295.2L1213.7 295.4L1214.2 295.1L1214.8 295.7L1215.3 296.4L1215.9 297.1L1216.4 297.7L1217 298.3L1217.5 299.2L1218.1 299.9L1218.6 301.1L1219.1 301.8L1219.7 302.5L1220.2 303.3L1220.8 303.9L1221.3 304.2L1221.9 304.3L1222.4 304.5L1223 305.2L1223.5 305.5L1224.1 305.8L1224.6 306.2L1225.2 307.2L1225.7 308.3L1226.3 308.9L1226.8 309.4L1227.4 310L1227.9 310.6L1228.5 311.3L1229 311.5L1229.6 312.1L1230.1 312.2L1230.7 312.5L1231.2 312.5L1231.8 312.4L1232.3 312.9L1232.9 313.1L1233.4 313.8L1234 313.9L1234.5 314.2L1235.1 314.7L1235.6 315L1236.2 315.6L1236.7 316.3L1237.3 316.7L1237.8 317.2L1238.3 317.5L1238.9 318.2L1239.4 318.8L1240 319.4L1240.5 320.2L1241.1 320.4L1241.6 320.8L1242.2 321L1242.7 321.7L1243.3 322.5L1243.8 323.1L1244.4 323.6L1244.9 324L1245.5 324.7L1246 325.6L1246.6 326.6L1247.1 327.2L1247.7 327.9L1248.2 328.4L1248.8 329.1L1249.3 329.7L1249.9 329.9L1250.4 329.7L1251 329.7L1251.5 330.2L1252.1 330.5L1252.6 330.7L1253.2 331.1L1253.7 331.6L1254.3 331.8L1254.8 332.1L1255.4 332.2L1255.9 333.2L1256.5 333.5L1257 334.4L1257.5 334.9L1258.1 335.3L1258.6 335.6L1259.2 335.7L1259.7 336.5L1260.3 336.9L1260.8 337.2L1261.4 337.4L1261.9 337.9L1262.5 338.4L1263 338.9L1263.6 339.6L1264.1 340.2L1264.7 340.7L1265.2 341.2L1265.8 341.6L1266.3 342.7L1266.9 343.8L1267.4 344.9L1268 345.3L1268.5 345.5L1269.1 346.1L1269.6 346.6L1270.2 347.2L1270.7 347.8L1271.3 348.2L1271.8 348.4L1272.4 348.3L1272.9 348.4L1273.5 349L1274 349.4L1274.6 350.2L1275.1 350.7L1275.7 351.1L1276.2 351.4L1276.7 352L1277.3 352.7L1277.8 353.4L1278.4 353.5L1278.9 353.8L1279.5 353.8L1280 353.8L1280.6 353.7L1281.1 353.9L1281.7 354.7L1282.2 355.2L1282.8 355.9L1283.3 356.5L1283.9 356.9L1284.4 357.8L1285 358.7L1285.5 359.6L1286.1 360.2L1286.6 360.5L1287.2 361.3L1287.7 361.9L1288.3 362.6L1288.8 363.2L1289.4 364.2L1289.9 364.7L1290.5 365L1291 365.4L1291.6 366L1292.1 366.5L1292.7 366.9L1293.2 367.6L1293.8 368.2L1294.3 368.7L1294.8 369.1L1295.4 369.7L1295.9 370.5L1296.5 371.1L1297 371.7L1297.6 371.9L1298.1 372.5L1298.7 372.9L1299.2 373L1299.8 373L1300.3 372.8L1300.9 373.2L1301.4 373.6L1302 374L1302.5 374.6L1303.1 374.7L1303.6 375.1L1304.2 375.4L1304.7 376.2L1305.3 377.3L1305.8 378.1L1306.4 378.5L1306.9 378.7L1307.5 379.2L1308 380.1L1308.6 381L1309.1 381.4L1309.7 381.7L1310.2 381.7L1310.8 382.1L1311.3 382.3L1311.9 383.2L1312.4 383.7L1313 384.8L1313.5 385.7L1314 386.8L1314.6 387.2L1315.1 387.7L1315.7 388.2L1316.2 388.9L1316.8 389.6L1317.3 390.2L1317.9 390.4L1318.4 390.9L1319 390.9L1319.5 391.6L1320.1 391.5L1320.6 391.9L1321.2 391.7L1321.7 392L1322.3 392.1L1322.8 392.6L1323.4 393.1L1323.9 393.7L1324.5 393.6L1325 394.3L1325.6 394.7L1326.1 395.7L1326.7 396.1L1327.2 396.9L1327.8 397.2L1328.3 397.4L1328.9 397.7L1329.4 398.1L1330 398.5L1330.5 398.8L1331.1 399.2L1331.6 400.1L1332.2 400.8L1332.7 401.5L1333.2 402.1L1333.8 402.9L1334.3 403.6L1334.9 404.4L1335.4 405.3L1336 406L1336.5 406.1L1337.1 406.5L1337.6 406.9L1338.2 407.5L1338.7 407.8L1339.3 408.3L1339.8 408.7L1340.4 409.2L1340.9 409.4L1341.5 409.7L1342 410L1342.6 410.5L1343.1 410.9L1343.7 411.2L1344.2 411.6L1344.8 412.3L1345.3 412.8L1345.9 413.1L1346.4 413.5L1347 413.9L1347.5 414.1L1348.1 414.5L1348.6 414.8L1349.2 415.2L1349.7 415.2L1350.3 415.6L1350.8 416L1351.4 416.6L1351.9 417.1L1352.4 417.7L1353 418.4L1353.5 419.1L1354.1 419.7L1354.6 420.6L1355.2 421.5L1355.7 422.4L1356.3 422.7L1356.8 423.5L1357.4 424L1357.9 424.9L1358.5 425.4L1359 425.6L1359.6 425.9L1360.1 426.1L1360.7 427L1361.2 427.6L1361.8 428.1L1362.3 428.5L1362.9 428.7L1363.4 429.5L1364 430.2L1364.5 431.1L1365.1 431.7L1365.6 431.9L1366.2 432.5L1366.7 432.7L1367.3 433.1L1367.8 432.9L1368.4 432.9L1368.9 433L1369.5 433.2L1370 433.7L1370.6 433.9L1371.1 434.3L1371.6 434.7L1372.2 435.6L1372.7 436.3L1373.3 436.6L1373.8 437.3L1374.4 438.1L1374.9 438.7L1375.5 439.4L1376 440.1L1376.6 441.2L1377.1 441.7L1377.7 442.4L1378.2 442.7L1378.8 443.2L1379.3 443.5L1379.9 444.1L1380.4 444.6L1381 445.2L1381.5 445.8L1382.1 446.4L1382.6 447.2L1383.2 447.6L1383.7 448L1384.3 448.8L1384.8 449.4L1385.4 450.4L1385.9 450.5L1386.5 451L1387 451L1387.6 451.2L1388.1 451.4L1388.7 452L1389.2 452.4L1389.8 452.6L1390.3 452.7L1390.8 452.8L1391.4 452.9L1391.9 453.6L1392.5 454.2L1393 454.9L1393.6 455.1L1394.1 455.8L1394.7 456.3L1395.2 456.6L1395.8 457.4L1396.3 458L1396.9 458.5L1397.4 458.8L1398 459.1L1398.5 460L1399.1 460.5L1399.6 460.9L1400.2 461L1400.7 461.2L1401.3 461.9L1401.8 462.6L1402.4 463.5L1402.9 463.9L1403.5 464.9L1404 465.8L1404.6 466.5L1405.1 467.5L1405.7 468.1L1406.2 469.1L1406.8 469.4L1407.3 469.5L1407.9 469.5L1408.4 469.5L1409 470.1L1409.5 470.3L1410 470.4L1410.6 470.8L1411.1 471L1411.7 471.7L1412.2 472.1L1412.8 472.7L1413.3 473.1L1413.9 473.5L1414.4 473.9L1415 474.4L1415.5 474.7L1416.1 475.5L1416.6 475.9L1417.2 476.1L1417.7 475.9L1418.3 475.6L1418.8 476.3L1419.4 476.7L1419.9 477.5L1420.5 477.9L1421 478.8L1421.6 479.8L1422.1 480.8L1422.7 481.7L1423.2 482.3L1423.8 483L1424.3 483.6L1424.9 484L1425.4 484.2L1426 484.5L1426.5 485.3L1427.1 485.9L1427.6 486.8L1428.1 487L1428.7 487.3L1429.2 487.4L1429.8 487.5L1430.3 488.2L1430.9 489.2L1431.4 489.9L1432 490.4L1432.5 490.7L1433.1 491.5L1433.6 492L1434.2 492.3L1434.7 492.6L1435.3 492.6L1435.8 492.9L1436.4 493.1L1436.9 493.6L1437.5 493.7L1438 493.7L1438.6 494L1439.1 494.5L1439.7 495.2L1440.2 495.5L1440.8 495.9L1441.3 496.4L1441.9 497L1442.4 497.7L1443 498.9L1443.5 499.6L1444.1 500.3L1444.6 500.9L1445.2 501.6L1445.7 502.3L1446.3 502.6L1446.8 503.3L1447.3 503.5L1447.9 504L1448.4 504.5L1449 505L1449.5 505.8L1450.1 506.6L1450.6 507L1451.2 507.7L1451.7 508.3L1452.3 508.9L1452.8 509.1L1453.4 509.5L1453.9 510.2L1454.5 510.9L1455 511.6L1455.6 511.7L1456.1 511.9L1456.7 512L1457.2 512.3L1457.8 512.6L1458.3 512.8L1458.9 513.6L1459.4 513.8L1460 514.3L1460.5 514.3L1461.1 514.7L1461.6 515.1L1462.2 515.7L1462.7 516.5L1463.3 517.3L1463.8 517.9L1464.4 518.2L1464.9 518.7L1465.5 519.2L1466 519.8L1466.5 520.2L1467.1 520.7L1467.6 521.4L1468.2 521.9L1468.7 522.5L1469.3 522.9L1469.8 523.5L1470.4 523.9L1470.9 524.4L1471.5 525.6L1472 526.6L1472.6 527.8L1473.1 527.9L1473.7 528.3L1474.2 528.8L1474.8 529.5L1475.3 530.1L1475.9 530.2L1476.4 530.4L1477 530.5L1477.5 530.7L1478.1 531L1478.6 531.4L1479.2 531.9L1479.7 532.2L1480.3 532.4L1480.8 532.9L1481.4 533.6L1481.9 534L1482.5 534.2L1483 534.2L1483.6 534.7L1484.1 535.3L1484.7 535.9L1485.2 536.3L1485.7 536.5L1486.3 537.1L1486.8 537.6L1487.4 538L1487.9 538.3L1488.5 538.4L1489 539.2L1489.6 539.5L1490.1 540.2L1490.7 540.9L1491.2 541.7L1491.8 542.5L1492.3 543.5L1492.9 544.3L1493.4 545L1494 545.5L1494.5 546.2L1495.1 546.9L1495.6 547.3L1496.2 547.9L1496.7 548L1497.3 548.1L1497.8 548.3L1498.4 548.7L1498.9 549.5L1499.5 549.8L1500 550.2L1500.6 550.5L1501.1 550.8L1501.7 551.3L1502.2 551.7L1502.8 552.9L1503.3 553.3L1503.9 553.6L1504.4 553.5L1504.9 553.8L1505.5 554.3" stroke="#ff00ff" stroke-width="3.4" fill="none" stroke-linejoin="miter" stroke-linecap="butt" clip-path="url(#clipB)"/>
<path d="M932.9 115.7V60" stroke="#ff00ff" stroke-width="5"/>
<rect x="1098.1" y="166.2" width="39.2" height="75.1" rx="1.5" fill="none" stroke="#555" stroke-width="1.5"/>
<clipPath id="clip_ib"><rect x="986.9" y="363.5" width="214.5" height="150"/></clipPath>
<rect x="988.4" y="363.5" width="211.5" height="149.4" fill="#fff"/>
<path d="M1024.5 363.5V512.9M1111.8 363.5V512.9M988.4 392H1199.9M988.4 443.5H1199.9M988.4 494.2H1199.9" stroke="#dcdcdc" stroke-width="1.0" fill="none"/>
<path d="M1024.5 512.9v-4M1024.5 363.5v4M1111.8 512.9v-4M1111.8 363.5v4M1199.3 512.9v-4M1199.3 363.5v4M988.4 392h4M1199.9 392h-4M988.4 443.5h4M1199.9 443.5h-4M988.4 494.2h4M1199.9 494.2h-4" stroke="#383838" stroke-width="1.2" fill="none"/>
<rect x="988.4" y="363.5" width="211.5" height="149.4" fill="none" stroke="#383838" stroke-width="1.2"/>
<path d="M985.4 398.4L986.2 398.1L987 399L987.8 399.2L988.6 400.3L989.4 400.2L990.2 401.1L991 401.3L991.8 402.2L992.6 402.9L993.4 403.1L994.2 403.8L995 404.3L995.8 405.6L996.6 406.4L997.4 406.2L998.2 407.1L999 406.6L999.8 407.5L1000.6 407.6L1001.4 409.1L1002.2 410L1003 410.3L1003.8 410.4L1004.6 410.1L1005.4 410.3L1006.2 411.3L1007 411.1L1007.8 411.3L1008.6 410.6L1009.4 411.5L1010.2 411.8L1011 412.2L1011.8 412.9L1012.6 413.5L1013.4 413.7L1014.2 414.6L1015 415L1015.8 415.6L1016.6 416.7L1017.4 417.3L1018.2 418.1L1019 417.3L1019.8 418.3L1020.6 418.7L1021.4 419.7L1022.2 420.4L1023 421.6L1023.8 422.1L1024.6 422.7L1025.4 423.2L1026.2 424L1027 424.1L1027.8 424.9L1028.6 425.2L1029.4 426.5L1030.2 427.3L1031 428.3L1031.8 428.6L1032.6 430.3L1033.4 430.5L1034.2 430.9L1035 429.8L1035.8 430.6L1036.6 430.5L1037.4 430.5L1038.2 430.1L1039 429.4L1039.8 428.1L1040.6 427.2L1041.4 427L1042.2 427.6L1043 428.2L1043.8 428.1L1044.6 427.7L1045.4 427.2L1046.2 427.8L1047 429.1L1047.8 430.4L1048.6 431.4L1049.4 431.4L1050.2 431.6L1051 432.3L1051.8 433.6L1052.6 434.8L1053.4 434.9L1054.2 435.6L1055 434.9L1055.8 435.7L1056.6 436.1L1057.4 437.5L1058.2 438.5L1059 439L1059.8 439.7L1060.6 440.2L1061.4 440.5L1062.2 441.6L1063 441.6L1063.8 442.5L1064.6 442.5L1065.4 442.9L1066.2 443.2L1067 443.6L1067.8 444L1068.6 445.1L1069.4 445L1070.2 445.6L1071 445.6L1071.8 446.6L1072.6 447.4L1073.4 447L1074.2 447.2L1075 447.3L1075.8 448.7L1076.6 449L1077.4 449.4L1078.2 450.1L1079 451L1079.8 451.6L1080.6 451.4L1081.4 452.1L1082.2 451.8L1083 452.1L1083.8 452.1L1084.6 453.5L1085.4 454.4L1086.2 454.6L1087 455.2L1087.8 455.6L1088.6 457.9L1089.4 458.4L1090.2 459.6L1091 458.6L1091.8 458.7L1092.6 458.2L1093.4 458.8L1094.2 459.4L1095 459.4L1095.8 459.5L1096.6 459.6L1097.4 460.8L1098.2 460.8L1099 461.6L1099.8 461.6L1100.6 463L1101.4 463.5L1102.2 465L1103 466.5L1103.8 468L1104.6 470.1L1105.4 470.8L1106.2 471.4L1107 471.9L1107.8 473.1L1108.6 474.1L1109.4 474.9L1110.2 476.1L1111 476.4L1111.8 476.6L1112.6 477.2L1113.4 478.2L1114.2 479.6L1115 479.9L1115.8 481L1116.6 481.2L1117.4 481.6L1118.2 482.1L1119 482.5L1119.8 483.5L1120.6 484.6L1121.4 485.8L1122.2 486.6L1123 487L1123.8 488L1124.6 488.8L1125.4 489.3L1126.2 489.7L1127 490.2L1127.8 490.4L1128.6 491.3L1129.4 491.6L1130.2 492.5L1131 492.5L1131.8 493.3L1132.6 494.4L1133.4 495.4L1134.2 496.1L1135 495.4L1135.8 495.4L1136.6 495.1L1137.4 496.4L1138.2 497.1L1139 498.4L1139.8 499.2L1140.6 499.6L1141.4 499.7L1142.2 499.6L1143 500.5L1143.8 500.6L1144.6 501.4L1145.4 501L1146.2 502.9L1147 502.5L1147.8 502.5L1148.6 502.3L1149.4 503.4L1150.2 504.3L1151 504.2L1151.8 503.7L1152.6 504.2L1153.4 504.8L1154.2 505.8L1155 506.3L1155.8 506.4L1156.6 507.2L1157.4 508.5L1158.2 509.8L1159 509.5L1159.8 509.5L1160.6 509.3L1161.4 510.2L1162.2 510.9L1163 512.7L1163.8 513.6L1164.6 514.2L1165.4 513.7L1166.2 514.5L1167 514.7L1167.8 515.9L1168.6 516.9L1169.4 517.9" stroke="#0000ff" stroke-width="3.4" fill="none" stroke-linejoin="round" stroke-linecap="butt" clip-path="url(#clip_ib)"/>
<path d="M986.9 395.3L987.7 395L988.5 395.8L989.3 396L990.1 397.2L990.9 397.7L991.7 398.1L992.5 398.6L993.3 399.5L994.1 399.9L994.9 400.3L995.7 400.3L996.5 401L997.3 401.5L998.1 401.9L998.9 402.5L999.7 402.8L1000.5 403.4L1001.3 403.9L1002.1 404.3L1002.9 404.8L1003.7 405.4L1004.5 406.3L1005.3 407.2L1006.1 407.3L1006.9 407.6L1007.7 408.1L1008.5 408.7L1009.3 408.5L1010.1 408L1010.9 408.2L1011.7 409.1L1012.5 409.8L1013.3 410.4L1014.1 410.8L1014.9 411.4L1015.7 411.9L1016.5 412.5L1017.3 412.9L1018.1 413.8L1018.9 414.6L1019.7 415.2L1020.5 415.3L1021.3 415.4L1022.1 416.2L1022.9 416.6L1023.7 417.3L1024.5 418L1025.3 419.1L1026.1 419.9L1026.9 420L1027.7 420.7L1028.5 421.1L1029.3 422.4L1030.1 423L1030.9 424.3L1031.7 425L1032.5 426.1L1033.3 426.5L1034.1 427.1L1034.9 427.3L1035.7 427.6L1036.5 427.5L1037.3 427.5L1038.1 427.3L1038.9 427.1L1039.7 426.6L1040.5 425.8L1041.3 424.9L1042.1 424L1042.9 423.7L1043.7 424.6L1044.5 425.5L1045.3 426.2L1046.1 425.8L1046.9 425.4L1047.7 425.4L1048.5 425.6L1049.3 425.9L1050.1 426.5L1050.9 427.7L1051.7 429.3L1052.5 430.3L1053.3 431L1054.1 431.7L1054.9 431.8L1055.7 432.2L1056.5 432.4L1057.3 433.1L1058.1 434.2L1058.9 435.1L1059.7 435.8L1060.5 435.7L1061.3 436.9L1062.1 436.9L1062.9 437.4L1063.7 437.5L1064.5 438.3L1065.3 438.7L1066.1 439L1066.9 439.8L1067.7 440.5L1068.5 440.6L1069.3 441L1070.1 441L1070.9 441.4L1071.7 441.3L1072.5 442.1L1073.3 442.7L1074.1 443.1L1074.9 443.5L1075.7 443.8L1076.5 444.4L1077.3 444.8L1078.1 445.4L1078.9 445.7L1079.7 446L1080.5 446.8L1081.3 447L1082.1 447.9L1082.9 447.9L1083.7 448.7L1084.5 448.8L1085.3 449.6L1086.1 450.3L1086.9 451.6L1087.7 452.1L1088.5 452.6L1089.3 452.8L1090.1 453.8L1090.9 454.8L1091.7 455.5L1092.5 455.9L1093.3 455.9L1094.1 456L1094.9 455.9L1095.7 455.7L1096.5 455.9L1097.3 455.7L1098.1 456.3L1098.9 456.8L1099.7 457.3L1100.5 457.9L1101.3 458.5L1102.1 459.8L1102.9 460.7L1103.7 461.8L1104.5 463L1105.3 464.5L1106.1 466.5L1106.9 467.5L1107.7 468.3L1108.5 469L1109.3 469.8L1110.1 471L1110.9 471L1111.7 471.7L1112.5 472L1113.3 473L1114.1 474.2L1114.9 474.7L1115.7 475.5L1116.5 475.9L1117.3 476.9L1118.1 477.8L1118.9 478.8L1119.7 479.6L1120.5 480.3L1121.3 480.8L1122.1 481.1L1122.9 481.3L1123.7 482.1L1124.5 482.8L1125.3 483.8L1126.1 484.5L1126.9 485.4L1127.7 486.1L1128.5 486.5L1129.3 487.1L1130.1 488.1L1130.9 488.4L1131.7 488.8L1132.5 489.2L1133.3 490.1L1134.1 490.5L1134.9 490.8L1135.7 491.3L1136.5 492.2L1137.3 492.3L1138.1 492.5L1138.9 492.9L1139.7 493.9L1140.5 494.7L1141.3 495.3L1142.1 496L1142.9 496.6L1143.7 497.7L1144.5 497.9L1145.3 498.2L1146.1 497.8L1146.9 498.6L1147.7 499.1L1148.5 499.7L1149.3 499.6L1150.1 500.4L1150.9 500.8L1151.7 501.6L1152.5 501.1L1153.3 501.4L1154.1 501.7L1154.9 502.7L1155.7 503.1L1156.5 503.8L1157.3 503.6L1158.1 503.9L1158.9 504.3L1159.7 505.2L1160.5 505.7L1161.3 506.2L1162.1 507L1162.9 507.6L1163.7 508.4L1164.5 508.8L1165.3 509.5L1166.1 510L1166.9 510L1167.7 510.6L1168.5 511.6L1169.3 512.7L1170.1 513.3L1170.9 514" stroke="#0c0c0c" stroke-width="3.0" fill="none" stroke-linejoin="round" stroke-linecap="butt" clip-path="url(#clip_ib)"/>
<path d="M986.9 376.2L987.7 376.4L988.5 376.6L989.3 376.7L990.1 377.1L990.9 377.7L991.7 378.1L992.5 378.7L993.3 378.9L994.1 379.3L994.9 379.4L995.7 379.7L996.5 380.2L997.3 381L998.1 381.5L998.9 381.9L999.7 382.4L1000.5 383.3L1001.3 384.1L1002.1 384.8L1002.9 385.3L1003.7 385.6L1004.5 385.9L1005.3 386.3L1006.1 386.8L1006.9 386.9L1007.7 387.3L1008.5 387.6L1009.3 388.2L1010.1 388.6L1010.9 388.8L1011.7 388.9L1012.5 388.8L1013.3 389.4L1014.1 390.1L1014.9 391L1015.7 391.6L1016.5 392.2L1017.3 392.8L1018.1 393.5L1018.9 394L1019.7 394.5L1020.5 395.2L1021.3 395.8L1022.1 396.4L1022.9 396.9L1023.7 397.5L1024.5 398.3L1025.3 399.1L1026.1 399.9L1026.9 400.5L1027.7 401L1028.5 401.7L1029.3 402.5L1030.1 403.6L1030.9 404.7L1031.7 405.8L1032.5 406.8L1033.3 407.7L1034.1 408.6L1034.9 409.1L1035.7 409.1L1036.5 409L1037.3 409.2L1038.1 408.6L1038.9 408.1L1039.7 407.2L1040.5 406.9L1041.3 406.3L1042.1 405.8L1042.9 405.1L1043.7 404.6L1044.5 404.4L1045.3 404.5L1046.1 404.8L1046.9 405L1047.7 405.4L1048.5 406.1L1049.3 407L1050.1 407.9L1050.9 408.4L1051.7 408.9L1052.5 409.6L1053.3 410.4L1054.1 411.3L1054.9 411.7L1055.7 412.3L1056.5 412.9L1057.3 413.6L1058.1 414.4L1058.9 414.9L1059.7 415.6L1060.5 415.9L1061.3 416.7L1062.1 417.1L1062.9 418.2L1063.7 418.6L1064.5 419.4L1065.3 419.6L1066.1 420L1066.9 420.3L1067.7 420.9L1068.5 421.4L1069.3 421.7L1070.1 421.8L1070.9 422.3L1071.7 423L1072.5 423.5L1073.3 424L1074.1 424.5L1074.9 425L1075.7 425.5L1076.5 425.8L1077.3 426.3L1078.1 426.7L1078.9 427L1079.7 427.5L1080.5 428.1L1081.3 428.6L1082.1 428.9L1082.9 428.9L1083.7 429.6L1084.5 430.5L1085.3 431.3L1086.1 431.8L1086.9 432.3L1087.7 433.2L1088.5 433.7L1089.3 434.5L1090.1 434.8L1090.9 435.7L1091.7 436.1L1092.5 436.8L1093.3 437.1L1094.1 437.4L1094.9 437.4L1095.7 437.5L1096.5 438L1097.3 438.5L1098.1 438.7L1098.9 438.6L1099.7 438.7L1100.5 439.2L1101.3 440.1L1102.1 441.2L1102.9 442.4L1103.7 443.7L1104.5 444.9L1105.3 445.9L1106.1 447L1106.9 447.9L1107.7 449.1L1108.5 450.2L1109.3 451.2L1110.1 452.1L1110.9 452.9L1111.7 453.8L1112.5 454.6L1113.3 455.5L1114.1 456.2L1114.9 456.9L1115.7 457.6L1116.5 458.4L1117.3 459.3L1118.1 460.1L1118.9 460.9L1119.7 461.4L1120.5 462L1121.3 462.8L1122.1 463.9L1122.9 464.8L1123.7 465.2L1124.5 465.9L1125.3 466.7L1126.1 467.8L1126.9 468.3L1127.7 469.1L1128.5 469.6L1129.3 470.1L1130.1 470.4L1130.9 470.8L1131.7 471.4L1132.5 472L1133.3 472.4L1134.1 473.1L1134.9 473.4L1135.7 474L1136.5 474.5L1137.3 474.8L1138.1 475.2L1138.9 475.8L1139.7 476.5L1140.5 477.3L1141.3 477.9L1142.1 478.4L1142.9 478.8L1143.7 479.3L1144.5 479.9L1145.3 480.6L1146.1 481.2L1146.9 481.8L1147.7 481.9L1148.5 482L1149.3 482.3L1150.1 482.8L1150.9 483.2L1151.7 483.7L1152.5 484.2L1153.3 484.5L1154.1 484.7L1154.9 484.9L1155.7 485.5L1156.5 486L1157.3 486.5L1158.1 487L1158.9 487.8L1159.7 488.4L1160.5 488.9L1161.3 489.4L1162.1 490.2L1162.9 490.8L1163.7 491.3L1164.5 491.7L1165.3 492.4L1166.1 493.2L1166.9 493.9L1167.7 494.4L1168.5 495.1L1169.3 495.8L1170.1 496.4L1170.9 497.1L1171.7 497.6L1172.5 498.3L1173.3 498.8L1174.1 499.5L1174.9 500.4L1175.7 501.3L1176.5 502.1L1177.3 502.6L1178.1 502.7L1178.9 502.3L1179.7 501.7L1180.5 501.1L1181.3 500.4L1182.1 499.9L1182.9 499.7L1183.7 499.7L1184.5 499.3L1185.3 499.2L1186.1 499L1186.9 499L1187.7 499.2L1188.5 499.6L1189.3 500.2L1190.1 501.1L1190.9 502.1L1191.7 502.8L1192.5 503.3L1193.3 503.7L1194.1 504.6L1194.9 505.2L1195.7 505.9L1196.5 506.4L1197.3 506.8L1198.1 507.3L1198.9 508.1L1199.7 508.6L1200.5 508.9" stroke="#ff00ff" stroke-width="3.6" fill="none" stroke-linejoin="round" stroke-linecap="butt" clip-path="url(#clip_ib)"/>
<text x="1024.5" y="542.1" font-size="20.5" text-anchor="middle" font-weight="bold" fill="#262626">6000</text>
<text x="1111.8" y="542.1" font-size="20.5" text-anchor="middle" font-weight="bold" fill="#262626">6500</text>
<text x="1199.3" y="542.1" font-size="20.5" text-anchor="middle" font-weight="bold" fill="#262626">7000</text>
<text x="979.4" y="399.6" font-size="20.5" text-anchor="end" font-weight="bold" fill="#262626">0.76</text>
<text x="979.4" y="451.1" font-size="20.5" text-anchor="end" font-weight="bold" fill="#262626">0.74</text>
<text x="979.4" y="501.8" font-size="20.5" text-anchor="end" font-weight="bold" fill="#262626">0.72</text>
<path d="M1118.5 241.8L1076.8 346.8" stroke="#0a0a0a" stroke-width="1.1" fill="none"/>
<path d="M1071.5 360.3L1071.4 337.1L1076.8 346.8L1087.4 343.5Z" fill="#0a0a0a"/>
<text x="923.2" y="557.9" font-size="20.8" text-anchor="end" font-weight="bold" fill="#262626">0.1</text>
<text x="923.2" y="503.7" font-size="20.8" text-anchor="end" font-weight="bold" fill="#262626">0.2</text>
<text x="923.2" y="449.5" font-size="20.8" text-anchor="end" font-weight="bold" fill="#262626">0.3</text>
<text x="923.2" y="395.3" font-size="20.8" text-anchor="end" font-weight="bold" fill="#262626">0.4</text>
<text x="923.2" y="341.1" font-size="20.8" text-anchor="end" font-weight="bold" fill="#262626">0.5</text>
<text x="923.2" y="286.9" font-size="20.8" text-anchor="end" font-weight="bold" fill="#262626">0.6</text>
<text x="923.2" y="232.7" font-size="20.8" text-anchor="end" font-weight="bold" fill="#262626">0.7</text>
<text x="923.2" y="178.5" font-size="20.8" text-anchor="end" font-weight="bold" fill="#262626">0.8</text>
<text x="923.2" y="124.3" font-size="20.8" text-anchor="end" font-weight="bold" fill="#262626">0.9</text>
<text x="923.2" y="70.1" font-size="20.8" text-anchor="end" font-weight="bold" fill="#262626">1</text>
<text x="923.2" y="15.9" font-size="20.8" text-anchor="end" font-weight="bold" fill="#262626">1.1</text>
<text x="933.1" y="579" font-size="20.8" text-anchor="middle" font-weight="bold" fill="#262626">0</text>
<text x="1070.2" y="579" font-size="20.8" text-anchor="middle" font-weight="bold" fill="#262626">0.5</text>
<text x="1207.4" y="579" font-size="20.8" text-anchor="middle" font-weight="bold" fill="#262626">1</text>
<text x="1344.5" y="579" font-size="20.8" text-anchor="middle" font-weight="bold" fill="#262626">1.5</text>
<text x="1481.7" y="579" font-size="20.8" text-anchor="middle" font-weight="bold" fill="#262626">2</text>
<text x="1618.8" y="579" font-size="20.8" text-anchor="middle" font-weight="bold" fill="#262626">2.5</text>
<text x="1276.5" y="610" font-size="27.5" text-anchor="middle" font-weight="bold" fill="#262626">Time(s)</text>
<text transform="translate(884.5 282) rotate(-90)" font-size="27.5" text-anchor="middle" font-weight="bold" fill="#262626">SOC</text>
<text x="1618.8" y="611.3" font-size="23.3" text-anchor="end" font-weight="normal" fill="#262626">×10<tspan dy="-10.8" font-size="17.5">4</tspan></text>
<rect x="1302.6" y="24.8" width="298.9" height="101.3" rx="1.5" fill="#fff" stroke="#444" stroke-width="1.2"/>
<path d="M1308.3 42.4H1371" stroke="#000" stroke-width="3.8"/>
<text x="1377.3" y="52.7" font-size="27.4" text-anchor="start" font-weight="bold" fill="#000" textLength="117.2" lengthAdjust="spacing">Reference</text>
<path d="M1308.3 75H1371" stroke="#0000ff" stroke-width="3.8"/>
<text x="1377.3" y="84.5" font-size="27.4" text-anchor="start" font-weight="bold" fill="#000" textLength="218.5" lengthAdjust="spacing">FOAMIUHF-UKF</text>
<path d="M1308.3 108H1371" stroke="#ff00ff" stroke-width="3.8"/>
<text x="1377.3" y="117.3" font-size="27.4" text-anchor="start" font-weight="bold" fill="#000" textLength="199" lengthAdjust="spacing">FOMIUKF-UKF</text>
<text x="1228" y="698.3" font-size="50" text-anchor="middle" fill="#000">(b) HWFET</text>
</g>
<g id="chart-c">
<clipPath id="clipC"><rect x="464.1" y="788" width="689.6" height="544"/></clipPath>
<path d="M565.2 788V1329.5M663.3 788V1329.5M761.3 788V1329.5M859.4 788V1329.5M957.5 788V1329.5M1055.6 788V1329.5M467.1 1275.4H1153.7M467.1 1221.2H1153.7M467.1 1167.1H1153.7M467.1 1112.9H1153.7M467.1 1058.8H1153.7M467.1 1004.6H1153.7M467.1 950.5H1153.7M467.1 896.3H1153.7M467.1 842.2H1153.7" stroke="#d2d2d2" stroke-width="1.1" fill="none"/>
<path d="M565.2 1329.5v-7M565.2 788v7M663.3 1329.5v-7M663.3 788v7M761.3 1329.5v-7M761.3 788v7M859.4 1329.5v-7M859.4 788v7M957.5 1329.5v-7M957.5 788v7M1055.6 1329.5v-7M1055.6 788v7M467.1 1275.4h7M1153.7 1275.4h-7M467.1 1221.2h7M1153.7 1221.2h-7M467.1 1167.1h7M1153.7 1167.1h-7M467.1 1112.9h7M1153.7 1112.9h-7M467.1 1058.8h7M1153.7 1058.8h-7M467.1 1004.6h7M1153.7 1004.6h-7M467.1 950.5h7M1153.7 950.5h-7M467.1 896.3h7M1153.7 896.3h-7M467.1 842.2h7M1153.7 842.2h-7" stroke="#262626" stroke-width="1.7" fill="none"/>
<rect x="467.1" y="788" width="686.6" height="541.5" fill="none" stroke="#262626" stroke-width="1.7"/>
<path d="M467.1 844.9L467.6 844.9L468.1 844.9L468.6 844.9L469.1 844.9L469.6 844.9L470 844.9L470.5 844.9L471 844.9L471.5 844.9L472 844.9L472.5 844.9L473 844.9L473.5 844.9L474 844.9L474.5 844.9L474.9 844.9L475.4 844.9L475.9 846.2L476.4 847.3L476.9 847.6L477.4 848.1L477.9 848.6L478.4 849.5L478.9 850.8L479.4 851.9L479.9 852.7L480.3 852.3L480.8 852L481.3 852L481.8 852.7L482.3 853.5L482.8 853.9L483.3 854.3L483.8 854.1L484.3 854.5L484.8 854.5L485.2 855.1L485.7 855.1L486.2 855.2L486.7 855.3L487.2 855.1L487.7 855.2L488.2 855.1L488.7 855.6L489.2 855.5L489.7 855.8L490.1 856L490.6 856.5L491.1 856.3L491.6 856.4L492.1 856.3L492.6 856.7L493.1 856.6L493.6 856.6L494.1 857.6L494.6 858.7L495.1 860.7L495.5 862.8L496 863.8L496.5 862.9L497 861.9L497.5 861.6L498 861.6L498.5 862.3L499 862.6L499.5 862.9L500 863.3L500.4 864.2L500.9 865.3L501.4 865.5L501.9 865L502.4 865.2L502.9 866.1L503.4 867.3L503.9 867.6L504.4 867.4L504.9 868L505.4 868.7L505.8 869.9L506.3 870.1L506.8 870L507.3 870.1L507.8 870.6L508.3 871.8L508.8 871.9L509.3 872L509.8 872.4L510.3 872.6L510.7 873L511.2 873.4L511.7 873.6L512.2 873.3L512.7 873.2L513.2 873.5L513.7 873.9L514.2 873.7L514.7 874L515.2 873.8L515.6 873.5L516.1 873.6L516.6 874L517.1 874.7L517.6 874.4L518.1 874.4L518.6 874.3L519.1 874L519.6 874.2L520.1 876L520.6 878L521 878.8L521.5 880.4L522 881.7L522.5 882.2L523 880.8L523.5 880.5L524 880.4L524.5 880.4L525 879.8L525.5 880L525.9 880.5L526.4 881.7L526.9 882.9L527.4 883.2L527.9 884.1L528.4 884.4L528.9 885.5L529.4 885L529.9 885.1L530.4 885.3L530.9 886.2L531.3 887.2L531.8 887.6L532.3 888.2L532.8 888.9L533.3 889.6L533.8 889.6L534.3 889.6L534.8 890.1L535.3 890.7L535.8 890.8L536.2 891L536.7 890.6L537.2 891L537.7 891.1L538.2 891.3L538.7 890.7L539.2 890.7L539.7 891.6L540.2 891.8L540.7 892.4L541.1 892.2L541.6 892.4L542.1 892.3L542.6 892.6L543.1 892.7L543.6 892.4L544.1 892.2L544.6 892.4L545.1 892.7L545.6 892.6L546.1 893.6L546.5 894.7L547 896.3L547.5 897.5L548 899.6L548.5 899.2L549 899.6L549.5 898.8L550 899.4L550.5 898.5L551 898.7L551.4 898.6L551.9 899.3L552.4 899.8L552.9 900.6L553.4 900.8L553.9 901.1L554.4 901.6L554.9 902.2L555.4 902.7L555.9 903.5L556.4 904.2L556.8 904.8L557.3 904.8L557.8 905L558.3 905.3L558.8 905.9L559.3 906.7L559.8 907.3L560.3 907.5L560.8 907.7L561.3 907.5L561.7 907.9L562.2 908.1L562.7 909.1L563.2 909.2L563.7 909.1L564.2 908.5L564.7 908.2L565.2 908.6L565.7 908.8L566.2 909L566.6 908.8L567.1 908.8L567.6 908.6L568.1 908.4L568.6 908.6L569.1 909.2L569.6 910.2L570.1 910.6L570.6 910.5L571.1 910.7L571.6 910.4L572 911.3L572.5 912L573 913.9L573.5 915.6L574 917.8L574.5 917.9L575 916.9L575.5 915.9L576 916.1L576.5 916.4L576.9 917L577.4 917.5L577.9 918.2L578.4 918.8L578.9 919.2L579.4 919.9L579.9 920.6L580.4 920.7L580.9 920.7L581.4 920.8L581.9 921.6L582.3 922.7L582.8 923.3L583.3 923.4L583.8 923.4L584.3 923.5L584.8 923.5L585.3 923.9L585.8 924.8L586.3 926.3L586.8 927.1L587.2 927.2L587.7 926.9L588.2 926.9L588.7 926.7L589.2 926.9L589.7 927.3L590.2 928.1L590.7 927.9L591.2 928.4L591.7 928.6L592.2 929.6L592.6 929L593.1 928.9L593.6 928.6L594.1 929L594.6 929.3L595.1 929L595.6 929.6L596.1 929.3L596.6 929.8L597.1 929.6L597.5 930L598 930.6L598.5 931.5L599 932.3L599.5 933.8L600 936L600.5 937.5L601 936.7L601.5 936L602 935.7L602.4 935.6L602.9 935.7L603.4 935.4L603.9 935.9L604.4 935.8L604.9 936.3L605.4 936.9L605.9 937.6L606.4 938.1L606.9 939.3L607.4 939.9L607.8 940.8L608.3 941.6L608.8 942.2L609.3 942.7L609.8 942.5L610.3 943L610.8 943.3L611.3 943.9L611.8 944.1L612.3 945.2L612.7 946L613.2 946.7L613.7 946.6L614.2 946.5L614.7 946.9L615.2 947.1L615.7 947L616.2 947.1L616.7 947.1L617.2 947.6L617.7 948L618.1 948.3L618.6 948.1L619.1 948L619.6 948.1L620.1 948.6L620.6 949.2L621.1 948.5L621.6 948.5L622.1 948.4L622.6 949L623 948.9L623.5 948.9L624 949L624.5 950.7L625 952.1L625.5 954.1L626 956.3L626.5 957.9L627 957.9L627.5 956.4L627.9 955.7L628.4 955L628.9 954.5L629.4 954.5L629.9 955.1L630.4 956.7L630.9 957.6L631.4 958L631.9 958.8L632.4 959.3L632.9 960.5L633.3 960.6L633.8 961.3L634.3 961.6L634.8 962.3L635.3 962.7L635.8 962.8L636.3 963.2L636.8 963.4L637.3 964.2L637.8 964.3L638.2 965.4L638.7 966.2L639.2 967.2L639.7 967.6L640.2 967.3L640.7 967.3L641.2 967.2L641.7 967.3L642.2 967.4L642.7 967.3L643.2 967.7L643.6 968.1L644.1 968L644.6 967.7L645.1 967.7L645.6 967.9L646.1 968.4L646.6 968.5L647.1 969.1L647.6 969.5L648.1 969.6L648.5 969.4L649 969.5L649.5 969.3L650 969.3L650.5 970.3L651 971.8L651.5 973L652 974.9L652.5 976.7L653 977.2L653.4 976.3L653.9 976L654.4 976L654.9 976.1L655.4 976.6L655.9 977L656.4 978.2L656.9 977.7L657.4 977.9L657.9 977.5L658.4 978.6L658.8 979.4L659.3 980.1L659.8 981.2L660.3 982L660.8 982.6L661.3 982.3L661.8 982.8L662.3 983L662.8 983.9L663.3 984.5L663.7 985.5L664.2 985.4L664.7 986.1L665.2 986.6L665.7 987.5L666.2 987.4L666.7 987.7L667.2 987.7L667.7 988.1L668.2 988.4L668.7 988.4L669.1 988.6L669.6 988.1L670.1 987.7L670.6 987.3L671.1 987.6L671.6 988.5L672.1 988.6L672.6 989.4L673.1 989.2L673.6 989.8L674 989L674.5 989L675 989.1L675.5 989.6L676 989.4L676.5 990.1L677 991.7L677.5 993.8L678 995.6L678.5 997.2L678.9 997.5L679.4 996.6L679.9 996.4L680.4 995.9L680.9 995.9L681.4 995.3L681.9 996.1L682.4 996.9L682.9 997.4L683.4 997.8L683.9 998L684.3 999.2L684.8 999.3L685.3 1000.2L685.8 1001.2L686.3 1001.7L686.8 1002.8L687.3 1003L687.8 1003.7L688.3 1004L688.8 1004.1L689.2 1004.9L689.7 1005.2L690.2 1004.9L690.7 1005.2L691.2 1005.6L691.7 1007.1L692.2 1007.6L692.7 1007.1L693.2 1007.4L693.7 1007.3L694.2 1008.3L694.6 1008.1L695.1 1007.9L695.6 1008L696.1 1008.2L696.6 1008.8L697.1 1008.8L697.6 1008.7L698.1 1008.7L698.6 1009.1L699.1 1009.1L699.5 1009.7L700 1008.7L700.5 1009.3L701 1009.1L701.5 1010.1L702 1009.5L702.5 1010.3L703 1011.8L703.5 1013.3L704 1014.7L704.5 1016L704.9 1016.2L705.4 1015.3L705.9 1014.9L706.4 1014.8L706.9 1015.2L707.4 1014.9L707.9 1016.2L708.4 1016.7L708.9 1017.9L709.4 1017.8L709.8 1018.1L710.3 1018.1L710.8 1018.7L711.3 1019.4L711.8 1019.5L712.3 1019.8L712.8 1020.1L713.3 1021.1L713.8 1021.7L714.3 1022.7L714.7 1023L715.2 1023.4L715.7 1023.5L716.2 1023.9L716.7 1024.6L717.2 1024.4L717.7 1025.1L718.2 1024.4L718.7 1025.2L719.2 1025.1L719.7 1025.2L720.1 1025.4L720.6 1025.3L721.1 1025.7L721.6 1025.3L722.1 1025.6L722.6 1025.3L723.1 1025.7L723.6 1025.5L724.1 1026L724.6 1026.3L725 1026.6L725.5 1026.5L726 1026.1L726.5 1026.2L727 1026.5L727.5 1026.5L728 1026.7L728.5 1026.9L729 1028.3L729.5 1029.8L730 1030.7L730.4 1032.8L730.9 1033.9L731.4 1034.2L731.9 1033.8L732.4 1033.7L732.9 1033.7L733.4 1033.8L733.9 1033.6L734.4 1033.8L734.9 1033.7L735.3 1034.1L735.8 1034.4L736.3 1035.2L736.8 1036L737.3 1036.9L737.8 1037.2L738.3 1037.9L738.8 1038L739.3 1038.4L739.8 1038.8L740.2 1039.5L740.7 1039.9L741.2 1040.7L741.7 1040.7L742.2 1041.2L742.7 1041.7L743.2 1042.4L743.7 1043.1L744.2 1042.9L744.7 1043.1L745.2 1042.7L745.6 1042.6L746.1 1042.5L746.6 1043.2L747.1 1043.6L747.6 1044L748.1 1043.9L748.6 1043.8L749.1 1044.1L749.6 1044.3L750.1 1044.1L750.5 1043.9L751 1043.9L751.5 1044.3L752 1044.7L752.5 1044.9L753 1045.4L753.5 1045.7L754 1045.2L754.5 1045L755 1046.3L755.5 1047.5L755.9 1048.9L756.4 1050.5L756.9 1052.8L757.4 1053.2L757.9 1052L758.4 1051.2L758.9 1050.6L759.4 1050.6L759.9 1051.1L760.4 1051.6L760.8 1051.9L761.3 1052.1L761.8 1053L762.3 1054.2L762.8 1054.6L763.3 1054.5L763.8 1054.4L764.3 1054.9L764.8 1055.9L765.3 1057.5L765.7 1057.8L766.2 1058L766.7 1058.1L767.2 1058.6L767.7 1059.2L768.2 1059.5L768.7 1060.5L769.2 1061.2L769.7 1061.9L770.2 1061.8L770.7 1061.4L771.1 1061L771.6 1061.7L772.1 1062.1L772.6 1062.6L773.1 1062.4L773.6 1062.3L774.1 1062.1L774.6 1062.4L775.1 1062.7L775.6 1063.1L776 1062.7L776.5 1062.7L777 1062.7L777.5 1062.4L778 1062.4L778.5 1062.7L779 1063.3L779.5 1063L780 1063L780.5 1062.8L781 1064.2L781.4 1065.8L781.9 1066.9L782.4 1068.6L782.9 1070.2L783.4 1071L783.9 1070.2L784.4 1070.3L784.9 1069.9L785.4 1069.5L785.9 1068.9L786.3 1069.6L786.8 1070.8L787.3 1071.6L787.8 1071.6L788.3 1072.3L788.8 1072.6L789.3 1073.2L789.8 1072.9L790.3 1073.6L790.8 1074L791.2 1074.8L791.7 1074.8L792.2 1075.4L792.7 1075.6L793.2 1076L793.7 1076.3L794.2 1077L794.7 1077.7L795.2 1078.6L795.7 1079.5L796.2 1080.2L796.6 1080.1L797.1 1079.6L797.6 1079.6L798.1 1079.7L798.6 1079.9L799.1 1079.8L799.6 1079.7L800.1 1080L800.6 1079.8L801.1 1080.1L801.5 1080.2L802 1081L802.5 1081.1L803 1081.5L803.5 1081.2L804 1080.9L804.5 1080.5L805 1080.8L805.5 1081.2L806 1081.8L806.5 1082.3L806.9 1083L807.4 1083.8L807.9 1085L808.4 1086.2L808.9 1088.3L809.4 1088.8L809.9 1088.2L810.4 1087.3L810.9 1087.5L811.4 1088.4L811.8 1089L812.3 1088.9L812.8 1089.3L813.3 1089.5L813.8 1089.2L814.3 1089.1L814.8 1089.8L815.3 1091L815.8 1092.2L816.3 1092.9L816.8 1093.6L817.2 1094L817.7 1094.4L818.2 1094.5L818.7 1094.4L819.2 1095.4L819.7 1096.6L820.2 1097.5L820.7 1096.9L821.2 1097.5L821.7 1097.9L822.1 1097.9L822.6 1097.9L823.1 1097.7L823.6 1098.6L824.1 1098.7L824.6 1099.2L825.1 1098.5L825.6 1098.2L826.1 1098.5L826.6 1099.6L827 1100L827.5 1100L828 1100.1L828.5 1100L829 1099.7L829.5 1099.6L830 1099.8L830.5 1100L831 1100.1L831.5 1100.2L832 1100.2L832.4 1100.3L832.9 1100.6L833.4 1101.4L833.9 1103.1L834.4 1105.1L834.9 1108.3L835.4 1109.3L835.9 1108.2L836.4 1106.9L836.9 1106.4L837.3 1106.5L837.8 1106.6L838.3 1107.4L838.8 1107.7L839.3 1108L839.8 1108.1L840.3 1108.8L840.8 1109.3L841.3 1109.8L841.8 1110.6L842.3 1111.4L842.7 1112.1L843.2 1112.6L843.7 1112.6L844.2 1112.9L844.7 1112.6L845.2 1113.8L845.7 1114.2L846.2 1115.1L846.7 1115.2L847.2 1115.8L847.6 1116.1L848.1 1116.1L848.6 1115.9L849.1 1116.3L849.6 1117.1L850.1 1117.6L850.6 1117.6L851.1 1117.2L851.6 1117.6L852.1 1117.8L852.5 1118.3L853 1118.3L853.5 1118.4L854 1118.7L854.5 1118.6L855 1119L855.5 1118.9L856 1119.3L856.5 1119.6L857 1119.2L857.5 1119.6L857.9 1120.2L858.4 1120.3L858.9 1119.7L859.4 1120.5L859.9 1122L860.4 1123.9L860.9 1125.5L861.4 1127.8L861.9 1127.8L862.4 1127.3L862.8 1126.4L863.3 1125.9L863.8 1125.7L864.3 1125.5L864.8 1125.9L865.3 1126.1L865.8 1127.1L866.3 1128.2L866.8 1129.5L867.3 1130.1L867.8 1130.6L868.2 1130.9L868.7 1131.6L869.2 1131.7L869.7 1132.2L870.2 1132.2L870.7 1133.1L871.2 1134.4L871.7 1135.3L872.2 1135.6L872.7 1135.4L873.1 1135.9L873.6 1136L874.1 1136.4L874.6 1136.6L875.1 1137.1L875.6 1137.6L876.1 1137.3L876.6 1137.6L877.1 1137.9L877.6 1138.3L878 1138.9L878.5 1138.7L879 1138.9L879.5 1138.7L880 1139.6L880.5 1139.5L881 1139.4L881.5 1138.8L882 1139.3L882.5 1139.6L883 1139.9L883.4 1139.5L883.9 1139.1L884.4 1139.1L884.9 1139.6L885.4 1140.7L885.9 1142L886.4 1143.6L886.9 1145.9L887.4 1148.1L887.9 1148.2L888.3 1146.8L888.8 1146.5L889.3 1146.4L889.8 1146.8L890.3 1147L890.8 1147.5L891.3 1148.1L891.8 1148.3L892.3 1148.8L892.8 1149L893.3 1149.5L893.7 1149.7L894.2 1150.2L894.7 1150.7L895.2 1151.3L895.7 1152.5L896.2 1152.7L896.7 1153.5L897.2 1153.7L897.7 1154.7L898.2 1154.3L898.6 1154.6L899.1 1155.2L899.6 1156.3L900.1 1157L900.6 1157L901.1 1157.2L901.6 1157.4L902.1 1157.2L902.6 1157.6L903.1 1158L903.5 1158.2L904 1158.5L904.5 1158.3L905 1158.7L905.5 1158.3L906 1158.5L906.5 1158.2L907 1158.7L907.5 1159.1L908 1160.2L908.5 1160.3L908.9 1160.1L909.4 1160.1L909.9 1160.5L910.4 1160.7L910.9 1160.3L911.4 1160.2L911.9 1162L912.4 1163.5L912.9 1164.9L913.4 1166.9L913.8 1167.6L914.3 1167.5L914.8 1166.3L915.3 1166.6L915.8 1166.5L916.3 1167.2L916.8 1166.7L917.3 1167.5L917.8 1167.4L918.3 1168.5L918.8 1168.9L919.2 1169.8L919.7 1169.9L920.2 1170.2L920.7 1170.7L921.2 1171L921.7 1171.9L922.2 1172.6L922.7 1173.3L923.2 1173.4L923.7 1173.6L924.1 1174.3L924.6 1175.1L925.1 1175.7L925.6 1176.4L926.1 1177L926.6 1177.5L927.1 1177.6L927.6 1177.9L928.1 1178.2L928.6 1177.9L929.1 1177.8L929.5 1177.7L930 1178.4L930.5 1178.5L931 1178.6L931.5 1178.9L932 1179.2L932.5 1179.9L933 1179.5L933.5 1179.3L934 1178.9L934.4 1178.7L934.9 1179.1L935.4 1179.6L935.9 1179.8L936.4 1180.5L936.9 1180.1L937.4 1180.9L937.9 1181.3L938.4 1182.7L938.9 1184.2L939.3 1186.3L939.8 1187.9L940.3 1187.1L940.8 1186.6L941.3 1186.2L941.8 1186.7L942.3 1186.3L942.8 1186L943.3 1186.4L943.8 1187.2L944.3 1188L944.7 1188.8L945.2 1189L945.7 1189.9L946.2 1190L946.7 1190.8L947.2 1190.8L947.7 1191.5L948.2 1192.3L948.7 1193.3L949.2 1193.7L949.6 1193.6L950.1 1194.1L950.6 1194.2L951.1 1195.4L951.6 1195.7L952.1 1197.2L952.6 1197.7L953.1 1198.6L953.6 1197.9L954.1 1197.8L954.6 1197.6L955 1198.3L955.5 1198.5L956 1198.4L956.5 1199.1L957 1199.4L957.5 1200.2L958 1199.4L958.5 1199.2L959 1199L959.5 1198.9L959.9 1198.7L960.4 1198.7L960.9 1199L961.4 1199.1L961.9 1199.3L962.4 1200L962.9 1200.5L963.4 1200.5L963.9 1201.3L964.4 1202.1L964.8 1204L965.3 1206.1L965.8 1208.6L966.3 1208.9L966.8 1208L967.3 1206.9L967.8 1206L968.3 1205.9L968.8 1206.2L969.3 1207L969.8 1207.7L970.2 1207.9L970.7 1208L971.2 1208.7L971.7 1209.4L972.2 1210L972.7 1210.7L973.2 1211.4L973.7 1212.5L974.2 1213.1L974.7 1213.9L975.1 1213.8L975.6 1214.2L976.1 1214.5L976.6 1215.8L977.1 1215.8L977.6 1216.5L978.1 1216.9L978.6 1217.3L979.1 1217.7L979.6 1217.8L980.1 1217.9L980.5 1218.1L981 1218.6L981.5 1218.7L982 1218.4L982.5 1218.3L983 1219.1L983.5 1219.5L984 1219.3L984.5 1219L985 1219.3L985.4 1219.7L985.9 1219.9L986.4 1219.3L986.9 1219.4L987.4 1219.7L987.9 1219.9L988.4 1219.8L988.9 1219.5L989.4 1220L989.9 1220.8L990.3 1222.1L990.8 1223.3L991.3 1225.2L991.8 1227.5L992.3 1228.1L992.8 1227.2L993.3 1226.2L993.8 1226.3L994.3 1226.4L994.8 1226.9L995.3 1226.8L995.7 1226.8L996.2 1227.1L996.7 1227.6L997.2 1228.5L997.7 1229.1L998.2 1230L998.7 1231.1L999.2 1231.7L999.7 1231.8L1000.2 1232.3L1000.6 1232.9L1001.1 1233.5L1001.6 1233.8L1002.1 1234.1L1002.6 1234.5L1003.1 1234.9L1003.6 1235.9L1004.1 1237L1004.6 1237.4L1005.1 1237L1005.6 1237.4L1006 1237.7L1006.5 1238.3L1007 1237.7L1007.5 1237.8L1008 1237.6L1008.5 1238L1009 1238.6L1009.5 1239.2L1010 1239L1010.5 1239L1010.9 1238.8L1011.4 1239.2L1011.9 1239L1012.4 1238.9L1012.9 1238.6L1013.4 1239L1013.9 1239.1L1014.4 1239.5L1014.9 1239.7L1015.4 1239.8L1015.8 1240.4L1016.3 1241L1016.8 1242.7L1017.3 1244.2L1017.8 1247.2L1018.3 1247.8L1018.8 1247.3L1019.3 1246.1L1019.8 1245.7L1020.3 1246.3L1020.8 1246.4L1021.2 1247.1L1021.7 1247.4L1022.2 1248.3L1022.7 1248.8L1023.2 1249.4L1023.7 1249.3L1024.2 1249.2L1024.7 1250L1025.2 1250.5L1025.7 1251.5L1026.1 1251.9L1026.6 1252.6L1027.1 1252.6L1027.6 1252.9L1028.1 1253.2L1028.6 1254L1029.1 1254.8L1029.6 1255.6L1030.1 1256.1L1030.6 1256.2L1031.1 1256.7L1031.5 1256.4L1032 1256.9L1032.5 1256.9L1033 1258L1033.5 1257.5L1034 1258L1034.5 1258.1L1035 1258.8L1035.5 1258.5L1036 1258.3L1036.4 1258.3L1036.9 1258.5L1037.4 1258.7L1037.9 1258.4L1038.4 1259L1038.9 1259.2L1039.4 1259.5L1039.9 1259L1040.4 1259.1L1040.9 1259.1L1041.4 1259.3L1041.8 1259.8L1042.3 1261.1L1042.8 1262.6L1043.3 1263.9L1043.8 1266.3L1044.3 1267.7L1044.8 1267L1045.3 1266L1045.8 1265.6L1046.3 1266.2L1046.7 1266.6L1047.2 1266.7L1047.7 1266.9L1048.2 1266.9L1048.7 1266.9L1049.2 1267.5L1049.7 1268.4L1050.2 1269.1L1050.7 1269.8L1051.2 1270.2L1051.6 1270.7L1052.1 1271.2L1052.6 1271.9L1053.1 1272.8L1053.6 1273.2L1054.1 1273.8L1054.6 1274.3L1055.1 1274.7L1055.6 1275.5L1056.1 1275.5L1056.6 1276.2L1057 1276.4L1057.5 1276.8L1058 1276.7L1058.5 1277.3L1059 1277.6L1059.5 1277.9L1060 1277.4L1060.5 1277.5L1061 1277.6L1061.5 1278.1L1061.9 1278.6L1062.4 1278.9L1062.9 1278.8L1063.4 1278.4L1063.9 1278L1064.4 1278.5L1064.9 1278.9L1065.4 1279.6L1065.9 1279.3L1066.4 1279.2L1066.9 1278.7L1067.3 1279L1067.8 1279.4L1068.3 1281.6L1068.8 1282.7L1069.3 1283.8L1069.8 1285L1070.3 1286.5L1070.8 1286.9L1071.3 1286.3L1071.8 1285.8L1072.2 1285.9L1072.7 1286.2L1073.2 1286.8L1073.7 1286.9L1074.2 1286.9L1074.7 1287.5L1075.2 1287.8L1075.7 1288.5L1076.2 1288.7L1076.7 1288.8L1077.1 1289.6L1077.6 1290.2L1078.1 1291.5L1078.6 1291.7L1079.1 1292.6L1079.6 1292.2L1080.1 1293.7L1080.6 1293.9L1081.1 1295.1L1081.6 1295L1082.1 1295.4L1082.5 1296.3L1083 1296.7L1083.5 1296.7L1084 1296.2L1084.5 1296.9L1085 1297.5L1085.5 1297.9L1086 1297.2L1086.5 1297L1087 1297.1L1087.4 1298L1087.9 1298.2L1088.4 1297.9L1088.9 1298.3L1089.4 1298.6L1089.9 1298.6L1090.4 1298.3L1090.9 1298.3L1091.4 1298.9L1091.9 1298.5L1092.4 1298.9L1092.8 1299.3L1093.3 1299.4L1093.8 1299.2L1094.3 1299.8L1094.8 1301L1095.3 1302.4L1095.8 1304L1096.3 1306.4L1096.8 1307.5L1097.3 1307.2L1097.7 1306.3L1098.2 1305.6L1098.7 1305.5L1099.2 1305.4L1099.7 1306.1L1100.2 1306.7L1100.7 1307.1L1101.2 1307.8L1101.7 1308.1L1102.2 1309.5L1102.6 1309.2L1103.1 1310.2L1103.6 1310.2L1104.1 1310.9L1104.6 1311.6L1105.1 1312.1L1105.6 1312.7L1106.1 1312.8L1106.6 1313.2L1107.1 1313.5L1107.6 1314.4L1108 1314.9L1108.5 1315.5L1109 1315.3L1109.5 1315.6L1110 1315.4L1110.5 1316.1L1111 1316.2L1111.5 1316.9L1112 1316.5L1112.5 1316.6L1112.9 1317.1L1113.4 1317.2L1113.9 1317.7L1114.4 1317L1114.9 1318L1115.4 1318.1L1115.9 1318.4L1116.4 1318L1116.9 1317.7L1117.4 1318L1117.9 1318.8L1118.3 1318.6L1118.8 1318.7L1119.3 1318.5L1119.8 1319.1L1120.3 1319.8L1120.8 1320.9L1121.3 1322.2L1121.8 1323.8L1122.3 1325.9L1122.8 1326.9L1123.2 1325.8L1123.7 1325L1124.2 1324.2L1124.7 1324.6L1125.2 1324.6L1125.7 1325.6L1126.2 1326.5L1126.7 1327.2L1127.2 1327.4L1127.7 1327.6L1128.1 1327.6L1128.6 1328.8L1129.1 1329.5L1129.6 1330.5L1130.1 1330.4L1130.6 1331.2L1131.1 1331.5L1131.6 1332.1L1132.1 1332.8L1132.6 1332.9L1133.1 1333.1L1133.5 1333.8L1134 1334.1L1134.5 1334.7L1135 1335.2L1135.5 1336.1" stroke="#000" stroke-width="5.4" fill="none" stroke-linejoin="round" stroke-linecap="butt" clip-path="url(#clipC)"/>
<path d="M467.1 850.3L467.6 849.8L468.1 849.3L468.6 848.8L469.1 848.3L469.6 847.8L470 847.3L470.5 846.8L471 846.3L471.5 845.7L472 845.2L472.5 844.7L473 844.2L473.5 843.7L474 843.2L474.5 842.7L474.9 843.8L475.4 844.8L475.9 844.4L476.4 843.9L476.9 844.4L477.4 845.6L477.9 846.4L478.4 846.5L478.9 846.7L479.4 847.8L479.9 848.6L480.3 848.8L480.8 849.6L481.3 849.9L481.8 850.9L482.3 851.3L482.8 851.4L483.3 851.7L483.8 851.1L484.3 851.3L484.8 851.5L485.2 851.8L485.7 852L486.2 851.7L486.7 851.8L487.2 851.6L487.7 851.8L488.2 852.4L488.7 852.8L489.2 853.5L489.7 854.3L490.1 852.9L490.6 852.3L491.1 852.2L491.6 852.4L492.1 853.3L492.6 853.8L493.1 853.8L493.6 854.1L494.1 855.2L494.6 856.6L495.1 858.7L495.5 860.9L496 862.8L496.5 862.2L497 860L497.5 859.3L498 859.8L498.5 859.8L499 859.8L499.5 860.8L500 861.6L500.4 862.1L500.9 862.1L501.4 862.8L501.9 862.2L502.4 862.1L502.9 862.7L503.4 864.4L503.9 864.9L504.4 864.6L504.9 865.2L505.4 866.2L505.8 867.2L506.3 867.7L506.8 866.7L507.3 867.4L507.8 868.5L508.3 868.7L508.8 868.8L509.3 868.9L509.8 869.4L510.3 870.1L510.7 870.2L511.2 870.1L511.7 870.2L512.2 870.5L512.7 871.1L513.2 870.1L513.7 869.9L514.2 870.7L514.7 870.4L515.2 870.5L515.6 871.6L516.1 871.5L516.6 871L517.1 871.6L517.6 872.4L518.1 872.7L518.6 872.4L519.1 871.2L519.6 870.9L520.1 873.1L520.6 875.8L521 877.1L521.5 878.8L522 880.6L522.5 880.5L523 879.1L523.5 878.1L524 878.2L524.5 879.1L525 878.3L525.5 877.9L525.9 878.8L526.4 879.1L526.9 879.1L527.4 880L527.9 880.8L528.4 882.1L528.9 882.4L529.4 882.3L529.9 882.5L530.4 883.1L530.9 883.7L531.3 884L531.8 884.1L532.3 884.5L532.8 885.4L533.3 886.5L533.8 887.7L534.3 887.7L534.8 887.7L535.3 888.1L535.8 888.1L536.2 888.1L536.7 888L537.2 887.8L537.7 888L538.2 888L538.7 888.5L539.2 889.4L539.7 889.6L540.2 888.9L540.7 889.1L541.1 889.9L541.6 890.6L542.1 889.8L542.6 889.9L543.1 890L543.6 888.9L544.1 889.9L544.6 890.7L545.1 890.6L545.6 890.4L546.1 891.2L546.5 892.1L547 893.8L547.5 895.7L548 898.2L548.5 899L549 897.3L549.5 895.3L550 895.9L550.5 896L551 896.4L551.4 897.3L551.9 897.9L552.4 898L552.9 898.7L553.4 899L553.9 899L554.4 899.5L554.9 899.6L555.4 900.1L555.9 900.5L556.4 900.7L556.8 901.2L557.3 901.8L557.8 902.6L558.3 904.2L558.8 905.1L559.3 905L559.8 904.4L560.3 904.6L560.8 905.5L561.3 906.3L561.7 905.9L562.2 905.7L562.7 906.9L563.2 907.3L563.7 906.9L564.2 906L564.7 906.1L565.2 906.3L565.7 907.3L566.2 907.6L566.6 906.8L567.1 906.8L567.6 907L568.1 907.1L568.6 907.5L569.1 908.4L569.6 909.1L570.1 908.9L570.6 908.6L571.1 909.5L571.6 908.8L572 909.6L572.5 911.2L573 912.9L573.5 914.5L574 917.5L574.5 918.6L575 917.4L575.5 916L576 915.5L576.5 915.1L576.9 915.4L577.4 915.7L577.9 917.1L578.4 917.8L578.9 917.7L579.4 917.3L579.9 918L580.4 918.2L580.9 919.3L581.4 920.4L581.9 920.6L582.3 921.7L582.8 922.2L583.3 921.6L583.8 921.9L584.3 923.1L584.8 923.9L585.3 924.1L585.8 924.3L586.3 926.2L586.8 926.4L587.2 926.5L587.7 926.3L588.2 926.6L588.7 926.7L589.2 926.3L589.7 926.9L590.2 926.6L590.7 926.8L591.2 927.4L591.7 927.8L592.2 927.8L592.6 927.8L593.1 927.9L593.6 927.5L594.1 928.2L594.6 929.2L595.1 929.3L595.6 929.1L596.1 928.8L596.6 929L597.1 929.4L597.5 928.9L598 929.1L598.5 930.1L599 931.7L599.5 934.2L600 937L600.5 937.9L601 937L601.5 935.8L602 935.3L602.4 936.1L602.9 935.9L603.4 935.7L603.9 936.7L604.4 937.3L604.9 937.8L605.4 937.9L605.9 938.7L606.4 939.3L606.9 939.7L607.4 939.7L607.8 941.3L608.3 941.7L608.8 941.6L609.3 941.9L609.8 942.4L610.3 943.5L610.8 944.1L611.3 945.1L611.8 945.4L612.3 946.5L612.7 946.6L613.2 946.3L613.7 946.4L614.2 946.5L614.7 946.5L615.2 946.8L615.7 947.1L616.2 946.9L616.7 946.9L617.2 947.5L617.7 948.3L618.1 949L618.6 949L619.1 949.2L619.6 949.3L620.1 949.2L620.6 949.6L621.1 949L621.6 949.2L622.1 949.1L622.6 948.8L623 950L623.5 949.2L624 949.1L624.5 951.2L625 953.2L625.5 953.9L626 956.6L626.5 959.6L627 958.9L627.5 956.9L627.9 955.4L628.4 955.8L628.9 956.4L629.4 956.7L629.9 956.6L630.4 958L630.9 958.4L631.4 958.5L631.9 958.7L632.4 959.2L632.9 960L633.3 960.5L633.8 961.3L634.3 962L634.8 962L635.3 962.2L635.8 963.4L636.3 964.5L636.8 965.1L637.3 965.3L637.8 966L638.2 966.8L638.7 966.7L639.2 967.6L639.7 967.8L640.2 967.3L640.7 967.3L641.2 967.4L641.7 967.3L642.2 967.7L642.7 967.7L643.2 968.1L643.6 968.7L644.1 968.2L644.6 968L645.1 968.3L645.6 968.5L646.1 968.7L646.6 969.4L647.1 970L647.6 969.7L648.1 969.8L648.5 970.9L649 970.1L649.5 970.2L650 970L650.5 971.1L651 972.9L651.5 974.4L652 976L652.5 978.6L653 979.6L653.4 977.7L653.9 976.7L654.4 976.7L654.9 977.2L655.4 976.9L655.9 977.1L656.4 978.4L656.9 979.2L657.4 979.3L657.9 979L658.4 979.9L658.8 980.4L659.3 980.8L659.8 982.3L660.3 983.1L660.8 982.9L661.3 984L661.8 984.9L662.3 983.9L662.8 984.9L663.3 985.8L663.7 986.3L664.2 986.5L664.7 987L665.2 987.4L665.7 987.6L666.2 988.4L666.7 988.8L667.2 988.3L667.7 988.3L668.2 988.5L668.7 988.9L669.1 988.9L669.6 988.9L670.1 989L670.6 988.9L671.1 989L671.6 989.5L672.1 990.4L672.6 990.9L673.1 990.3L673.6 990.7L674 991.4L674.5 991.2L675 990.7L675.5 990.6L676 990.2L676.5 991.3L677 993.3L677.5 994.8L678 996.8L678.5 999.5L678.9 1000.2L679.4 999L679.9 997.2L680.4 997.3L680.9 997.9L681.4 996.7L681.9 997L682.4 998L682.9 999.4L683.4 1000.3L683.9 1000L684.3 1000.8L684.8 1002L685.3 1001.7L685.8 1001.4L686.3 1002.2L686.8 1003.7L687.3 1003.1L687.8 1003.3L688.3 1005L688.8 1005.3L689.2 1005.3L689.7 1006L690.2 1006.5L690.7 1007.1L691.2 1008L691.7 1008.2L692.2 1008.1L692.7 1008.8L693.2 1008.6L693.7 1008.9L694.2 1009.7L694.6 1009.1L695.1 1009L695.6 1009.4L696.1 1009.3L696.6 1009.5L697.1 1010.4L697.6 1010.2L698.1 1010.2L698.6 1011.3L699.1 1010.8L699.5 1011L700 1011.1L700.5 1011.6L701 1011.6L701.5 1011.8L702 1011.5L702.5 1012L703 1013.2L703.5 1014.2L704 1015.6L704.5 1018.2L704.9 1019.9L705.4 1019.3L705.9 1018.1L706.4 1017.3L706.9 1017L707.4 1017.1L707.9 1017.6L708.4 1018.2L708.9 1019.4L709.4 1020.6L709.8 1020.4L710.3 1019.9L710.8 1020.1L711.3 1021.3L711.8 1022.2L712.3 1021.9L712.8 1021.8L713.3 1022.3L713.8 1023.9L714.3 1024.7L714.7 1024.8L715.2 1025.8L715.7 1025.9L716.2 1025.4L716.7 1026.9L717.2 1027.8L717.7 1028.1L718.2 1027.8L718.7 1027.8L719.2 1028.6L719.7 1029.2L720.1 1028.2L720.6 1027.4L721.1 1028.3L721.6 1028.4L722.1 1028.9L722.6 1029.3L723.1 1029.7L723.6 1029.7L724.1 1029.5L724.6 1029.5L725 1029.9L725.5 1030.5L726 1030.4L726.5 1029.8L727 1029.6L727.5 1030L728 1029.7L728.5 1030.2L729 1032.6L729.5 1033.9L730 1035L730.4 1035.9L730.9 1038.3L731.4 1038.5L731.9 1037L732.4 1035.6L732.9 1035.7L733.4 1035.6L733.9 1035.3L734.4 1036.7L734.9 1037.2L735.3 1037.7L735.8 1038.4L736.3 1038.8L736.8 1039L737.3 1039.9L737.8 1040.9L738.3 1041.4L738.8 1041.8L739.3 1042.1L739.8 1042.4L740.2 1043.4L740.7 1043.5L741.2 1043.4L741.7 1043.4L742.2 1044.4L742.7 1044.8L743.2 1045.9L743.7 1047.4L744.2 1047.1L744.7 1046.7L745.2 1046L745.6 1046.4L746.1 1046.4L746.6 1046.5L747.1 1047.6L747.6 1047.1L748.1 1047.7L748.6 1048.1L749.1 1048L749.6 1047.7L750.1 1047.4L750.5 1048L751 1048.2L751.5 1048.9L752 1048.5L752.5 1048.4L753 1049.3L753.5 1049.5L754 1049.4L754.5 1050L755 1050.1L755.5 1051.8L755.9 1054.2L756.4 1055.1L756.9 1056.8L757.4 1057.7L757.9 1056.8L758.4 1055.6L758.9 1055.1L759.4 1054.1L759.9 1054.5L760.4 1055.7L760.8 1055.8L761.3 1056.4L761.8 1057.4L762.3 1057.6L762.8 1058.7L763.3 1059.3L763.8 1059.1L764.3 1059.5L764.8 1060L765.3 1061L765.7 1061.8L766.2 1062.2L766.7 1062.9L767.2 1062.9L767.7 1063.1L768.2 1063.9L768.7 1064.3L769.2 1065L769.7 1066.4L770.2 1066.5L770.7 1066.1L771.1 1066L771.6 1065.3L772.1 1064.7L772.6 1065.8L773.1 1066.3L773.6 1066.8L774.1 1067.2L774.6 1066.4L775.1 1066.5L775.6 1066.8L776 1066.7L776.5 1067L777 1067.9L777.5 1066.9L778 1065.9L778.5 1066.4L779 1068L779.5 1068.6L780 1067.6L780.5 1067.8L781 1069.2L781.4 1070.1L781.9 1071.8L782.4 1073.6L782.9 1075.7L783.4 1076.2L783.9 1075.4L784.4 1075.6L784.9 1075.1L785.4 1074.9L785.9 1074.4L786.3 1074.8L786.8 1075.7L787.3 1075.8L787.8 1076.2L788.3 1076.3L788.8 1076.3L789.3 1077.5L789.8 1078.2L790.3 1078.3L790.8 1078.5L791.2 1079.6L791.7 1079.7L792.2 1080.5L792.7 1080.8L793.2 1080.8L793.7 1081.1L794.2 1081.7L794.7 1081.9L795.2 1083.1L795.7 1084.3L796.2 1084.5L796.6 1084.1L797.1 1084.1L797.6 1084.1L798.1 1084.9L798.6 1086.2L799.1 1086.9L799.6 1086.3L800.1 1086L800.6 1085.6L801.1 1085.4L801.5 1085.8L802 1086.5L802.5 1085.6L803 1085.5L803.5 1086.2L804 1086.1L804.5 1086.1L805 1086.8L805.5 1086.7L806 1086.3L806.5 1086.3L806.9 1087.4L807.4 1088.4L807.9 1089.3L808.4 1090.1L808.9 1093.2L809.4 1095L809.9 1094.4L810.4 1092.4L810.9 1091.1L811.4 1090.9L811.8 1092L812.3 1093.6L812.8 1093.9L813.3 1094.1L813.8 1094.4L814.3 1094.3L814.8 1094.8L815.3 1095.7L815.8 1096.3L816.3 1096.8L816.8 1096.7L817.2 1097.8L817.7 1098.5L818.2 1098.9L818.7 1100L819.2 1100.5L819.7 1100.3L820.2 1101.1L820.7 1101.1L821.2 1101.3L821.7 1102.4L822.1 1103.7L822.6 1103.4L823.1 1102.8L823.6 1103.1L824.1 1103.2L824.6 1103.4L825.1 1103.4L825.6 1103.3L826.1 1103.7L826.6 1105.2L827 1105.1L827.5 1104.3L828 1104L828.5 1104.2L829 1104.2L829.5 1103.9L830 1104.4L830.5 1105.1L831 1104.2L831.5 1104L832 1104.5L832.4 1105.5L832.9 1106.2L833.4 1106.2L833.9 1107.6L834.4 1110L834.9 1112.8L835.4 1115L835.9 1113.8L836.4 1112.4L836.9 1110.7L837.3 1110.8L837.8 1111.7L838.3 1111.4L838.8 1111.9L839.3 1112.4L839.8 1112.6L840.3 1113.3L840.8 1114.2L841.3 1115.3L841.8 1115.3L842.3 1116.3L842.7 1116.5L843.2 1116.9L843.7 1116.7L844.2 1116.3L844.7 1117.4L845.2 1119.2L845.7 1119.7L846.2 1119.7L846.7 1119.6L847.2 1120.9L847.6 1122.1L848.1 1121.3L848.6 1120.9L849.1 1122.2L849.6 1122.7L850.1 1121.9L850.6 1121.8L851.1 1122.2L851.6 1121.8L852.1 1122.3L852.5 1122.5L853 1123.5L853.5 1123.8L854 1122.7L854.5 1123.2L855 1124.2L855.5 1123.5L856 1123.7L856.5 1123.5L857 1123.4L857.5 1124.1L857.9 1124.9L858.4 1125.2L858.9 1124.3L859.4 1124.9L859.9 1126.7L860.4 1128.1L860.9 1130.1L861.4 1132.8L861.9 1133.2L862.4 1132.2L862.8 1130.9L863.3 1130.5L863.8 1130.8L864.3 1131.1L864.8 1131.1L865.3 1130.4L865.8 1131.4L866.3 1132.3L866.8 1133L867.3 1133.8L867.8 1135.1L868.2 1134.9L868.7 1135.3L869.2 1136L869.7 1136.2L870.2 1136.4L870.7 1137.3L871.2 1138.5L871.7 1139L872.2 1140L872.7 1139.4L873.1 1139.9L873.6 1141L874.1 1141.8L874.6 1141.8L875.1 1141.1L875.6 1141.2L876.1 1141.4L876.6 1141.7L877.1 1142.5L877.6 1142L878 1141.5L878.5 1142.8L879 1143.2L879.5 1142.5L880 1142.7L880.5 1143.1L881 1142.4L881.5 1142.1L882 1143.8L882.5 1144.1L883 1143L883.4 1143.4L883.9 1144.7L884.4 1144.1L884.9 1143.2L885.4 1144.3L885.9 1145.6L886.4 1147.6L886.9 1150.5L887.4 1152.5L887.9 1152.3L888.3 1151.3L888.8 1150.1L889.3 1149.8L889.8 1150.9L890.3 1150.9L890.8 1151.2L891.3 1151.7L891.8 1152L892.3 1151.9L892.8 1152.3L893.3 1153.1L893.7 1153.3L894.2 1153.3L894.7 1154.8L895.2 1155.3L895.7 1155.6L896.2 1156.4L896.7 1158.1L897.2 1157.9L897.7 1157.9L898.2 1159.1L898.6 1159.6L899.1 1158.6L899.6 1159.7L900.1 1160.8L900.6 1161.2L901.1 1161.8L901.6 1161.9L902.1 1161.9L902.6 1161.1L903.1 1161.2L903.5 1161.4L904 1162.2L904.5 1162.2L905 1161.6L905.5 1161.9L906 1162.7L906.5 1163L907 1162.5L907.5 1163L908 1163.8L908.5 1163.3L908.9 1163.7L909.4 1164L909.9 1163.2L910.4 1163.2L910.9 1162.9L911.4 1163.9L911.9 1165.9L912.4 1167.6L912.9 1169.2L913.4 1171L913.8 1172.8L914.3 1172.3L914.8 1170.1L915.3 1170.2L915.8 1169.7L916.3 1170L916.8 1170L917.3 1171.6L917.8 1171.7L918.3 1172.3L918.8 1173L919.2 1173.1L919.7 1173.5L920.2 1173.3L920.7 1174.3L921.2 1175.5L921.7 1175.7L922.2 1175.8L922.7 1176.8L923.2 1177.6L923.7 1178.3L924.1 1178.6L924.6 1178.8L925.1 1179.7L925.6 1180.4L926.1 1180.8L926.6 1181.7L927.1 1180.7L927.6 1181.3L928.1 1182L928.6 1181.8L929.1 1181L929.5 1181.4L930 1181.9L930.5 1182.1L931 1182.7L931.5 1182.7L932 1182.8L932.5 1183.6L933 1183.6L933.5 1182.3L934 1182.1L934.4 1182.8L934.9 1183.1L935.4 1183.1L935.9 1183.7L936.4 1184L936.9 1183.5L937.4 1183.7L937.9 1184.7L938.4 1186.1L938.9 1187.3L939.3 1189.6L939.8 1192L940.3 1191.1L940.8 1189.7L941.3 1189.8L941.8 1191.2L942.3 1190.8L942.8 1189.4L943.3 1189.7L943.8 1191.2L944.3 1192.2L944.7 1192.5L945.2 1192.9L945.7 1193.2L946.2 1193.1L946.7 1194.1L947.2 1195L947.7 1195.2L948.2 1195.9L948.7 1196.7L949.2 1197.6L949.6 1197.7L950.1 1197.8L950.6 1197.5L951.1 1198L951.6 1199.1L952.1 1200.6L952.6 1200.8L953.1 1201.4L953.6 1201.3L954.1 1201.3L954.6 1200.9L955 1201.3L955.5 1201.5L956 1202.2L956.5 1202.3L957 1201.6L957.5 1202.2L958 1202.9L958.5 1203L959 1203.5L959.5 1203.1L959.9 1202.6L960.4 1202.8L960.9 1202.6L961.4 1202.6L961.9 1202.6L962.4 1202.5L962.9 1203.6L963.4 1203.6L963.9 1203.5L964.4 1205.4L964.8 1206.7L965.3 1208.7L965.8 1211.7L966.3 1212.1L966.8 1211.4L967.3 1210.7L967.8 1210.3L968.3 1209.5L968.8 1209.4L969.3 1210.4L969.8 1211.1L970.2 1210.6L970.7 1211.5L971.2 1211.9L971.7 1212.5L972.2 1213.2L972.7 1214.2L973.2 1214.9L973.7 1215.3L974.2 1215.6L974.7 1216.3L975.1 1216.9L975.6 1217.6L976.1 1217.8L976.6 1218.1L977.1 1218.5L977.6 1219.2L978.1 1219.4L978.6 1219.2L979.1 1219.6L979.6 1221.1L980.1 1221.5L980.5 1221.4L981 1221.9L981.5 1221.7L982 1221.7L982.5 1222L983 1222.2L983.5 1221.6L984 1221.3L984.5 1221.9L985 1222.5L985.4 1222.1L985.9 1222.1L986.4 1222.4L986.9 1222.9L987.4 1223.4L987.9 1222.6L988.4 1223L988.9 1223L989.4 1223.5L989.9 1224.5L990.3 1225.5L990.8 1227.5L991.3 1230.3L991.8 1232.6L992.3 1231.6L992.8 1230.2L993.3 1229.8L993.8 1229.7L994.3 1229.9L994.8 1230.3L995.3 1231L995.7 1230.6L996.2 1230.4L996.7 1231.4L997.2 1232.7L997.7 1233.7L998.2 1234.5L998.7 1234.4L999.2 1235.6L999.7 1235.4L1000.2 1235.8L1000.6 1236L1001.1 1236.3L1001.6 1236.5L1002.1 1237.5L1002.6 1238.4L1003.1 1239.3L1003.6 1240.2L1004.1 1240.3L1004.6 1241L1005.1 1241.2L1005.6 1241.7L1006 1241.4L1006.5 1242L1007 1242.1L1007.5 1242L1008 1242.4L1008.5 1242.2L1009 1242.2L1009.5 1242.5L1010 1242.3L1010.5 1241.7L1010.9 1241.8L1011.4 1242.6L1011.9 1243L1012.4 1242.7L1012.9 1242.9L1013.4 1243.6L1013.9 1243.4L1014.4 1243.4L1014.9 1244.3L1015.4 1243.7L1015.8 1243.8L1016.3 1245.1L1016.8 1246.6L1017.3 1248.2L1017.8 1251.3L1018.3 1252.6L1018.8 1252.1L1019.3 1250.3L1019.8 1249.3L1020.3 1249.3L1020.8 1249.9L1021.2 1250.7L1021.7 1251.7L1022.2 1252.3L1022.7 1252.4L1023.2 1253.3L1023.7 1254L1024.2 1254L1024.7 1254L1025.2 1254.4L1025.7 1254.4L1026.1 1255.8L1026.6 1257L1027.1 1257.8L1027.6 1257.5L1028.1 1257.8L1028.6 1258.6L1029.1 1259.2L1029.6 1259.8L1030.1 1260.1L1030.6 1261.5L1031.1 1261.9L1031.5 1260.3L1032 1261.2L1032.5 1262L1033 1261.8L1033.5 1261.4L1034 1261.1L1034.5 1261.2L1035 1262.7L1035.5 1263.1L1036 1263.4L1036.4 1262.5L1036.9 1262.3L1037.4 1263.3L1037.9 1263L1038.4 1263.5L1038.9 1263.3L1039.4 1263.4L1039.9 1264.1L1040.4 1263.6L1040.9 1263.7L1041.4 1263.9L1041.8 1264.5L1042.3 1265.4L1042.8 1266.4L1043.3 1269L1043.8 1271.2L1044.3 1272.4L1044.8 1272.6L1045.3 1271.8L1045.8 1270L1046.3 1270L1046.7 1271.3L1047.2 1271.3L1047.7 1271.5L1048.2 1271.9L1048.7 1272.5L1049.2 1273.1L1049.7 1273.7L1050.2 1273.7L1050.7 1273.6L1051.2 1273.7L1051.6 1275L1052.1 1276.3L1052.6 1276.6L1053.1 1276.3L1053.6 1276.4L1054.1 1277.7L1054.6 1278.7L1055.1 1278.6L1055.6 1279.6L1056.1 1280.2L1056.6 1280.7L1057 1281.3L1057.5 1281.3L1058 1281L1058.5 1281.2L1059 1281.8L1059.5 1281.5L1060 1281.5L1060.5 1282L1061 1282.3L1061.5 1282.7L1061.9 1283.5L1062.4 1283L1062.9 1282.5L1063.4 1283L1063.9 1283.3L1064.4 1283.3L1064.9 1283.4L1065.4 1283.9L1065.9 1283.8L1066.4 1283.7L1066.9 1283.2L1067.3 1283.5L1067.8 1283.6L1068.3 1284.4L1068.8 1285.7L1069.3 1287.4L1069.8 1290.7L1070.3 1293.2L1070.8 1292.4L1071.3 1291.7L1071.8 1291.4L1072.2 1290.6L1072.7 1290.9L1073.2 1290.7L1073.7 1290.6L1074.2 1290.9L1074.7 1292.1L1075.2 1292.6L1075.7 1293.1L1076.2 1293L1076.7 1294.2L1077.1 1295.5L1077.6 1295.2L1078.1 1295.2L1078.6 1295.9L1079.1 1296.7L1079.6 1297L1080.1 1297.3L1080.6 1297.3L1081.1 1298.7L1081.6 1299L1082.1 1299.3L1082.5 1300.2L1083 1301.3L1083.5 1301L1084 1301.3L1084.5 1301.5L1085 1300.8L1085.5 1300.9L1086 1301.6L1086.5 1302L1087 1302.4L1087.4 1302.7L1087.9 1302.2L1088.4 1302.9L1088.9 1303.6L1089.4 1303.5L1089.9 1302.5L1090.4 1301.9L1090.9 1302L1091.4 1302.9L1091.9 1303.4L1092.4 1303.6L1092.8 1303.4L1093.3 1303.9L1093.8 1304.3L1094.3 1305.5L1094.8 1306.8L1095.3 1307.1L1095.8 1309.7L1096.3 1312.3L1096.8 1312L1097.3 1310.9L1097.7 1310.7L1098.2 1310.4L1098.7 1310L1099.2 1310.3L1099.7 1310.6L1100.2 1310.6L1100.7 1311.1L1101.2 1311.8L1101.7 1312L1102.2 1313L1102.6 1314L1103.1 1314.8L1103.6 1314.8L1104.1 1315.2L1104.6 1315.1L1105.1 1314.8L1105.6 1316L1106.1 1316.9L1106.6 1317.6L1107.1 1318L1107.6 1318.2L1108 1318L1108.5 1319.3L1109 1319.9L1109.5 1320.1L1110 1320.4L1110.5 1320.5L1111 1320.3L1111.5 1320.4L1112 1321.2L1112.5 1321.6L1112.9 1321.4L1113.4 1321.3L1113.9 1321.6L1114.4 1321.9L1114.9 1322.6L1115.4 1323.2L1115.9 1323.1L1116.4 1322.8L1116.9 1322.5L1117.4 1323L1117.9 1322.7L1118.3 1322.3L1118.8 1323.2L1119.3 1323.4L1119.8 1323.8L1120.3 1324.3L1120.8 1325.2L1121.3 1326.4L1121.8 1328.8L1122.3 1332.3L1122.8 1332.9L1123.2 1331.4L1123.7 1330.4L1124.2 1329.9L1124.7 1329.8L1125.2 1329.6L1125.7 1329.8L1126.2 1329.6L1126.7 1330.9L1127.2 1332L1127.7 1332.2L1128.1 1333L1128.6 1333.4L1129.1 1334.1L1129.6 1334.4L1130.1 1334.4L1130.6 1335.4L1131.1 1335.1L1131.6 1335.4L1132.1 1336.5L1132.6 1336.4L1133.1 1337L1133.5 1337.6L1134 1337.6L1134.5 1338.9L1135 1340.3L1135.5 1341.2" stroke="#0000ff" stroke-width="5.4" fill="none" stroke-linejoin="round" stroke-linecap="butt" clip-path="url(#clipC)"/>
<path d="M467.1 896.3L467.1 842.2L467.6 842.4L468.1 842.2L468.6 842.4L469.1 842.5L469.6 842L470 841.9L470.5 842L471 842.6L471.5 842.4L472 842.4L472.5 841.3L473 840.7L473.5 839.9L474 839.1L474.5 838.1L474.9 836.9L475.4 837.4L475.9 837.6L476.4 838.1L476.9 838.5L477.4 839.1L477.9 839.6L478.4 840.3L478.9 841.1L479.4 841.8L479.9 842.6L480.3 842.7L480.8 842.9L481.3 843.1L481.8 843.6L482.3 844.2L482.8 844.6L483.3 844.9L483.8 845L484.3 845.2L484.8 845.2L485.2 845.5L485.7 845.6L486.2 845.8L486.7 845.8L487.2 845.9L487.7 846.2L488.2 846.2L488.7 846.5L489.2 846.4L489.7 846.8L490.1 846.8L490.6 846.8L491.1 846.7L491.6 846.8L492.1 847.1L492.6 847.3L493.1 847.4L493.6 847.5L494.1 848.8L494.6 850.1L495.1 851.6L495.5 852.6L496 853L496.5 852.8L497 852.8L497.5 852.7L498 852.8L498.5 853.4L499 853.5L499.5 854.1L500 854.3L500.4 855.5L500.9 856L501.4 856.3L501.9 855.8L502.4 856.3L502.9 856.8L503.4 857.9L503.9 858.4L504.4 858.6L504.9 858.8L505.4 859.3L505.8 860.2L506.3 860.8L506.8 860.8L507.3 861.2L507.8 861.7L508.3 862.4L508.8 862.7L509.3 863L509.8 863.2L510.3 863.3L510.7 863.2L511.2 863.4L511.7 863.7L512.2 863.8L512.7 864.2L513.2 864.1L513.7 864.3L514.2 864.2L514.7 864.7L515.2 865L515.6 865L516.1 865.1L516.6 865L517.1 865.5L517.6 865.6L518.1 865.5L518.6 865.3L519.1 864.9L519.6 865.4L520.1 866.7L520.6 868.2L521 869.2L521.5 870.1L522 870.8L522.5 871L523 871.2L523.5 871.6L524 871.9L524.5 872.1L525 871.7L525.5 871.6L525.9 871.9L526.4 872.8L526.9 873.5L527.4 874.2L527.9 874.4L528.4 875L528.9 875.5L529.4 875.8L529.9 876L530.4 876.5L530.9 877.1L531.3 877.7L531.8 878.1L532.3 878.5L532.8 879.2L533.3 879.7L533.8 880.4L534.3 880.7L534.8 881.2L535.3 881.3L535.8 881.5L536.2 881.5L536.7 881.2L537.2 881.4L537.7 881.6L538.2 881.8L538.7 881.6L539.2 881.8L539.7 882.4L540.2 882.5L540.7 882.8L541.1 882.5L541.6 883L542.1 883.1L542.6 883.2L543.1 883.4L543.6 883.2L544.1 883.4L544.6 883.2L545.1 883.4L545.6 883.4L546.1 884.5L546.5 885.7L547 887.1L547.5 888L548 888.8L548.5 888.6L549 889.3L549.5 889.8L550 890.1L550.5 889.8L551 889.7L551.4 890.1L551.9 890.9L552.4 891.5L552.9 891.9L553.4 892.1L553.9 892.4L554.4 893L554.9 893.6L555.4 894L555.9 894.4L556.4 895.1L556.8 895.7L557.3 896.1L557.8 896.2L558.3 896.8L558.8 897.2L559.3 897.8L559.8 898L560.3 898.5L560.8 898.9L561.3 899.1L561.7 899.5L562.2 899.6L562.7 900L563.2 899.8L563.7 900L564.2 900.1L564.7 900.3L565.2 900.8L565.7 901L566.2 901.1L566.6 901.1L567.1 901L567.6 900.9L568.1 900.9L568.6 901.4L569.1 902L569.6 902.1L570.1 902.3L570.6 902L571.1 902.4L571.6 902.1L572 903.1L572.5 904L573 905.5L573.5 906.8L574 908.2L574.5 908.1L575 908.3L575.5 908.2L576 908.6L576.5 908.5L576.9 909L577.4 909.2L577.9 910L578.4 910.5L578.9 911.2L579.4 911.7L579.9 912.3L580.4 912.6L580.9 913.1L581.4 913.5L581.9 914L582.3 914.7L582.8 915L583.3 915.5L583.8 915.9L584.3 916.5L584.8 916.9L585.3 917.5L585.8 918L586.3 919.1L586.8 919.5L587.2 919.9L587.7 919.9L588.2 919.8L588.7 919.8L589.2 919.9L589.7 920.5L590.2 920.8L590.7 920.7L591.2 920.9L591.7 921.1L592.2 921.6L592.6 921.6L593.1 921.7L593.6 921.7L594.1 922L594.6 922.3L595.1 922.3L595.6 922.5L596.1 922.6L596.6 922.7L597.1 922.7L597.5 922.6L598 923.2L598.5 924.4L599 925.7L599.5 926.7L600 927.7L600.5 928.3L601 928.7L601.5 929.1L602 929L602.4 929.3L602.9 929.4L603.4 929.5L603.9 930L604.4 930.5L604.9 931.2L605.4 931.8L605.9 932.4L606.4 932.7L606.9 933.4L607.4 933.7L607.8 934.6L608.3 935.3L608.8 935.8L609.3 936.2L609.8 936.3L610.3 937L610.8 937.6L611.3 938.4L611.8 938.7L612.3 939.5L612.7 939.9L613.2 940.4L613.7 940.4L614.2 940.2L614.7 940.6L615.2 940.5L615.7 940.5L616.2 940.7L616.7 941L617.2 941.7L617.7 942L618.1 942.1L618.6 942.2L619.1 942.1L619.6 942.3L620.1 942.2L620.6 942.4L621.1 942.2L621.6 942.5L622.1 942.7L622.6 942.6L623 942.8L623.5 942.7L624 943.3L624.5 944.6L625 945.9L625.5 947.2L626 948.6L626.5 949.4L627 949.6L627.5 949.8L627.9 949.6L628.4 949.7L628.9 949.6L629.4 949.8L629.9 950.4L630.4 951.6L630.9 952.1L631.4 952.5L631.9 952.5L632.4 953.2L632.9 953.8L633.3 954.1L633.8 954.8L634.3 955.4L634.8 956.2L635.3 956.9L635.8 957.3L636.3 957.7L636.8 957.9L637.3 958.7L637.8 959.1L638.2 959.7L638.7 960.2L639.2 960.9L639.7 961.2L640.2 961.1L640.7 961.3L641.2 961.3L641.7 961.4L642.2 961.4L642.7 961.6L643.2 962L643.6 962.4L644.1 962.3L644.6 962.1L645.1 962.2L645.6 962.3L646.1 962.6L646.6 963.1L647.1 963.5L647.6 963.8L648.1 963.6L648.5 963.9L649 963.8L649.5 963.8L650 963.7L650.5 965.2L651 966.5L651.5 967.8L652 968.7L652.5 969.2L653 969.5L653.4 969.6L653.9 970.2L654.4 970.3L654.9 970.7L655.4 970.9L655.9 971.3L656.4 971.9L656.9 972L657.4 972.4L657.9 972.6L658.4 973.6L658.8 974.2L659.3 975L659.8 975.7L660.3 976.2L660.8 976.4L661.3 976.6L661.8 977.8L662.3 978L662.8 978.8L663.3 979L663.7 979.9L664.2 980.4L664.7 980.7L665.2 981.2L665.7 981.7L666.2 981.9L666.7 982.3L667.2 982.4L667.7 982.5L668.2 982.7L668.7 982.7L669.1 982.9L669.6 982.7L670.1 982.6L670.6 982.8L671.1 982.9L671.6 983.2L672.1 983.2L672.6 983.6L673.1 983.9L673.6 984L674 984L674.5 984.2L675 984.4L675.5 984.2L676 984L676.5 985L677 986.6L677.5 988.1L678 989.3L678.5 990.2L678.9 990.3L679.4 990.7L679.9 990.9L680.4 990.7L680.9 990.7L681.4 990.7L681.9 991.3L682.4 992L682.9 992.7L683.4 993.2L683.9 993.6L684.3 994.3L684.8 994.8L685.3 995.1L685.8 995.9L686.3 996.5L686.8 997.5L687.3 997.9L687.8 998.2L688.3 998.5L688.8 998.9L689.2 999.2L689.7 999.7L690.2 1000.1L690.7 1000.8L691.2 1001L691.7 1001.6L692.2 1002L692.7 1002.3L693.2 1002.4L693.7 1002.4L694.2 1002.7L694.6 1002.9L695.1 1003L695.6 1003.1L696.1 1003.3L696.6 1003.5L697.1 1003.9L697.6 1004.1L698.1 1004L698.6 1004.3L699.1 1004.2L699.5 1004.7L700 1004.3L700.5 1004.5L701 1004.5L701.5 1005.1L702 1005.2L702.5 1005.8L703 1006.8L703.5 1008.1L704 1008.9L704.5 1009.8L704.9 1010.1L705.4 1010.1L705.9 1010.7L706.4 1010.8L706.9 1011L707.4 1010.9L707.9 1011L708.4 1011.9L708.9 1012.7L709.4 1013.3L709.8 1013.6L710.3 1013.8L710.8 1014.4L711.3 1015L711.8 1015.6L712.3 1016.1L712.8 1016.4L713.3 1016.9L713.8 1017.5L714.3 1018L714.7 1018.6L715.2 1018.9L715.7 1019.2L716.2 1019.7L716.7 1020.5L717.2 1021.1L717.7 1021.6L718.2 1021.4L718.7 1021.8L719.2 1021.8L719.7 1022L720.1 1022.4L720.6 1022.5L721.1 1022.7L721.6 1022.6L722.1 1022.7L722.6 1022.6L723.1 1022.9L723.6 1023.1L724.1 1023.3L724.6 1023.3L725 1023.4L725.5 1023.6L726 1023.5L726.5 1023.7L727 1023.7L727.5 1023.8L728 1023.7L728.5 1023.9L729 1025.5L729.5 1026.5L730 1027.6L730.4 1028.6L730.9 1029.5L731.4 1029.9L731.9 1030.3L732.4 1030.2L732.9 1030.4L733.4 1030.4L733.9 1030.6L734.4 1030.9L734.9 1031.1L735.3 1031.6L735.8 1032.1L736.3 1032.8L736.8 1033.3L737.3 1033.9L737.8 1034.5L738.3 1035L738.8 1035L739.3 1035.7L739.8 1036.4L740.2 1037.3L740.7 1037.6L741.2 1037.9L741.7 1038.1L742.2 1038.4L742.7 1039.1L743.2 1039.8L743.7 1040.4L744.2 1040.2L744.7 1040.1L745.2 1040.2L745.6 1040.3L746.1 1040.7L746.6 1040.7L747.1 1041.1L747.6 1041.3L748.1 1041.6L748.6 1041.7L749.1 1041.8L749.6 1041.9L750.1 1041.5L750.5 1041.9L751 1042.2L751.5 1042.7L752 1042.5L752.5 1042.7L753 1043.1L753.5 1043.4L754 1043.3L754.5 1043.1L755 1044.1L755.5 1045.2L755.9 1046.4L756.4 1047.5L756.9 1048.5L757.4 1048.9L757.9 1049.1L758.4 1049.1L758.9 1049.2L759.4 1049.1L759.9 1049.3L760.4 1049.6L760.8 1050.1L761.3 1050.7L761.8 1051.6L762.3 1052.4L762.8 1052.7L763.3 1052.8L763.8 1053.2L764.3 1053.7L764.8 1054.1L765.3 1054.8L765.7 1055.4L766.2 1056.1L766.7 1056.6L767.2 1056.9L767.7 1057.4L768.2 1057.8L768.7 1058.6L769.2 1059.2L769.7 1059.8L770.2 1059.9L770.7 1059.8L771.1 1059.5L771.6 1059.8L772.1 1060L772.6 1060.5L773.1 1060.6L773.6 1060.8L774.1 1060.9L774.6 1060.8L775.1 1060.8L775.6 1060.9L776 1061.3L776.5 1061.5L777 1061.6L777.5 1061.2L778 1061.2L778.5 1061.2L779 1061.7L779.5 1061.7L780 1061.9L780.5 1062.1L781 1063.2L781.4 1064.5L781.9 1065.6L782.4 1066.5L782.9 1067.4L783.4 1067.6L783.9 1068L784.4 1068.6L784.9 1068.6L785.4 1068.7L785.9 1068.5L786.3 1068.9L786.8 1069.4L787.3 1070L787.8 1070.4L788.3 1070.9L788.8 1071.3L789.3 1071.7L789.8 1072.2L790.3 1072.9L790.8 1073.3L791.2 1073.8L791.7 1073.8L792.2 1074.6L792.7 1075L793.2 1075.8L793.7 1076.1L794.2 1076.6L794.7 1076.9L795.2 1077.4L795.7 1078.2L796.2 1078.9L796.6 1079.3L797.1 1079.2L797.6 1079L798.1 1079.1L798.6 1079.4L799.1 1079.8L799.6 1079.7L800.1 1079.8L800.6 1079.6L801.1 1080L801.5 1080L802 1080.5L802.5 1080.6L803 1080.7L803.5 1080.5L804 1080.5L804.5 1080.3L805 1080.6L805.5 1080.8L806 1081.2L806.5 1081.3L806.9 1082.1L807.4 1083.1L807.9 1084.2L808.4 1084.9L808.9 1086.2L809.4 1086.4L809.9 1086.3L810.4 1086.1L810.9 1086.6L811.4 1087.4L811.8 1087.6L812.3 1087.5L812.8 1088L813.3 1088.5L813.8 1088.7L814.3 1088.9L814.8 1089.5L815.3 1090.3L815.8 1090.8L816.3 1091.6L816.8 1092.2L817.2 1092.9L817.7 1093.2L818.2 1093.8L818.7 1094.1L819.2 1094.8L819.7 1095.4L820.2 1096.1L820.7 1096.2L821.2 1096.7L821.7 1097.1L822.1 1097.8L822.6 1098.2L823.1 1098.4L823.6 1098.4L824.1 1098.2L824.6 1098.4L825.1 1098.2L825.6 1098.3L826.1 1098.5L826.6 1099L827 1099.1L827.5 1098.9L828 1099L828.5 1099.3L829 1099.3L829.5 1099.3L830 1099.3L830.5 1099.5L831 1099.4L831.5 1099.6L832 1100L832.4 1100.2L832.9 1100.5L833.4 1101.5L833.9 1103L834.4 1104.5L834.9 1105.8L835.4 1106.1L835.9 1105.8L836.4 1106L836.9 1106L837.3 1106.3L837.8 1106.4L838.3 1106.8L838.8 1107.3L839.3 1107.7L839.8 1108L840.3 1108.4L840.8 1108.8L841.3 1109.7L841.8 1110.4L842.3 1111.4L842.7 1111.6L843.2 1111.7L843.7 1111.8L844.2 1112.1L844.7 1112.6L845.2 1113.4L845.7 1114.2L846.2 1114.9L846.7 1115.3L847.2 1115.9L847.6 1116.3L848.1 1116.3L848.6 1116.2L849.1 1116.5L849.6 1117L850.1 1117.3L850.6 1117.3L851.1 1117.5L851.6 1117.6L852.1 1117.9L852.5 1117.9L853 1118.1L853.5 1118.1L854 1118.2L854.5 1118.1L855 1118.4L855.5 1118.5L856 1119L856.5 1119.2L857 1119.1L857.5 1119.2L857.9 1119.5L858.4 1119.5L858.9 1119.3L859.4 1120.3L859.9 1121.5L860.4 1123L860.9 1124.1L861.4 1125.1L861.9 1125.3L862.4 1125.6L862.8 1125.6L863.3 1125.5L863.8 1125.5L864.3 1125.5L864.8 1125.9L865.3 1126.1L865.8 1126.8L866.3 1127.2L866.8 1128.2L867.3 1128.8L867.8 1129.6L868.2 1130.2L868.7 1131.1L869.2 1131.4L869.7 1131.7L870.2 1131.9L870.7 1132.4L871.2 1133.1L871.7 1133.4L872.2 1134.1L872.7 1134.4L873.1 1135.5L873.6 1135.8L874.1 1136.3L874.6 1136.3L875.1 1136.6L875.6 1136.9L876.1 1136.7L876.6 1137L877.1 1137.2L877.6 1137.6L878 1138L878.5 1138.3L879 1138.3L879.5 1138.2L880 1138.4L880.5 1138.5L881 1138.7L881.5 1138.7L882 1139L882.5 1139.1L883 1139.5L883.4 1139.3L883.9 1139.2L884.4 1138.9L884.9 1139L885.4 1140L885.9 1141.4L886.4 1143.2L886.9 1144.6L887.4 1145.6L887.9 1145.4L888.3 1145.5L888.8 1145.7L889.3 1146L889.8 1146.2L890.3 1146.2L890.8 1146.5L891.3 1146.8L891.8 1147.4L892.3 1147.8L892.8 1148.4L893.3 1149L893.7 1149.6L894.2 1150L894.7 1150.5L895.2 1150.9L895.7 1151.7L896.2 1152L896.7 1152.9L897.2 1153.2L897.7 1154L898.2 1154.1L898.6 1154.8L899.1 1155.3L899.6 1156.1L900.1 1156.7L900.6 1156.7L901.1 1156.8L901.6 1156.9L902.1 1157.2L902.6 1157L903.1 1157.2L903.5 1157.3L904 1157.6L904.5 1157.6L905 1157.9L905.5 1158.1L906 1158.2L906.5 1157.9L907 1158.1L907.5 1158.5L908 1159.2L908.5 1159.4L908.9 1159.4L909.4 1159.3L909.9 1159.3L910.4 1159.5L910.9 1159.4L911.4 1159.9L911.9 1161.3L912.4 1162.8L912.9 1163.8L913.4 1164.9L913.8 1165.1L914.3 1165.5L914.8 1165.3L915.3 1165.7L915.8 1165.8L916.3 1166.3L916.8 1166.3L917.3 1167.1L917.8 1167.3L918.3 1167.8L918.8 1168.2L919.2 1168.9L919.7 1169.4L920.2 1169.8L920.7 1170.6L921.2 1171L921.7 1171.7L922.2 1171.9L922.7 1172.4L923.2 1172.9L923.7 1173.5L924.1 1174.1L924.6 1174.8L925.1 1175.4L925.6 1176.2L926.1 1176.7L926.6 1177.2L927.1 1176.9L927.6 1177.2L928.1 1177L928.6 1177.2L929.1 1177L929.5 1177.2L930 1177.6L930.5 1177.8L931 1178.3L931.5 1178.3L932 1178.5L932.5 1178.4L933 1178.4L933.5 1178.3L934 1178.1L934.4 1178.2L934.9 1178.8L935.4 1179.2L935.9 1179.4L936.4 1179.5L936.9 1179.5L937.4 1179.9L937.9 1180.8L938.4 1182L938.9 1183.4L939.3 1184.5L939.8 1185L940.3 1184.9L940.8 1185.4L941.3 1185.7L941.8 1186L942.3 1186L942.8 1185.8L943.3 1186.3L943.8 1187.1L944.3 1187.7L944.7 1188.5L945.2 1188.6L945.7 1189.1L946.2 1189.4L946.7 1190.1L947.2 1190.6L947.7 1191.2L948.2 1191.9L948.7 1192.6L949.2 1193.2L949.6 1193.2L950.1 1193.7L950.6 1193.8L951.1 1194.8L951.6 1195.3L952.1 1196.6L952.6 1197.1L953.1 1197.6L953.6 1197.3L954.1 1197.5L954.6 1197.5L955 1197.8L955.5 1197.8L956 1197.8L956.5 1197.9L957 1197.9L957.5 1198.2L958 1198.4L958.5 1198.6L959 1198.8L959.5 1198.8L959.9 1198.8L960.4 1198.6L960.9 1198.8L961.4 1198.9L961.9 1198.9L962.4 1199.1L962.9 1199.5L963.4 1199.7L963.9 1200.8L964.4 1201.8L964.8 1203.2L965.3 1204.3L965.8 1205.4L966.3 1205.9L966.8 1206.1L967.3 1205.9L967.8 1205.8L968.3 1205.9L968.8 1206.2L969.3 1206.5L969.8 1207.5L970.2 1207.7L970.7 1208.2L971.2 1208.4L971.7 1209.4L972.2 1210L972.7 1210.5L973.2 1210.9L973.7 1211.6L974.2 1212.4L974.7 1213.1L975.1 1213.3L975.6 1213.7L976.1 1214.2L976.6 1214.9L977.1 1215.1L977.6 1215.4L978.1 1216L978.6 1216.6L979.1 1216.9L979.6 1217.4L980.1 1217.6L980.5 1217.8L981 1218.1L981.5 1218.2L982 1218.1L982.5 1218.1L983 1218.5L983.5 1218.7L984 1218.7L984.5 1218.5L985 1218.8L985.4 1218.8L985.9 1219L986.4 1219.1L986.9 1219.1L987.4 1219.2L987.9 1219.2L988.4 1219.4L988.9 1219.5L989.4 1219.9L989.9 1220.6L990.3 1221.8L990.8 1223L991.3 1224.3L991.8 1225.5L992.3 1225.8L992.8 1226L993.3 1226L993.8 1226L994.3 1226.4L994.8 1226.6L995.3 1226.6L995.7 1226.7L996.2 1227.4L996.7 1228.2L997.2 1229.1L997.7 1229.4L998.2 1230L998.7 1230.7L999.2 1231.4L999.7 1231.6L1000.2 1232.2L1000.6 1232.6L1001.1 1233.5L1001.6 1233.9L1002.1 1234.3L1002.6 1234.7L1003.1 1235.2L1003.6 1236L1004.1 1236.6L1004.6 1237.1L1005.1 1237.1L1005.6 1237.5L1006 1237.7L1006.5 1238.2L1007 1238.4L1007.5 1238.4L1008 1238.4L1008.5 1238.1L1009 1238.4L1009.5 1238.6L1010 1238.6L1010.5 1238.6L1010.9 1238.9L1011.4 1239.3L1011.9 1239.6L1012.4 1239.4L1012.9 1239.4L1013.4 1239.5L1013.9 1239.6L1014.4 1240L1014.9 1240.2L1015.4 1240.3L1015.8 1240.8L1016.3 1242L1016.8 1243.5L1017.3 1244.6L1017.8 1245.9L1018.3 1245.8L1018.8 1246.2L1019.3 1246.1L1019.8 1246.2L1020.3 1246.4L1020.8 1246.7L1021.2 1247.2L1021.7 1247.7L1022.2 1248.5L1022.7 1249.1L1023.2 1250L1023.7 1249.9L1024.2 1250.3L1024.7 1250.4L1025.2 1250.9L1025.7 1251.6L1026.1 1252.4L1026.6 1253.2L1027.1 1253.3L1027.6 1253.5L1028.1 1254.1L1028.6 1254.8L1029.1 1255.4L1029.6 1256L1030.1 1256.5L1030.6 1257.1L1031.1 1257.7L1031.5 1257.7L1032 1257.8L1032.5 1257.7L1033 1258.3L1033.5 1258.1L1034 1258.4L1034.5 1258.4L1035 1259.1L1035.5 1259L1036 1258.9L1036.4 1259L1036.9 1259L1037.4 1259.2L1037.9 1259.3L1038.4 1259.7L1038.9 1259.9L1039.4 1259.9L1039.9 1259.9L1040.4 1260L1040.9 1260.3L1041.4 1260.3L1041.8 1260.6L1042.3 1261.8L1042.8 1263.2L1043.3 1264.4L1043.8 1265.5L1044.3 1266.1L1044.8 1266.2L1045.3 1266.5L1045.8 1266.6L1046.3 1267L1046.7 1267.4L1047.2 1267.4L1047.7 1267.8L1048.2 1268L1048.7 1268.4L1049.2 1269L1049.7 1269.7L1050.2 1270.3L1050.7 1270.7L1051.2 1271.1L1051.6 1271.6L1052.1 1272.1L1052.6 1272.5L1053.1 1273.1L1053.6 1273.7L1054.1 1274.5L1054.6 1274.9L1055.1 1275.1L1055.6 1275.9L1056.1 1276.5L1056.6 1277.4L1057 1277.6L1057.5 1277.5L1058 1277.4L1058.5 1277.8L1059 1278.3L1059.5 1278.4L1060 1278.1L1060.5 1278L1061 1278.6L1061.5 1279L1061.9 1279.6L1062.4 1279.7L1062.9 1279.6L1063.4 1279.3L1063.9 1279.2L1064.4 1279.5L1064.9 1279.8L1065.4 1280.2L1065.9 1280.4L1066.4 1280.4L1066.9 1280L1067.3 1279.9L1067.8 1280.1L1068.3 1281.5L1068.8 1282.7L1069.3 1284.1L1069.8 1285.4L1070.3 1285.9L1070.8 1286.2L1071.3 1286.4L1071.8 1286.8L1072.2 1286.9L1072.7 1287.2L1073.2 1287L1073.7 1287.3L1074.2 1287.5L1074.7 1288.3L1075.2 1288.8L1075.7 1289.6L1076.2 1289.8L1076.7 1290.1L1077.1 1290.7L1077.6 1291.6L1078.1 1292.5L1078.6 1292.8L1079.1 1293.2L1079.6 1293.3L1080.1 1294.2L1080.6 1294.5L1081.1 1295.2L1081.6 1295.4L1082.1 1296.2L1082.5 1296.9L1083 1297.4L1083.5 1297.4L1084 1297.3L1084.5 1297.5L1085 1297.6L1085.5 1297.9L1086 1298.1L1086.5 1298.3L1087 1298.5L1087.4 1298.9L1087.9 1298.8L1088.4 1298.8L1088.9 1299L1089.4 1299.3L1089.9 1299.2L1090.4 1299.1L1090.9 1299.1L1091.4 1299.6L1091.9 1299.5L1092.4 1299.8L1092.8 1300L1093.3 1300L1093.8 1300.4L1094.3 1301.1L1094.8 1302.2L1095.3 1303.2L1095.8 1304.5L1096.3 1305.6L1096.8 1305.9L1097.3 1306.2L1097.7 1306.4L1098.2 1306.4L1098.7 1306.6L1099.2 1306.8L1099.7 1307.4L1100.2 1308.1L1100.7 1308.4L1101.2 1308.9L1101.7 1309.1L1102.2 1309.7L1102.6 1310L1103.1 1310.5L1103.6 1311.2L1104.1 1311.8L1104.6 1312.4L1105.1 1312.7L1105.6 1313.1L1106.1 1313.5L1106.6 1314.1L1107.1 1314.8L1107.6 1315.4L1108 1315.8L1108.5 1316.4L1109 1316.7L1109.5 1316.9L1110 1316.7L1110.5 1317.1L1111 1317.3L1111.5 1317.6L1112 1317.7L1112.5 1317.6L1112.9 1318L1113.4 1318.2L1113.9 1318.3L1114.4 1318.2L1114.9 1318.4L1115.4 1318.8L1115.9 1318.9L1116.4 1318.9L1116.9 1319.2L1117.4 1319.6L1117.9 1319.9L1118.3 1319.7L1118.8 1319.6L1119.3 1319.7L1119.8 1320L1120.3 1320.6L1120.8 1321.8L1121.3 1322.9L1121.8 1324.3L1122.3 1325.4L1122.8 1325.6L1123.2 1325.6L1123.7 1325.6L1124.2 1325.5L1124.7 1325.7L1125.2 1325.8L1125.7 1326.3L1126.2 1326.8L1126.7 1327.5L1127.2 1328.3L1127.7 1329L1128.1 1329.6L1128.6 1330.1L1129.1 1330.3L1129.6 1330.6L1130.1 1331L1130.6 1331.9L1131.1 1332.4L1131.6 1332.9L1132.1 1333.3L1132.6 1333.5L1133.1 1333.8L1133.5 1334.2L1134 1335L1134.5 1335.9L1135 1336.7L1135.5 1337.4" stroke="#ff00ff" stroke-width="5.4" fill="none" stroke-linejoin="miter" stroke-linecap="butt" clip-path="url(#clipC)"/>
<path d="M467.2 896.3V840.2" stroke="#ff00ff" stroke-width="5.5"/>
<rect x="641.4" y="944.5" width="37.4" height="64.8" fill="none" stroke="#0a0a0a" stroke-width="1.75"/>
<clipPath id="clip_ic"><rect x="518.5" y="1120" width="203.1" height="146"/></clipPath>
<path d="M523.3 1122V1264M566.5 1122V1264M608.7 1122V1264M651.8 1122V1264M694.1 1122V1264M521.5 1132.1H721.6M521.5 1180.2H721.6M521.5 1228.5H721.6" stroke="#d2d2d2" stroke-width="1.1" fill="none"/>
<path d="M523.3 1264v-4M523.3 1122v4M566.5 1264v-4M566.5 1122v4M608.7 1264v-4M608.7 1122v4M651.8 1264v-4M651.8 1122v4M694.1 1264v-4M694.1 1122v4M521.5 1132.1h4M721.6 1132.1h-4M521.5 1180.2h4M721.6 1180.2h-4M521.5 1228.5h4M721.6 1228.5h-4" stroke="#262626" stroke-width="1.7" fill="none"/>
<rect x="521.5" y="1122" width="200.1" height="142" fill="none" stroke="#262626" stroke-width="1.7"/>
<path d="M520.8 1146.8L521.6 1146.6L522.4 1146.6L523.2 1146.9L524 1146.9L524.8 1147L525.6 1146.6L526.4 1146.7L527.2 1146.7L528 1147.1L528.8 1148.1L529.6 1149L530.4 1149.7L531.2 1150.3L532 1151L532.8 1152.4L533.6 1153.9L534.4 1156.3L535.2 1158.8L536 1160.7L536.8 1161.9L537.6 1162.5L538.4 1163.3L539.2 1164.2L540 1165.1L540.8 1165.6L541.6 1165.9L542.4 1166.1L543.2 1166.5L544 1166.6L544.8 1166.6L545.6 1166.6L546.4 1166.8L547.2 1167.2L548 1168.2L548.8 1169.7L549.6 1171.7L550.4 1173.7L551.2 1175.4L552 1177.2L552.8 1178.5L553.6 1180L554.4 1180.7L555.2 1181.6L556 1182L556.8 1181.8L557.6 1181.5L558.4 1181.2L559.2 1181.3L560 1182L560.8 1183.3L561.6 1185.7L562.4 1187.9L563.2 1189.9L564 1191L564.8 1192L565.6 1193.2L566.4 1194L567.2 1195.1L568 1196.1L568.8 1197.1L569.6 1197.7L570.4 1197.5L571.2 1197.5L572 1197.6L572.8 1198L573.6 1198.3L574.4 1198.5L575.2 1198L576 1197.5L576.8 1197.5L577.6 1197.2L578.4 1197.7L579.2 1198.3L580 1200.3L580.8 1201.8L581.6 1203.5L582.4 1204.2L583.2 1205.4L584 1206.1L584.8 1207L585.6 1207.5L586.4 1207.5L587.2 1207.6L588 1207.3L588.8 1207.6L589.6 1207.2L590.4 1207.2L591.2 1206.6L592 1206.9L592.8 1207.2L593.6 1207.6L594.4 1207.7L595.2 1207.9L596 1208.2L596.8 1208.9L597.6 1209.7L598.4 1209.5L599.2 1209.4L600 1208.7L600.8 1209L601.6 1208.9L602.4 1209.7L603.2 1209.8L604 1210.6L604.8 1210.6L605.6 1211.2L606.4 1211.6L607.2 1212L608 1212.6L608.8 1212.6L609.6 1212.9L610.4 1213L611.2 1212.7L612 1212.5L612.8 1212.5L613.6 1212.7L614.4 1213L615.2 1213.2L616 1213.8L616.8 1214.6L617.6 1215.4L618.4 1216.1L619.2 1217L620 1217.7L620.8 1219.2L621.6 1221.2L622.4 1223.9L623.2 1226.5L624 1229.4L624.8 1231.9L625.6 1234.6L626.4 1237.2L627.2 1240L628 1241.5L628.8 1241.3L629.6 1239.7L630.4 1238L631.2 1236.1L632 1234.9L632.8 1234.5L633.6 1234.7L634.4 1234.8L635.2 1234.6L636 1234.7L636.8 1234.9L637.6 1235.5L638.4 1235.9L639.2 1236.2L640 1237L640.8 1237.6L641.6 1238.5L642.4 1238.7L643.2 1239.3L644 1239.6L644.8 1240.1L645.6 1240.2L646.4 1241L647.2 1242.2L648 1244L648.8 1245.7L649.6 1247.7L650.4 1249.8L651.2 1250.9L652 1252.1L652.8 1253.1L653.6 1254.2L654.4 1254.6L655.2 1254.7L656 1254.5L656.8 1254.5L657.6 1254.8L658.4 1255.1L659.2 1255L660 1255.1L660.8 1255.2L661.6 1256.3L662.4 1258.4L663.2 1260.4L664 1262.7L664.8 1264.1L665.6 1265.7" stroke="#000" stroke-width="5.0" fill="none" stroke-linejoin="round" stroke-linecap="butt" clip-path="url(#clip_ic)"/>
<path d="M521.5 1144.5L522.3 1144.4L523.1 1144.8L523.9 1145L524.7 1144.7L525.5 1144L526.3 1143.3L527.1 1143.9L527.9 1144.8L528.7 1145.7L529.5 1145.8L530.3 1146.1L531.1 1147.2L531.9 1148.2L532.7 1149L533.5 1150L534.3 1151.8L535.1 1153.5L535.9 1155.4L536.7 1157L537.5 1158.7L538.3 1159.4L539.1 1160.3L539.9 1160.9L540.7 1162.1L541.5 1162.8L542.3 1163L543.1 1163.2L543.9 1164.2L544.7 1164.5L545.5 1164.2L546.3 1162.9L547.1 1163.4L547.9 1164.1L548.7 1166.2L549.5 1167.7L550.3 1169.7L551.1 1170.8L551.9 1172.6L552.7 1173.8L553.5 1174.9L554.3 1176.1L555.1 1176.9L555.9 1178.2L556.7 1178.5L557.5 1178.9L558.3 1178.5L559.1 1178L559.9 1178.2L560.7 1179.2L561.5 1180.8L562.3 1182.4L563.1 1184.7L563.9 1187.2L564.7 1188.6L565.5 1189.2L566.3 1189.1L567.1 1190L567.9 1190.6L568.7 1191.8L569.5 1193L570.3 1193.7L571.1 1194.7L571.9 1194.6L572.7 1195.6L573.5 1195.5L574.3 1195.5L575.1 1195.1L575.9 1194.6L576.7 1194.7L577.5 1194.5L578.3 1194.5L579.1 1195L579.9 1196.4L580.7 1198.6L581.5 1199.8L582.3 1200.9L583.1 1202L583.9 1202.8L584.7 1203.6L585.5 1204.4L586.3 1205.1L587.1 1205.1L587.9 1204.1L588.7 1203.6L589.5 1203.5L590.3 1204L591.1 1204.4L591.9 1204.6L592.7 1204.7L593.5 1204.2L594.3 1204.4L595.1 1205.2L595.9 1206.1L596.7 1206.3L597.5 1206.4L598.3 1206.1L599.1 1206.1L599.9 1205.6L600.7 1206.2L601.5 1206.1L602.3 1206.5L603.1 1206.8L603.9 1207.4L604.7 1207.6L605.5 1207.3L606.3 1208.3L607.1 1209L607.9 1210L608.7 1209.9L609.5 1209.9L610.3 1209.9L611.1 1209.6L611.9 1210.2L612.7 1210L613.5 1210.4L614.3 1209.9L615.1 1210L615.9 1210.6L616.7 1210.6L617.5 1211.6L618.3 1212.4L619.1 1213.6L619.9 1214.2L620.7 1215L621.5 1216.3L622.3 1218.2L623.1 1221.1L623.9 1224.3L624.7 1227.3L625.5 1229.8L626.3 1232.2L627.1 1235L627.9 1236.5L628.7 1238.2L629.5 1238.5L630.3 1237.3L631.1 1235L631.9 1232.6L632.7 1231.4L633.5 1231.5L634.3 1232.3L635.1 1232.3L635.9 1232.5L636.7 1232.6L637.5 1233L638.3 1233.3L639.1 1233.2L639.9 1233.8L640.7 1234L641.5 1234.5L642.3 1235.5L643.1 1236.7L643.9 1237.4L644.7 1237.5L645.5 1236.8L646.3 1237L647.1 1237.2L647.9 1239.9L648.7 1241.9L649.5 1244.2L650.3 1245.8L651.1 1247.5L651.9 1248.6L652.7 1249.2L653.5 1250.4L654.3 1251.4L655.1 1251.7L655.9 1251.4L656.7 1251L657.5 1251.2L658.3 1251.4L659.1 1251.3L659.9 1251.7L660.7 1252L661.5 1252.7L662.3 1253.9L663.1 1255.8L663.9 1258L664.7 1259.7L665.5 1261.4L666.3 1262.6" stroke="#0000ff" stroke-width="5.0" fill="none" stroke-linejoin="round" stroke-linecap="butt" clip-path="url(#clip_ic)"/>
<path d="M528.8 1121.9L529.6 1122.6L530.4 1123.3L531.2 1124.2L532 1124.8L532.8 1125.6L533.6 1126.5L534.4 1128.2L535.2 1130.1L536 1132.3L536.8 1134L537.6 1135L538.4 1135.6L539.2 1136.5L540 1137.4L540.8 1138.1L541.6 1138.6L542.4 1139.1L543.2 1139.1L544 1139.2L544.8 1139.3L545.6 1139.8L546.4 1139.9L547.2 1140.3L548 1141L548.8 1142.2L549.6 1143.5L550.4 1144.8L551.2 1146.6L552 1148.1L552.8 1149.4L553.6 1150.5L554.4 1151.6L555.2 1152.7L556 1153.1L556.8 1153.6L557.6 1153.9L558.4 1154.4L559.2 1154.6L560 1154.8L560.8 1155L561.6 1156.1L562.4 1157.3L563.2 1158.8L564 1160L564.8 1161.6L565.6 1162.8L566.4 1164L567.2 1164.8L568 1165.8L568.8 1166.9L569.6 1167.9L570.4 1169L571.2 1170L572 1170.8L572.8 1170.9L573.6 1170.9L574.4 1170.7L575.2 1170.8L576 1170.3L576.8 1170.4L577.6 1170.7L578.4 1172L579.2 1173L580 1173.8L580.8 1174.8L581.6 1175.9L582.4 1176.6L583.2 1177.3L584 1178L584.8 1178.9L585.6 1178.9L586.4 1178.9L587.2 1178.9L588 1179.1L588.8 1179.2L589.6 1179.4L590.4 1179.4L591.2 1179.5L592 1179.4L592.8 1179.9L593.6 1179.9L594.4 1180.6L595.2 1180.6L596 1181.1L596.8 1181.4L597.6 1181.7L598.4 1181.8L599.2 1181.6L600 1181.6L600.8 1181.6L601.6 1181.7L602.4 1181.8L603.2 1182L604 1182.6L604.8 1183.1L605.6 1183.5L606.4 1183.7L607.2 1184L608 1184.5L608.8 1184.7L609.6 1185.1L610.4 1185.3L611.2 1185.3L612 1185.2L612.8 1185.4L613.6 1185.6L614.4 1185.8L615.2 1185.7L616 1185.8L616.8 1186.5L617.6 1187.3L618.4 1187.9L619.2 1188.6L620 1189.1L620.8 1190L621.6 1191.4L622.4 1193.9L623.2 1196.4L624 1198.7L624.8 1201L625.6 1203.6L626.4 1205.6L627.2 1207.6L628 1209.4L628.8 1210.7L629.6 1210.5L630.4 1209.8L631.2 1209.1L632 1208.5L632.8 1208.3L633.6 1208.3L634.4 1208.3L635.2 1208.2L636 1208.1L636.8 1208.4L637.6 1208.2L638.4 1208.3L639.2 1208.3L640 1208.9L640.8 1209.7L641.6 1210.5L642.4 1211.5L643.2 1212.3L644 1213.1L644.8 1213.7L645.6 1214.3L646.4 1214.7L647.2 1215.8L648 1217.4L648.8 1219.5L649.6 1221.3L650.4 1223.4L651.2 1224.9L652 1225.4L652.8 1226L653.6 1226.7L654.4 1227.4L655.2 1227.8L656 1228.3L656.8 1228.9L657.6 1229.3L658.4 1229.5L659.2 1229.7L660 1229.8L660.8 1230.3L661.6 1230.6L662.4 1231.8L663.2 1233.1L664 1234.8L664.8 1236.5L665.6 1238.2L666.4 1239.8L667.2 1241L668 1241.6L668.8 1242.1L669.6 1242.3L670.4 1242.5L671.2 1242.6L672 1242.9L672.8 1243.5L673.6 1244.4L674.4 1245.7L675.2 1246.9L676 1248.4L676.8 1249.4L677.6 1250.6L678.4 1252L679.2 1253.2L680 1254.4L680.8 1255.1L681.6 1256L682.4 1256.8L683.2 1257.7L684 1258.6L684.8 1259L685.6 1259.3L686.4 1259.4L687.2 1259.3L688 1259.4L688.8 1259.6L689.6 1260L690.4 1260.3L691.2 1260.7L692 1261.2L692.8 1261.7L693.6 1262.1" stroke="#ff00ff" stroke-width="5.0" fill="none" stroke-linejoin="round" stroke-linecap="butt" clip-path="url(#clip_ic)"/>
<text x="523.3" y="1293" font-size="20.5" text-anchor="middle" font-weight="bold" fill="#262626">0.95</text>
<text x="566.5" y="1293" font-size="20.5" text-anchor="middle" font-weight="bold" fill="#262626">1</text>
<text x="608.7" y="1293" font-size="20.5" text-anchor="middle" font-weight="bold" fill="#262626">1.05</text>
<text x="651.8" y="1293" font-size="20.5" text-anchor="middle" font-weight="bold" fill="#262626">1.1</text>
<text x="694.1" y="1293" font-size="20.5" text-anchor="middle" font-weight="bold" fill="#262626">1.15</text>
<text x="512.5" y="1139.6" font-size="20.5" text-anchor="end" font-weight="bold" fill="#262626">0.76</text>
<text x="512.5" y="1187.7" font-size="20.5" text-anchor="end" font-weight="bold" fill="#262626">0.74</text>
<text x="512.5" y="1236" font-size="20.5" text-anchor="end" font-weight="bold" fill="#262626">0.72</text>
<text x="721" y="1323.6" font-size="23" text-anchor="end" font-weight="normal" fill="#262626">×10<tspan dy="-10.8" font-size="17.5">4</tspan></text>
<path d="M656.6 1009.6L609.2 1103.2" stroke="#000" stroke-width="1.9" fill="none"/>
<path d="M603.1 1115.2L605 1091.5L609.2 1103.2L621.1 1099.6Z" fill="#000"/>
<text x="457.9" y="1337.4" font-size="20.8" text-anchor="end" font-weight="bold" fill="#262626">0.1</text>
<text x="457.9" y="1283.3" font-size="20.8" text-anchor="end" font-weight="bold" fill="#262626">0.2</text>
<text x="457.9" y="1229.1" font-size="20.8" text-anchor="end" font-weight="bold" fill="#262626">0.3</text>
<text x="457.9" y="1175" font-size="20.8" text-anchor="end" font-weight="bold" fill="#262626">0.4</text>
<text x="457.9" y="1120.8" font-size="20.8" text-anchor="end" font-weight="bold" fill="#262626">0.5</text>
<text x="457.9" y="1066.7" font-size="20.8" text-anchor="end" font-weight="bold" fill="#262626">0.6</text>
<text x="457.9" y="1012.5" font-size="20.8" text-anchor="end" font-weight="bold" fill="#262626">0.7</text>
<text x="457.9" y="958.4" font-size="20.8" text-anchor="end" font-weight="bold" fill="#262626">0.8</text>
<text x="457.9" y="904.2" font-size="20.8" text-anchor="end" font-weight="bold" fill="#262626">0.9</text>
<text x="457.9" y="850.1" font-size="20.8" text-anchor="end" font-weight="bold" fill="#262626">1</text>
<text x="457.9" y="795.9" font-size="20.8" text-anchor="end" font-weight="bold" fill="#262626">1.1</text>
<text x="467.1" y="1357.9" font-size="20.8" text-anchor="middle" font-weight="bold" fill="#262626">0</text>
<text x="565.2" y="1357.9" font-size="20.8" text-anchor="middle" font-weight="bold" fill="#262626">0.5</text>
<text x="663.3" y="1357.9" font-size="20.8" text-anchor="middle" font-weight="bold" fill="#262626">1</text>
<text x="761.3" y="1357.9" font-size="20.8" text-anchor="middle" font-weight="bold" fill="#262626">1.5</text>
<text x="859.4" y="1357.9" font-size="20.8" text-anchor="middle" font-weight="bold" fill="#262626">2</text>
<text x="957.5" y="1357.9" font-size="20.8" text-anchor="middle" font-weight="bold" fill="#262626">2.5</text>
<text x="1055.6" y="1357.9" font-size="20.8" text-anchor="middle" font-weight="bold" fill="#262626">3</text>
<text x="1153.7" y="1357.9" font-size="20.8" text-anchor="middle" font-weight="bold" fill="#262626">3.5</text>
<text x="811" y="1389.8" font-size="27.5" text-anchor="middle" font-weight="bold" fill="#262626">Time(s)</text>
<text transform="translate(419 1063) rotate(-90)" font-size="27.5" text-anchor="middle" font-weight="bold" fill="#262626">SOC</text>
<text x="1153.8" y="1390.8" font-size="23" text-anchor="end" font-weight="normal" fill="#262626">×10<tspan dy="-10.8" font-size="17.5">4</tspan></text>
<rect x="836.6" y="804.5" width="301" height="102.3" rx="0" fill="#fff" stroke="#262626" stroke-width="1.7"/>
<path d="M843 823.5H906.5" stroke="#000" stroke-width="4.6"/>
<text x="912" y="833.5" font-size="27.4" text-anchor="start" font-weight="bold" fill="#000" textLength="117.2" lengthAdjust="spacing">Reference</text>
<path d="M843 856H906.5" stroke="#0000ff" stroke-width="4.6"/>
<text x="912" y="865.5" font-size="27.4" text-anchor="start" font-weight="bold" fill="#000" textLength="218.5" lengthAdjust="spacing">FOAMIUHF-UKF</text>
<path d="M843 888H906.5" stroke="#ff00ff" stroke-width="4.6"/>
<text x="912" y="898" font-size="27.4" text-anchor="start" font-weight="bold" fill="#000" textLength="199" lengthAdjust="spacing">FOMIUKF-UKF</text>
<text x="795" y="1479.2" font-size="50" text-anchor="middle" fill="#000">(c) Japan</text>
</g>
</svg>
</body></html>
